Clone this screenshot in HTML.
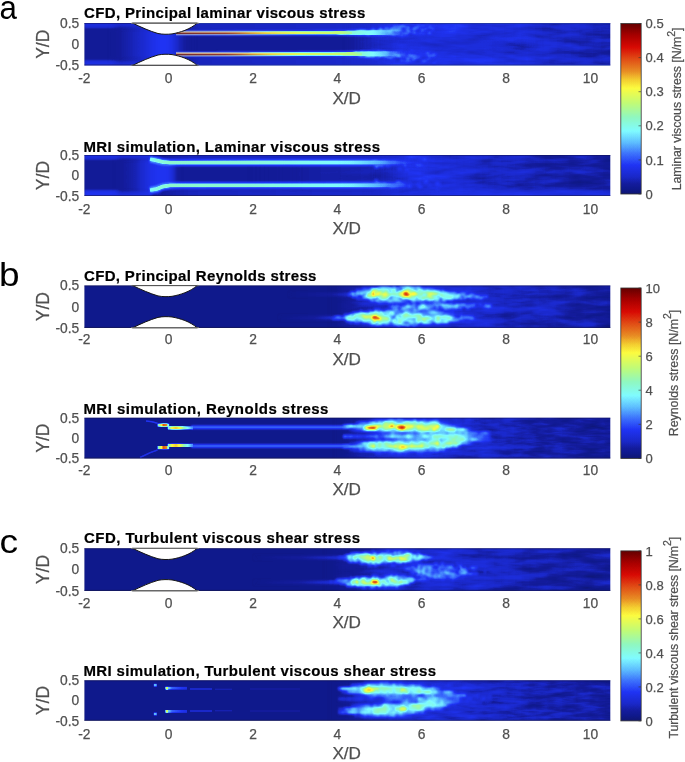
<!DOCTYPE html><html><head><meta charset="utf-8"><style>
html,body{margin:0;padding:0;background:#fff;}
svg{display:block;will-change:transform;filter:blur(0.3px);}
text{font-family:"Liberation Sans",sans-serif;}
</style></head><body>
<svg width="685" height="762" viewBox="0 0 685 762">
<defs>
<filter id="mapa1" filterUnits="userSpaceOnUse" x="84.4" y="23.0" width="525.90" height="42.50" color-interpolation-filters="sRGB">
<feTurbulence type="fractalNoise" baseFrequency="0.03 0.16" numOctaves="3" seed="3" result="t"/>
<feColorMatrix in="t" type="matrix" values="0 0 0 0 0 1 0 0 0 0 0 0 0 0 0 0 0 0 0 1" result="ng"/>
<feComposite in="SourceGraphic" in2="ng" operator="arithmetic" k1="1" k2="0" k3="0" k4="0" result="p"/>
<feColorMatrix in="SourceGraphic" type="matrix" values="1 0 0 0 0 0 0 0 0 0 0 1 0 0 0 0 0 0 1 0" result="s2"/>
<feComposite in="s2" in2="p" operator="arithmetic" k1="0" k2="1" k3="1" k4="0" result="q"/>
<feColorMatrix in="q" type="matrix" values="1 0.12 -0.06 0 0 1 0.12 -0.06 0 0 1 0.12 -0.06 0 0 0 0 0 1 0"/>
<feComponentTransfer><feFuncR type="table" tableValues="0.063 0.061 0.060 0.059 0.065 0.072 0.078 0.084 0.090 0.096 0.102 0.105 0.109 0.112 0.115 0.119 0.122 0.125 0.142 0.159 0.176 0.193 0.210 0.227 0.245 0.264 0.284 0.303 0.322 0.341 0.361 0.381 0.401 0.421 0.441 0.462 0.482 0.502 0.510 0.518 0.525 0.533 0.541 0.549 0.557 0.565 0.588 0.612 0.635 0.659 0.682 0.706 0.729 0.753 0.779 0.805 0.831 0.858 0.884 0.910 0.936 0.962 0.988 0.982 0.976 0.969 0.963 0.957 0.947 0.938 0.929 0.919 0.910 0.906 0.902 0.898 0.894 0.890 0.886 0.882 0.878 0.873 0.868 0.863 0.858 0.852 0.847 0.820 0.793 0.766 0.739 0.713 0.686 0.659 0.621 0.583 0.545 0.506 0.468 0.430 0.392"/><feFuncG type="table" tableValues="0.086 0.090 0.094 0.098 0.102 0.106 0.110 0.122 0.133 0.145 0.157 0.164 0.170 0.177 0.184 0.190 0.197 0.204 0.240 0.276 0.313 0.349 0.385 0.421 0.462 0.508 0.554 0.600 0.646 0.691 0.737 0.773 0.809 0.845 0.881 0.917 0.952 0.988 0.986 0.984 0.982 0.980 0.978 0.976 0.975 0.973 0.975 0.976 0.978 0.980 0.982 0.984 0.986 0.988 0.988 0.988 0.988 0.988 0.988 0.988 0.988 0.988 0.988 0.951 0.913 0.875 0.838 0.800 0.750 0.700 0.649 0.599 0.549 0.514 0.478 0.443 0.408 0.373 0.337 0.302 0.267 0.229 0.191 0.153 0.115 0.077 0.039 0.034 0.028 0.022 0.017 0.011 0.006 0.000 0.000 0.000 0.000 0.000 0.000 0.000 0.000"/><feFuncB type="table" tableValues="0.439 0.476 0.512 0.549 0.570 0.591 0.612 0.655 0.698 0.741 0.784 0.809 0.834 0.858 0.883 0.908 0.932 0.957 0.962 0.967 0.971 0.976 0.981 0.986 0.989 0.991 0.993 0.995 0.996 0.998 1.000 1.000 1.000 1.000 1.000 1.000 1.000 1.000 0.969 0.938 0.907 0.876 0.846 0.815 0.784 0.753 0.718 0.682 0.647 0.612 0.576 0.541 0.506 0.471 0.446 0.422 0.397 0.373 0.349 0.324 0.300 0.275 0.251 0.238 0.226 0.213 0.201 0.188 0.179 0.169 0.160 0.151 0.141 0.133 0.125 0.118 0.110 0.102 0.094 0.086 0.078 0.068 0.058 0.047 0.037 0.026 0.016 0.013 0.011 0.009 0.007 0.004 0.002 0.000 0.000 0.000 0.000 0.000 0.000 0.000 0.000"/><feFuncA type="linear" slope="0" intercept="1"/></feComponentTransfer>
</filter>
<clipPath id="clipa1"><rect x="84.4" y="23.0" width="525.90" height="42.50"/></clipPath>
<filter id="b1_2" filterUnits="userSpaceOnUse" x="0" y="0" width="685" height="762" color-interpolation-filters="sRGB"><feGaussianBlur stdDeviation="1.2"/></filter>
<filter id="b3" filterUnits="userSpaceOnUse" x="0" y="0" width="685" height="762" color-interpolation-filters="sRGB"><feGaussianBlur stdDeviation="3"/></filter>
<linearGradient id="g1" gradientUnits="userSpaceOnUse" x1="115" y1="0" x2="190" y2="0"><stop offset="0.0000" stop-color="#0d0000"/><stop offset="0.3333" stop-color="#1a0000"/><stop offset="0.5733" stop-color="#2b0000"/><stop offset="0.7333" stop-color="#2b0000"/><stop offset="0.8400" stop-color="#170000"/><stop offset="0.9733" stop-color="#0d0000"/></linearGradient>
<filter id="b1_5" filterUnits="userSpaceOnUse" x="0" y="0" width="685" height="762" color-interpolation-filters="sRGB"><feGaussianBlur stdDeviation="1.5"/></filter>
<linearGradient id="g2" gradientUnits="userSpaceOnUse" x1="178" y1="0" x2="420" y2="0"><stop offset="0.0000" stop-color="#0f0000"/><stop offset="0.0909" stop-color="#170000"/><stop offset="0.6281" stop-color="#1a0000"/><stop offset="1.0000" stop-color="#1f0000"/></linearGradient>
<linearGradient id="g3" gradientUnits="userSpaceOnUse" x1="178" y1="0" x2="420" y2="0"><stop offset="0.0000" stop-color="#0f0000"/><stop offset="0.0909" stop-color="#170000"/><stop offset="0.6281" stop-color="#1a0000"/><stop offset="1.0000" stop-color="#1f0000"/></linearGradient>
<filter id="b2_5" filterUnits="userSpaceOnUse" x="0" y="0" width="685" height="762" color-interpolation-filters="sRGB"><feGaussianBlur stdDeviation="2.5"/></filter>
<linearGradient id="g4" gradientUnits="userSpaceOnUse" x1="345" y1="0" x2="615.3" y2="0"><stop offset="0.0000" stop-color="#1a0000" stop-opacity="0"/><stop offset="0.0999" stop-color="#1f6600" stop-opacity="0.6"/><stop offset="0.2035" stop-color="#26ff00"/><stop offset="0.3885" stop-color="#26ff00"/><stop offset="0.6104" stop-color="#21ff00"/><stop offset="0.7954" stop-color="#1aff00"/><stop offset="0.9878" stop-color="#13ff00"/></linearGradient>
<filter id="b0_5" filterUnits="userSpaceOnUse" x="0" y="0" width="685" height="762" color-interpolation-filters="sRGB"><feGaussianBlur stdDeviation="0.5"/></filter>
<filter id="b1_0" filterUnits="userSpaceOnUse" x="0" y="0" width="685" height="762" color-interpolation-filters="sRGB"><feGaussianBlur stdDeviation="1.0"/></filter>
<linearGradient id="g5" gradientUnits="userSpaceOnUse" x1="176" y1="0" x2="424" y2="0"><stop offset="0.0000" stop-color="#260000"/><stop offset="0.0968" stop-color="#330000"/><stop offset="0.5000" stop-color="#380000"/><stop offset="0.7016" stop-color="#3d0000"/><stop offset="0.8226" stop-color="#380000"/><stop offset="0.9234" stop-color="#300000" stop-opacity="0.7"/><stop offset="1.0000" stop-color="#260000" stop-opacity="0"/></linearGradient>
<filter id="b0_8" filterUnits="userSpaceOnUse" x="0" y="0" width="685" height="762" color-interpolation-filters="sRGB"><feGaussianBlur stdDeviation="0.8"/></filter>
<filter id="b0_7" filterUnits="userSpaceOnUse" x="0" y="0" width="685" height="762" color-interpolation-filters="sRGB"><feGaussianBlur stdDeviation="0.7"/></filter>
<linearGradient id="g6" gradientUnits="userSpaceOnUse" x1="176" y1="0" x2="404" y2="0"><stop offset="0.0000" stop-color="#800000"/><stop offset="0.2368" stop-color="#940000"/><stop offset="0.4561" stop-color="#8f0000"/><stop offset="0.6754" stop-color="#870000"/><stop offset="0.7281" stop-color="#800000"/><stop offset="0.7719" stop-color="#6b0000"/><stop offset="0.8728" stop-color="#5c0000"/><stop offset="0.9298" stop-color="#540000" stop-opacity="0.6"/><stop offset="0.9956" stop-color="#4c0000" stop-opacity="0"/></linearGradient>
<filter id="b0_45" filterUnits="userSpaceOnUse" x="0" y="0" width="685" height="762" color-interpolation-filters="sRGB"><feGaussianBlur stdDeviation="0.45"/></filter>
<linearGradient id="g7" gradientUnits="userSpaceOnUse" x1="176" y1="0" x2="352" y2="0"><stop offset="0.0000" stop-color="#e60000"/><stop offset="0.2784" stop-color="#db0000"/><stop offset="0.4205" stop-color="#b20000"/><stop offset="0.5625" stop-color="#9e0000"/><stop offset="0.7614" stop-color="#940000"/><stop offset="0.8864" stop-color="#8f0000"/><stop offset="1.0000" stop-color="#800000"/></linearGradient>
<linearGradient id="g8" gradientUnits="userSpaceOnUse" x1="176" y1="0" x2="424" y2="0"><stop offset="0.0000" stop-color="#260000"/><stop offset="0.0968" stop-color="#330000"/><stop offset="0.5000" stop-color="#380000"/><stop offset="0.7016" stop-color="#3d0000"/><stop offset="0.8226" stop-color="#380000"/><stop offset="0.9234" stop-color="#300000" stop-opacity="0.7"/><stop offset="1.0000" stop-color="#260000" stop-opacity="0"/></linearGradient>
<linearGradient id="g9" gradientUnits="userSpaceOnUse" x1="176" y1="0" x2="404" y2="0"><stop offset="0.0000" stop-color="#800000"/><stop offset="0.2368" stop-color="#940000"/><stop offset="0.4561" stop-color="#8f0000"/><stop offset="0.6754" stop-color="#870000"/><stop offset="0.7719" stop-color="#800000"/><stop offset="0.8158" stop-color="#6b0000"/><stop offset="0.8728" stop-color="#5c0000"/><stop offset="0.9298" stop-color="#540000" stop-opacity="0.6"/><stop offset="0.9956" stop-color="#4c0000" stop-opacity="0"/></linearGradient>
<linearGradient id="g10" gradientUnits="userSpaceOnUse" x1="176" y1="0" x2="362" y2="0"><stop offset="0.0000" stop-color="#e60000"/><stop offset="0.2634" stop-color="#db0000"/><stop offset="0.3978" stop-color="#b20000"/><stop offset="0.5323" stop-color="#9e0000"/><stop offset="0.7204" stop-color="#940000"/><stop offset="0.8925" stop-color="#8f0000"/><stop offset="1.0000" stop-color="#800000"/></linearGradient>
<linearGradient id="g11" gradientUnits="userSpaceOnUse" x1="385" y1="0" x2="540" y2="0"><stop offset="0.0000" stop-color="#178000" stop-opacity="0"/><stop offset="0.2581" stop-color="#1a9900" stop-opacity="0.8"/><stop offset="0.6129" stop-color="#1bb200" stop-opacity="0.8"/><stop offset="1.0000" stop-color="#1ccc00" stop-opacity="0"/></linearGradient>
<linearGradient id="g12" gradientUnits="userSpaceOnUse" x1="176" y1="0" x2="300" y2="0"><stop offset="0" stop-color="#fff" stop-opacity="1"/><stop offset="0.45" stop-color="#fff" stop-opacity="0.85"/><stop offset="1" stop-color="#fff" stop-opacity="0"/></linearGradient>
<mask id="mg12" maskUnits="userSpaceOnUse" x="170" y="28.0" width="140" height="10"><rect x="170" y="28.0" width="140" height="10" fill="url(#g12)"/></mask>
<linearGradient id="g13" gradientUnits="userSpaceOnUse" x1="176" y1="0" x2="302" y2="0"><stop offset="0.000" stop-color="#8c98dc"/><stop offset="0.984" stop-color="#98b0d8"/></linearGradient>
<linearGradient id="g14" gradientUnits="userSpaceOnUse" x1="176" y1="0" x2="302" y2="0"><stop offset="0.000" stop-color="#c8a088"/><stop offset="0.508" stop-color="#d4b088"/><stop offset="0.984" stop-color="#dcd890"/></linearGradient>
<linearGradient id="g15" gradientUnits="userSpaceOnUse" x1="176" y1="0" x2="302" y2="0"><stop offset="0.000" stop-color="#6e2a30"/><stop offset="0.389" stop-color="#8a3a30"/><stop offset="0.627" stop-color="#c07838"/><stop offset="0.984" stop-color="#d8c850"/></linearGradient>
<linearGradient id="g16" gradientUnits="userSpaceOnUse" x1="176" y1="0" x2="300" y2="0"><stop offset="0" stop-color="#fff" stop-opacity="1"/><stop offset="0.45" stop-color="#fff" stop-opacity="0.85"/><stop offset="1" stop-color="#fff" stop-opacity="0"/></linearGradient>
<mask id="mg16" maskUnits="userSpaceOnUse" x="170" y="49.2" width="140" height="10"><rect x="170" y="49.2" width="140" height="10" fill="url(#g16)"/></mask>
<linearGradient id="g17" gradientUnits="userSpaceOnUse" x1="176" y1="0" x2="302" y2="0"><stop offset="0.000" stop-color="#8c98dc"/><stop offset="0.984" stop-color="#98b0d8"/></linearGradient>
<linearGradient id="g18" gradientUnits="userSpaceOnUse" x1="176" y1="0" x2="302" y2="0"><stop offset="0.000" stop-color="#c8a088"/><stop offset="0.508" stop-color="#d4b088"/><stop offset="0.984" stop-color="#dcd890"/></linearGradient>
<linearGradient id="g19" gradientUnits="userSpaceOnUse" x1="176" y1="0" x2="302" y2="0"><stop offset="0.000" stop-color="#6e2a30"/><stop offset="0.389" stop-color="#8a3a30"/><stop offset="0.627" stop-color="#c07838"/><stop offset="0.984" stop-color="#d8c850"/></linearGradient>
<filter id="mapa2" filterUnits="userSpaceOnUse" x="84.4" y="155.0" width="525.90" height="41.00" color-interpolation-filters="sRGB">
<feTurbulence type="fractalNoise" baseFrequency="0.03 0.16" numOctaves="3" seed="5" result="t"/>
<feColorMatrix in="t" type="matrix" values="0 0 0 0 0 1 0 0 0 0 0 0 0 0 0 0 0 0 0 1" result="ng"/>
<feComposite in="SourceGraphic" in2="ng" operator="arithmetic" k1="1" k2="0" k3="0" k4="0" result="p"/>
<feColorMatrix in="SourceGraphic" type="matrix" values="1 0 0 0 0 0 0 0 0 0 0 1 0 0 0 0 0 0 1 0" result="s2"/>
<feComposite in="s2" in2="p" operator="arithmetic" k1="0" k2="1" k3="1" k4="0" result="q"/>
<feColorMatrix in="q" type="matrix" values="1 0.12 -0.06 0 0 1 0.12 -0.06 0 0 1 0.12 -0.06 0 0 0 0 0 1 0"/>
<feComponentTransfer><feFuncR type="table" tableValues="0.063 0.061 0.060 0.059 0.065 0.072 0.078 0.084 0.090 0.096 0.102 0.105 0.109 0.112 0.115 0.119 0.122 0.125 0.142 0.159 0.176 0.193 0.210 0.227 0.245 0.264 0.284 0.303 0.322 0.341 0.361 0.381 0.401 0.421 0.441 0.462 0.482 0.502 0.510 0.518 0.525 0.533 0.541 0.549 0.557 0.565 0.588 0.612 0.635 0.659 0.682 0.706 0.729 0.753 0.779 0.805 0.831 0.858 0.884 0.910 0.936 0.962 0.988 0.982 0.976 0.969 0.963 0.957 0.947 0.938 0.929 0.919 0.910 0.906 0.902 0.898 0.894 0.890 0.886 0.882 0.878 0.873 0.868 0.863 0.858 0.852 0.847 0.820 0.793 0.766 0.739 0.713 0.686 0.659 0.621 0.583 0.545 0.506 0.468 0.430 0.392"/><feFuncG type="table" tableValues="0.086 0.090 0.094 0.098 0.102 0.106 0.110 0.122 0.133 0.145 0.157 0.164 0.170 0.177 0.184 0.190 0.197 0.204 0.240 0.276 0.313 0.349 0.385 0.421 0.462 0.508 0.554 0.600 0.646 0.691 0.737 0.773 0.809 0.845 0.881 0.917 0.952 0.988 0.986 0.984 0.982 0.980 0.978 0.976 0.975 0.973 0.975 0.976 0.978 0.980 0.982 0.984 0.986 0.988 0.988 0.988 0.988 0.988 0.988 0.988 0.988 0.988 0.988 0.951 0.913 0.875 0.838 0.800 0.750 0.700 0.649 0.599 0.549 0.514 0.478 0.443 0.408 0.373 0.337 0.302 0.267 0.229 0.191 0.153 0.115 0.077 0.039 0.034 0.028 0.022 0.017 0.011 0.006 0.000 0.000 0.000 0.000 0.000 0.000 0.000 0.000"/><feFuncB type="table" tableValues="0.439 0.476 0.512 0.549 0.570 0.591 0.612 0.655 0.698 0.741 0.784 0.809 0.834 0.858 0.883 0.908 0.932 0.957 0.962 0.967 0.971 0.976 0.981 0.986 0.989 0.991 0.993 0.995 0.996 0.998 1.000 1.000 1.000 1.000 1.000 1.000 1.000 1.000 0.969 0.938 0.907 0.876 0.846 0.815 0.784 0.753 0.718 0.682 0.647 0.612 0.576 0.541 0.506 0.471 0.446 0.422 0.397 0.373 0.349 0.324 0.300 0.275 0.251 0.238 0.226 0.213 0.201 0.188 0.179 0.169 0.160 0.151 0.141 0.133 0.125 0.118 0.110 0.102 0.094 0.086 0.078 0.068 0.058 0.047 0.037 0.026 0.016 0.013 0.011 0.009 0.007 0.004 0.002 0.000 0.000 0.000 0.000 0.000 0.000 0.000 0.000"/><feFuncA type="linear" slope="0" intercept="1"/></feComponentTransfer>
</filter>
<clipPath id="clipa2"><rect x="84.4" y="155.0" width="525.90" height="41.00"/></clipPath>
<linearGradient id="g20" gradientUnits="userSpaceOnUse" x1="118" y1="0" x2="178" y2="0"><stop offset="0.0000" stop-color="#0d0000"/><stop offset="0.2833" stop-color="#140000"/><stop offset="0.5333" stop-color="#260000"/><stop offset="0.7000" stop-color="#2b0000"/><stop offset="0.8667" stop-color="#290000"/><stop offset="0.9667" stop-color="#120000"/><stop offset="1.0333" stop-color="#0d0000"/></linearGradient>
<linearGradient id="g21" gradientUnits="userSpaceOnUse" x1="160" y1="0" x2="400" y2="0"><stop offset="0.0000" stop-color="#0f0000"/><stop offset="0.1250" stop-color="#170000"/><stop offset="0.9167" stop-color="#1a0000"/><stop offset="1.0000" stop-color="#1f0000"/></linearGradient>
<linearGradient id="g22" gradientUnits="userSpaceOnUse" x1="160" y1="0" x2="400" y2="0"><stop offset="0.0000" stop-color="#0f0000"/><stop offset="0.1250" stop-color="#170000"/><stop offset="0.9167" stop-color="#1c0000"/><stop offset="1.0000" stop-color="#210000"/></linearGradient>
<linearGradient id="g23" gradientUnits="userSpaceOnUse" x1="365" y1="0" x2="615.3" y2="0"><stop offset="0.0000" stop-color="#1a0000" stop-opacity="0"/><stop offset="0.0999" stop-color="#218000" stop-opacity="0.6"/><stop offset="0.1798" stop-color="#26ff00"/><stop offset="0.3795" stop-color="#1fff00"/><stop offset="0.5793" stop-color="#17ff00"/><stop offset="0.7791" stop-color="#12ff00"/><stop offset="0.9868" stop-color="#0fff00"/></linearGradient>
<linearGradient id="g24" gradientUnits="userSpaceOnUse" x1="400" y1="0" x2="615.3" y2="0"><stop offset="0.0000" stop-color="#268000" stop-opacity="0"/><stop offset="0.1858" stop-color="#268000"/><stop offset="0.9847" stop-color="#248000"/></linearGradient>
<filter id="b2" filterUnits="userSpaceOnUse" x="0" y="0" width="685" height="762" color-interpolation-filters="sRGB"><feGaussianBlur stdDeviation="2"/></filter>
<linearGradient id="g25" gradientUnits="userSpaceOnUse" x1="250" y1="0" x2="405" y2="0"><stop offset="0.0000" stop-color="#0d0000" stop-opacity="0"/><stop offset="0.3871" stop-color="#110000"/><stop offset="0.7742" stop-color="#144c00"/><stop offset="1.0000" stop-color="#1a8000" stop-opacity="0"/></linearGradient>
<linearGradient id="g26" gradientUnits="userSpaceOnUse" x1="150" y1="0" x2="418" y2="0"><stop offset="0.0000" stop-color="#4c0000"/><stop offset="0.0560" stop-color="#420000"/><stop offset="0.3731" stop-color="#400000"/><stop offset="0.7463" stop-color="#420000"/><stop offset="0.8396" stop-color="#403300"/><stop offset="0.9142" stop-color="#384c00" stop-opacity="0.7"/><stop offset="1.0000" stop-color="#2e4c00" stop-opacity="0"/></linearGradient>
<linearGradient id="g27" gradientUnits="userSpaceOnUse" x1="150" y1="0" x2="418" y2="0"><stop offset="0.0000" stop-color="#5e0000"/><stop offset="0.0299" stop-color="#690000"/><stop offset="0.0746" stop-color="#6e0000"/><stop offset="0.3731" stop-color="#6b0000"/><stop offset="0.5597" stop-color="#630000"/><stop offset="0.7463" stop-color="#5c0000"/><stop offset="0.8022" stop-color="#540000"/><stop offset="0.8582" stop-color="#4a3300"/><stop offset="0.9142" stop-color="#404c00" stop-opacity="0.6"/><stop offset="0.9776" stop-color="#334c00" stop-opacity="0"/></linearGradient>
<linearGradient id="g28" gradientUnits="userSpaceOnUse" x1="150" y1="0" x2="418" y2="0"><stop offset="0.0000" stop-color="#4c0000"/><stop offset="0.0560" stop-color="#420000"/><stop offset="0.3731" stop-color="#400000"/><stop offset="0.7463" stop-color="#420000"/><stop offset="0.8396" stop-color="#403300"/><stop offset="0.9142" stop-color="#384c00" stop-opacity="0.7"/><stop offset="1.0000" stop-color="#2e4c00" stop-opacity="0"/></linearGradient>
<linearGradient id="g29" gradientUnits="userSpaceOnUse" x1="150" y1="0" x2="418" y2="0"><stop offset="0.0000" stop-color="#5e0000"/><stop offset="0.0299" stop-color="#690000"/><stop offset="0.0746" stop-color="#6e0000"/><stop offset="0.3731" stop-color="#6b0000"/><stop offset="0.5597" stop-color="#630000"/><stop offset="0.7463" stop-color="#5c0000"/><stop offset="0.8022" stop-color="#540000"/><stop offset="0.8582" stop-color="#4a3300"/><stop offset="0.9142" stop-color="#404c00" stop-opacity="0.6"/><stop offset="0.9776" stop-color="#334c00" stop-opacity="0"/></linearGradient>
<filter id="mapb1" filterUnits="userSpaceOnUse" x="84.4" y="285.4" width="525.90" height="42.50" color-interpolation-filters="sRGB">
<feTurbulence type="fractalNoise" baseFrequency="0.03 0.15" numOctaves="3" seed="9" result="t"/>
<feColorMatrix in="t" type="matrix" values="0 0 0 0 0 1 0 0 0 0 0 0 0 0 0 0 0 0 0 1" result="ng"/>
<feComposite in="SourceGraphic" in2="ng" operator="arithmetic" k1="1" k2="0" k3="0" k4="0" result="p"/>
<feColorMatrix in="SourceGraphic" type="matrix" values="1 0 0 0 0 0 0 0 0 0 0 1 0 0 0 0 0 0 1 0" result="s2"/>
<feComposite in="s2" in2="p" operator="arithmetic" k1="0" k2="1" k3="1" k4="0" result="q"/>
<feColorMatrix in="q" type="matrix" values="1 0.14 -0.07 0 0 1 0.14 -0.07 0 0 1 0.14 -0.07 0 0 0 0 0 1 0"/>
<feComponentTransfer><feFuncR type="table" tableValues="0.063 0.061 0.060 0.059 0.065 0.072 0.078 0.084 0.090 0.096 0.102 0.105 0.109 0.112 0.115 0.119 0.122 0.125 0.142 0.159 0.176 0.193 0.210 0.227 0.245 0.264 0.284 0.303 0.322 0.341 0.361 0.381 0.401 0.421 0.441 0.462 0.482 0.502 0.510 0.518 0.525 0.533 0.541 0.549 0.557 0.565 0.588 0.612 0.635 0.659 0.682 0.706 0.729 0.753 0.779 0.805 0.831 0.858 0.884 0.910 0.936 0.962 0.988 0.982 0.976 0.969 0.963 0.957 0.947 0.938 0.929 0.919 0.910 0.906 0.902 0.898 0.894 0.890 0.886 0.882 0.878 0.873 0.868 0.863 0.858 0.852 0.847 0.820 0.793 0.766 0.739 0.713 0.686 0.659 0.621 0.583 0.545 0.506 0.468 0.430 0.392"/><feFuncG type="table" tableValues="0.086 0.090 0.094 0.098 0.102 0.106 0.110 0.122 0.133 0.145 0.157 0.164 0.170 0.177 0.184 0.190 0.197 0.204 0.240 0.276 0.313 0.349 0.385 0.421 0.462 0.508 0.554 0.600 0.646 0.691 0.737 0.773 0.809 0.845 0.881 0.917 0.952 0.988 0.986 0.984 0.982 0.980 0.978 0.976 0.975 0.973 0.975 0.976 0.978 0.980 0.982 0.984 0.986 0.988 0.988 0.988 0.988 0.988 0.988 0.988 0.988 0.988 0.988 0.951 0.913 0.875 0.838 0.800 0.750 0.700 0.649 0.599 0.549 0.514 0.478 0.443 0.408 0.373 0.337 0.302 0.267 0.229 0.191 0.153 0.115 0.077 0.039 0.034 0.028 0.022 0.017 0.011 0.006 0.000 0.000 0.000 0.000 0.000 0.000 0.000 0.000"/><feFuncB type="table" tableValues="0.439 0.476 0.512 0.549 0.570 0.591 0.612 0.655 0.698 0.741 0.784 0.809 0.834 0.858 0.883 0.908 0.932 0.957 0.962 0.967 0.971 0.976 0.981 0.986 0.989 0.991 0.993 0.995 0.996 0.998 1.000 1.000 1.000 1.000 1.000 1.000 1.000 1.000 0.969 0.938 0.907 0.876 0.846 0.815 0.784 0.753 0.718 0.682 0.647 0.612 0.576 0.541 0.506 0.471 0.446 0.422 0.397 0.373 0.349 0.324 0.300 0.275 0.251 0.238 0.226 0.213 0.201 0.188 0.179 0.169 0.160 0.151 0.141 0.133 0.125 0.118 0.110 0.102 0.094 0.086 0.078 0.068 0.058 0.047 0.037 0.026 0.016 0.013 0.011 0.009 0.007 0.004 0.002 0.000 0.000 0.000 0.000 0.000 0.000 0.000 0.000"/><feFuncA type="linear" slope="0" intercept="1"/></feComponentTransfer>
</filter>
<clipPath id="clipb1"><rect x="84.4" y="285.4" width="525.90" height="42.50"/></clipPath>
<linearGradient id="g30" gradientUnits="userSpaceOnUse" x1="335" y1="0" x2="615.3" y2="0"><stop offset="0.0000" stop-color="#080000"/><stop offset="0.0714" stop-color="#128000"/><stop offset="0.1605" stop-color="#1fff00"/><stop offset="0.4460" stop-color="#1fff00"/><stop offset="0.5887" stop-color="#1aff00"/><stop offset="0.8027" stop-color="#13ff00"/><stop offset="0.9882" stop-color="#0eff00"/></linearGradient>
<filter id="b1_6" filterUnits="userSpaceOnUse" x="0" y="0" width="685" height="762" color-interpolation-filters="sRGB"><feGaussianBlur stdDeviation="1.6"/></filter>
<linearGradient id="g31" gradientUnits="userSpaceOnUse" x1="290" y1="0" x2="352" y2="0"><stop offset="0.0000" stop-color="#080000"/><stop offset="0.6452" stop-color="#120000"/><stop offset="1.0000" stop-color="#240000"/></linearGradient>
<linearGradient id="g32" gradientUnits="userSpaceOnUse" x1="280" y1="0" x2="340" y2="0"><stop offset="0.0000" stop-color="#080000"/><stop offset="0.5833" stop-color="#140000"/><stop offset="1.0000" stop-color="#2e0000"/></linearGradient>
<filter id="b0_85" filterUnits="userSpaceOnUse" x="0" y="0" width="685" height="762" color-interpolation-filters="sRGB"><feGaussianBlur stdDeviation="0.85"/></filter>
<filter id="mapb2" filterUnits="userSpaceOnUse" x="84.4" y="417.7" width="525.90" height="40.80" color-interpolation-filters="sRGB">
<feTurbulence type="fractalNoise" baseFrequency="0.04 0.2" numOctaves="3" seed="13" result="t"/>
<feColorMatrix in="t" type="matrix" values="0 0 0 0 0 1 0 0 0 0 0 0 0 0 0 0 0 0 0 1" result="ng"/>
<feComposite in="SourceGraphic" in2="ng" operator="arithmetic" k1="1" k2="0" k3="0" k4="0" result="p"/>
<feColorMatrix in="SourceGraphic" type="matrix" values="1 0 0 0 0 0 0 0 0 0 0 1 0 0 0 0 0 0 1 0" result="s2"/>
<feComposite in="s2" in2="p" operator="arithmetic" k1="0" k2="1" k3="1" k4="0" result="q"/>
<feColorMatrix in="q" type="matrix" values="1 0.14 -0.07 0 0 1 0.14 -0.07 0 0 1 0.14 -0.07 0 0 0 0 0 1 0"/>
<feComponentTransfer><feFuncR type="table" tableValues="0.063 0.061 0.060 0.059 0.065 0.072 0.078 0.084 0.090 0.096 0.102 0.105 0.109 0.112 0.115 0.119 0.122 0.125 0.142 0.159 0.176 0.193 0.210 0.227 0.245 0.264 0.284 0.303 0.322 0.341 0.361 0.381 0.401 0.421 0.441 0.462 0.482 0.502 0.510 0.518 0.525 0.533 0.541 0.549 0.557 0.565 0.588 0.612 0.635 0.659 0.682 0.706 0.729 0.753 0.779 0.805 0.831 0.858 0.884 0.910 0.936 0.962 0.988 0.982 0.976 0.969 0.963 0.957 0.947 0.938 0.929 0.919 0.910 0.906 0.902 0.898 0.894 0.890 0.886 0.882 0.878 0.873 0.868 0.863 0.858 0.852 0.847 0.820 0.793 0.766 0.739 0.713 0.686 0.659 0.621 0.583 0.545 0.506 0.468 0.430 0.392"/><feFuncG type="table" tableValues="0.086 0.090 0.094 0.098 0.102 0.106 0.110 0.122 0.133 0.145 0.157 0.164 0.170 0.177 0.184 0.190 0.197 0.204 0.240 0.276 0.313 0.349 0.385 0.421 0.462 0.508 0.554 0.600 0.646 0.691 0.737 0.773 0.809 0.845 0.881 0.917 0.952 0.988 0.986 0.984 0.982 0.980 0.978 0.976 0.975 0.973 0.975 0.976 0.978 0.980 0.982 0.984 0.986 0.988 0.988 0.988 0.988 0.988 0.988 0.988 0.988 0.988 0.988 0.951 0.913 0.875 0.838 0.800 0.750 0.700 0.649 0.599 0.549 0.514 0.478 0.443 0.408 0.373 0.337 0.302 0.267 0.229 0.191 0.153 0.115 0.077 0.039 0.034 0.028 0.022 0.017 0.011 0.006 0.000 0.000 0.000 0.000 0.000 0.000 0.000 0.000"/><feFuncB type="table" tableValues="0.439 0.476 0.512 0.549 0.570 0.591 0.612 0.655 0.698 0.741 0.784 0.809 0.834 0.858 0.883 0.908 0.932 0.957 0.962 0.967 0.971 0.976 0.981 0.986 0.989 0.991 0.993 0.995 0.996 0.998 1.000 1.000 1.000 1.000 1.000 1.000 1.000 1.000 0.969 0.938 0.907 0.876 0.846 0.815 0.784 0.753 0.718 0.682 0.647 0.612 0.576 0.541 0.506 0.471 0.446 0.422 0.397 0.373 0.349 0.324 0.300 0.275 0.251 0.238 0.226 0.213 0.201 0.188 0.179 0.169 0.160 0.151 0.141 0.133 0.125 0.118 0.110 0.102 0.094 0.086 0.078 0.068 0.058 0.047 0.037 0.026 0.016 0.013 0.011 0.009 0.007 0.004 0.002 0.000 0.000 0.000 0.000 0.000 0.000 0.000 0.000"/><feFuncA type="linear" slope="0" intercept="1"/></feComponentTransfer>
</filter>
<clipPath id="clipb2"><rect x="84.4" y="417.7" width="525.90" height="40.80"/></clipPath>
<linearGradient id="g33" gradientUnits="userSpaceOnUse" x1="340" y1="0" x2="615.3" y2="0"><stop offset="0.0000" stop-color="#080000"/><stop offset="0.1090" stop-color="#148000"/><stop offset="0.2906" stop-color="#1fff00"/><stop offset="0.5085" stop-color="#1aff00"/><stop offset="0.7265" stop-color="#12ff00"/><stop offset="0.9880" stop-color="#0dff00"/></linearGradient>
<linearGradient id="g34" gradientUnits="userSpaceOnUse" x1="157.5" y1="0" x2="168" y2="0"><stop offset="0.0000" stop-color="#610000"/><stop offset="0.2857" stop-color="#8c0000"/><stop offset="0.5714" stop-color="#c70000"/><stop offset="0.8571" stop-color="#b80000"/><stop offset="1.0000" stop-color="#730000"/></linearGradient>
<linearGradient id="g35" gradientUnits="userSpaceOnUse" x1="168" y1="0" x2="193" y2="0"><stop offset="0.0000" stop-color="#5c0000"/><stop offset="0.0800" stop-color="#800000"/><stop offset="0.1600" stop-color="#9e0000"/><stop offset="0.3200" stop-color="#ab0000"/><stop offset="0.4800" stop-color="#990000"/><stop offset="0.6400" stop-color="#750000"/><stop offset="0.8000" stop-color="#5c0000"/><stop offset="1.0000" stop-color="#450000"/></linearGradient>
<linearGradient id="g36" gradientUnits="userSpaceOnUse" x1="157.5" y1="0" x2="168" y2="0"><stop offset="0.0000" stop-color="#610000"/><stop offset="0.2857" stop-color="#8c0000"/><stop offset="0.5714" stop-color="#c70000"/><stop offset="0.8571" stop-color="#b80000"/><stop offset="1.0000" stop-color="#730000"/></linearGradient>
<linearGradient id="g37" gradientUnits="userSpaceOnUse" x1="168" y1="0" x2="193" y2="0"><stop offset="0.0000" stop-color="#5c0000"/><stop offset="0.0800" stop-color="#800000"/><stop offset="0.1600" stop-color="#9e0000"/><stop offset="0.3200" stop-color="#ab0000"/><stop offset="0.4800" stop-color="#990000"/><stop offset="0.6400" stop-color="#750000"/><stop offset="0.8000" stop-color="#5c0000"/><stop offset="1.0000" stop-color="#450000"/></linearGradient>
<linearGradient id="g38" gradientUnits="userSpaceOnUse" x1="191" y1="0" x2="352" y2="0"><stop offset="0.0000" stop-color="#400000"/><stop offset="0.0559" stop-color="#420000"/><stop offset="0.9255" stop-color="#420000"/><stop offset="1.0000" stop-color="#470000"/></linearGradient>
<linearGradient id="g39" gradientUnits="userSpaceOnUse" x1="191" y1="0" x2="352" y2="0"><stop offset="0.0000" stop-color="#400000"/><stop offset="0.0559" stop-color="#420000"/><stop offset="0.9255" stop-color="#420000"/><stop offset="1.0000" stop-color="#470000"/></linearGradient>
<filter id="b0_9" filterUnits="userSpaceOnUse" x="0" y="0" width="685" height="762" color-interpolation-filters="sRGB"><feGaussianBlur stdDeviation="0.9"/></filter>
<filter id="mapc1" filterUnits="userSpaceOnUse" x="84.4" y="548.2" width="525.90" height="42.70" color-interpolation-filters="sRGB">
<feTurbulence type="fractalNoise" baseFrequency="0.03 0.15" numOctaves="3" seed="17" result="t"/>
<feColorMatrix in="t" type="matrix" values="0 0 0 0 0 1 0 0 0 0 0 0 0 0 0 0 0 0 0 1" result="ng"/>
<feComposite in="SourceGraphic" in2="ng" operator="arithmetic" k1="1" k2="0" k3="0" k4="0" result="p"/>
<feColorMatrix in="SourceGraphic" type="matrix" values="1 0 0 0 0 0 0 0 0 0 0 1 0 0 0 0 0 0 1 0" result="s2"/>
<feComposite in="s2" in2="p" operator="arithmetic" k1="0" k2="1" k3="1" k4="0" result="q"/>
<feColorMatrix in="q" type="matrix" values="1 0.14 -0.07 0 0 1 0.14 -0.07 0 0 1 0.14 -0.07 0 0 0 0 0 1 0"/>
<feComponentTransfer><feFuncR type="table" tableValues="0.063 0.061 0.060 0.059 0.065 0.072 0.078 0.084 0.090 0.096 0.102 0.105 0.109 0.112 0.115 0.119 0.122 0.125 0.142 0.159 0.176 0.193 0.210 0.227 0.245 0.264 0.284 0.303 0.322 0.341 0.361 0.381 0.401 0.421 0.441 0.462 0.482 0.502 0.510 0.518 0.525 0.533 0.541 0.549 0.557 0.565 0.588 0.612 0.635 0.659 0.682 0.706 0.729 0.753 0.779 0.805 0.831 0.858 0.884 0.910 0.936 0.962 0.988 0.982 0.976 0.969 0.963 0.957 0.947 0.938 0.929 0.919 0.910 0.906 0.902 0.898 0.894 0.890 0.886 0.882 0.878 0.873 0.868 0.863 0.858 0.852 0.847 0.820 0.793 0.766 0.739 0.713 0.686 0.659 0.621 0.583 0.545 0.506 0.468 0.430 0.392"/><feFuncG type="table" tableValues="0.086 0.090 0.094 0.098 0.102 0.106 0.110 0.122 0.133 0.145 0.157 0.164 0.170 0.177 0.184 0.190 0.197 0.204 0.240 0.276 0.313 0.349 0.385 0.421 0.462 0.508 0.554 0.600 0.646 0.691 0.737 0.773 0.809 0.845 0.881 0.917 0.952 0.988 0.986 0.984 0.982 0.980 0.978 0.976 0.975 0.973 0.975 0.976 0.978 0.980 0.982 0.984 0.986 0.988 0.988 0.988 0.988 0.988 0.988 0.988 0.988 0.988 0.988 0.951 0.913 0.875 0.838 0.800 0.750 0.700 0.649 0.599 0.549 0.514 0.478 0.443 0.408 0.373 0.337 0.302 0.267 0.229 0.191 0.153 0.115 0.077 0.039 0.034 0.028 0.022 0.017 0.011 0.006 0.000 0.000 0.000 0.000 0.000 0.000 0.000 0.000"/><feFuncB type="table" tableValues="0.439 0.476 0.512 0.549 0.570 0.591 0.612 0.655 0.698 0.741 0.784 0.809 0.834 0.858 0.883 0.908 0.932 0.957 0.962 0.967 0.971 0.976 0.981 0.986 0.989 0.991 0.993 0.995 0.996 0.998 1.000 1.000 1.000 1.000 1.000 1.000 1.000 1.000 0.969 0.938 0.907 0.876 0.846 0.815 0.784 0.753 0.718 0.682 0.647 0.612 0.576 0.541 0.506 0.471 0.446 0.422 0.397 0.373 0.349 0.324 0.300 0.275 0.251 0.238 0.226 0.213 0.201 0.188 0.179 0.169 0.160 0.151 0.141 0.133 0.125 0.118 0.110 0.102 0.094 0.086 0.078 0.068 0.058 0.047 0.037 0.026 0.016 0.013 0.011 0.009 0.007 0.004 0.002 0.000 0.000 0.000 0.000 0.000 0.000 0.000 0.000"/><feFuncA type="linear" slope="0" intercept="1"/></feComponentTransfer>
</filter>
<clipPath id="clipc1"><rect x="84.4" y="548.2" width="525.90" height="42.70"/></clipPath>
<linearGradient id="g40" gradientUnits="userSpaceOnUse" x1="330" y1="0" x2="615.3" y2="0"><stop offset="0.0000" stop-color="#080000"/><stop offset="0.0876" stop-color="#0f8000"/><stop offset="0.2454" stop-color="#1cff00"/><stop offset="0.4206" stop-color="#1fff00"/><stop offset="0.5608" stop-color="#1aff00"/><stop offset="0.7361" stop-color="#13ff00"/><stop offset="0.9884" stop-color="#0eff00"/></linearGradient>
<filter id="b1_4" filterUnits="userSpaceOnUse" x="0" y="0" width="685" height="762" color-interpolation-filters="sRGB"><feGaussianBlur stdDeviation="1.4"/></filter>
<linearGradient id="g41" gradientUnits="userSpaceOnUse" x1="255" y1="0" x2="352" y2="0"><stop offset="0.0000" stop-color="#080000"/><stop offset="0.4639" stop-color="#140000"/><stop offset="1.0000" stop-color="#330000"/></linearGradient>
<linearGradient id="g42" gradientUnits="userSpaceOnUse" x1="255" y1="0" x2="342" y2="0"><stop offset="0.0000" stop-color="#080000"/><stop offset="0.5172" stop-color="#170000"/><stop offset="1.0000" stop-color="#380000"/></linearGradient>
<filter id="mapc2" filterUnits="userSpaceOnUse" x="84.4" y="680.3" width="525.90" height="40.50" color-interpolation-filters="sRGB">
<feTurbulence type="fractalNoise" baseFrequency="0.04 0.2" numOctaves="3" seed="23" result="t"/>
<feColorMatrix in="t" type="matrix" values="0 0 0 0 0 1 0 0 0 0 0 0 0 0 0 0 0 0 0 1" result="ng"/>
<feComposite in="SourceGraphic" in2="ng" operator="arithmetic" k1="1" k2="0" k3="0" k4="0" result="p"/>
<feColorMatrix in="SourceGraphic" type="matrix" values="1 0 0 0 0 0 0 0 0 0 0 1 0 0 0 0 0 0 1 0" result="s2"/>
<feComposite in="s2" in2="p" operator="arithmetic" k1="0" k2="1" k3="1" k4="0" result="q"/>
<feColorMatrix in="q" type="matrix" values="1 0.14 -0.07 0 0 1 0.14 -0.07 0 0 1 0.14 -0.07 0 0 0 0 0 1 0"/>
<feComponentTransfer><feFuncR type="table" tableValues="0.063 0.061 0.060 0.059 0.065 0.072 0.078 0.084 0.090 0.096 0.102 0.105 0.109 0.112 0.115 0.119 0.122 0.125 0.142 0.159 0.176 0.193 0.210 0.227 0.245 0.264 0.284 0.303 0.322 0.341 0.361 0.381 0.401 0.421 0.441 0.462 0.482 0.502 0.510 0.518 0.525 0.533 0.541 0.549 0.557 0.565 0.588 0.612 0.635 0.659 0.682 0.706 0.729 0.753 0.779 0.805 0.831 0.858 0.884 0.910 0.936 0.962 0.988 0.982 0.976 0.969 0.963 0.957 0.947 0.938 0.929 0.919 0.910 0.906 0.902 0.898 0.894 0.890 0.886 0.882 0.878 0.873 0.868 0.863 0.858 0.852 0.847 0.820 0.793 0.766 0.739 0.713 0.686 0.659 0.621 0.583 0.545 0.506 0.468 0.430 0.392"/><feFuncG type="table" tableValues="0.086 0.090 0.094 0.098 0.102 0.106 0.110 0.122 0.133 0.145 0.157 0.164 0.170 0.177 0.184 0.190 0.197 0.204 0.240 0.276 0.313 0.349 0.385 0.421 0.462 0.508 0.554 0.600 0.646 0.691 0.737 0.773 0.809 0.845 0.881 0.917 0.952 0.988 0.986 0.984 0.982 0.980 0.978 0.976 0.975 0.973 0.975 0.976 0.978 0.980 0.982 0.984 0.986 0.988 0.988 0.988 0.988 0.988 0.988 0.988 0.988 0.988 0.988 0.951 0.913 0.875 0.838 0.800 0.750 0.700 0.649 0.599 0.549 0.514 0.478 0.443 0.408 0.373 0.337 0.302 0.267 0.229 0.191 0.153 0.115 0.077 0.039 0.034 0.028 0.022 0.017 0.011 0.006 0.000 0.000 0.000 0.000 0.000 0.000 0.000 0.000"/><feFuncB type="table" tableValues="0.439 0.476 0.512 0.549 0.570 0.591 0.612 0.655 0.698 0.741 0.784 0.809 0.834 0.858 0.883 0.908 0.932 0.957 0.962 0.967 0.971 0.976 0.981 0.986 0.989 0.991 0.993 0.995 0.996 0.998 1.000 1.000 1.000 1.000 1.000 1.000 1.000 1.000 0.969 0.938 0.907 0.876 0.846 0.815 0.784 0.753 0.718 0.682 0.647 0.612 0.576 0.541 0.506 0.471 0.446 0.422 0.397 0.373 0.349 0.324 0.300 0.275 0.251 0.238 0.226 0.213 0.201 0.188 0.179 0.169 0.160 0.151 0.141 0.133 0.125 0.118 0.110 0.102 0.094 0.086 0.078 0.068 0.058 0.047 0.037 0.026 0.016 0.013 0.011 0.009 0.007 0.004 0.002 0.000 0.000 0.000 0.000 0.000 0.000 0.000 0.000"/><feFuncA type="linear" slope="0" intercept="1"/></feComponentTransfer>
</filter>
<clipPath id="clipc2"><rect x="84.4" y="680.3" width="525.90" height="40.50"/></clipPath>
<linearGradient id="g43" gradientUnits="userSpaceOnUse" x1="335" y1="0" x2="615.3" y2="0"><stop offset="0.0000" stop-color="#080000"/><stop offset="0.1070" stop-color="#128000"/><stop offset="0.3032" stop-color="#1fff00"/><stop offset="0.5173" stop-color="#1cff00"/><stop offset="0.7314" stop-color="#14ff00"/><stop offset="0.9882" stop-color="#0fff00"/></linearGradient>
<linearGradient id="g44" gradientUnits="userSpaceOnUse" x1="168.5" y1="0" x2="187" y2="0"><stop offset="0.0000" stop-color="#520000"/><stop offset="0.1892" stop-color="#380000"/><stop offset="1.0000" stop-color="#240000"/></linearGradient>
<linearGradient id="g45" gradientUnits="userSpaceOnUse" x1="168.5" y1="0" x2="187" y2="0"><stop offset="0.0000" stop-color="#520000"/><stop offset="0.1892" stop-color="#380000"/><stop offset="1.0000" stop-color="#240000"/></linearGradient>
<filter id="jm" x="0" y="0" width="1" height="1" color-interpolation-filters="sRGB">
<feComponentTransfer><feFuncR type="table" tableValues="0.063 0.061 0.060 0.059 0.065 0.072 0.078 0.084 0.090 0.096 0.102 0.105 0.109 0.112 0.115 0.119 0.122 0.125 0.142 0.159 0.176 0.193 0.210 0.227 0.245 0.264 0.284 0.303 0.322 0.341 0.361 0.381 0.401 0.421 0.441 0.462 0.482 0.502 0.510 0.518 0.525 0.533 0.541 0.549 0.557 0.565 0.588 0.612 0.635 0.659 0.682 0.706 0.729 0.753 0.779 0.805 0.831 0.858 0.884 0.910 0.936 0.962 0.988 0.982 0.976 0.969 0.963 0.957 0.947 0.938 0.929 0.919 0.910 0.906 0.902 0.898 0.894 0.890 0.886 0.882 0.878 0.873 0.868 0.863 0.858 0.852 0.847 0.820 0.793 0.766 0.739 0.713 0.686 0.659 0.621 0.583 0.545 0.506 0.468 0.430 0.392"/><feFuncG type="table" tableValues="0.086 0.090 0.094 0.098 0.102 0.106 0.110 0.122 0.133 0.145 0.157 0.164 0.170 0.177 0.184 0.190 0.197 0.204 0.240 0.276 0.313 0.349 0.385 0.421 0.462 0.508 0.554 0.600 0.646 0.691 0.737 0.773 0.809 0.845 0.881 0.917 0.952 0.988 0.986 0.984 0.982 0.980 0.978 0.976 0.975 0.973 0.975 0.976 0.978 0.980 0.982 0.984 0.986 0.988 0.988 0.988 0.988 0.988 0.988 0.988 0.988 0.988 0.988 0.951 0.913 0.875 0.838 0.800 0.750 0.700 0.649 0.599 0.549 0.514 0.478 0.443 0.408 0.373 0.337 0.302 0.267 0.229 0.191 0.153 0.115 0.077 0.039 0.034 0.028 0.022 0.017 0.011 0.006 0.000 0.000 0.000 0.000 0.000 0.000 0.000 0.000"/><feFuncB type="table" tableValues="0.439 0.476 0.512 0.549 0.570 0.591 0.612 0.655 0.698 0.741 0.784 0.809 0.834 0.858 0.883 0.908 0.932 0.957 0.962 0.967 0.971 0.976 0.981 0.986 0.989 0.991 0.993 0.995 0.996 0.998 1.000 1.000 1.000 1.000 1.000 1.000 1.000 1.000 0.969 0.938 0.907 0.876 0.846 0.815 0.784 0.753 0.718 0.682 0.647 0.612 0.576 0.541 0.506 0.471 0.446 0.422 0.397 0.373 0.349 0.324 0.300 0.275 0.251 0.238 0.226 0.213 0.201 0.188 0.179 0.169 0.160 0.151 0.141 0.133 0.125 0.118 0.110 0.102 0.094 0.086 0.078 0.068 0.058 0.047 0.037 0.026 0.016 0.013 0.011 0.009 0.007 0.004 0.002 0.000 0.000 0.000 0.000 0.000 0.000 0.000 0.000"/></feComponentTransfer></filter>
<linearGradient id="cbg" x1="0" y1="1" x2="0" y2="0"><stop offset="0" stop-color="#000"/><stop offset="1" stop-color="#fff"/></linearGradient>
</defs>
<rect width="685" height="762" fill="#fff"/>
<g clip-path="url(#clipa1)"><g filter="url(#mapa1)">
<rect x="84.40" y="23.00" width="525.90" height="42.50" fill="#0d0000"/>
<g filter="url(#b1_2)">
<rect x="84.40" y="20.00" width="115.60" height="8.00" fill="#210000"/>
<rect x="84.40" y="60.30" width="115.60" height="8.20" fill="#240000"/>
</g>
<g filter="url(#b3)">
<rect x="115.00" y="26.00" width="75.00" height="36.50" fill="url(#g1)"/>
</g>
<g filter="url(#b1_5)">
<rect x="178.00" y="21.00" width="242.00" height="10.50" fill="url(#g2)"/>
<rect x="178.00" y="56.50" width="242.00" height="11.00" fill="url(#g3)"/>
</g>
<g filter="url(#b2_5)">
<rect x="345.00" y="20.00" width="270.30" height="48.50" fill="url(#g4)"/>
</g>
<g filter="url(#b0_5)">
<rect x="185.00" y="22.00" width="425.30" height="1.90" fill="#380000"/>
<rect x="185.00" y="64.60" width="425.30" height="1.90" fill="#380000"/>
</g>
<g filter="url(#b1_0)">
<path d="M176.00,30.80 L180.00,30.79 L184.00,30.78 L188.00,30.76 L192.00,30.75 L196.00,30.74 L200.00,30.73 L204.00,30.71 L208.00,30.70 L212.00,30.69 L216.00,30.68 L220.00,30.67 L224.00,30.65 L228.00,30.64 L232.00,30.63 L236.00,30.62 L240.00,30.61 L244.00,30.59 L248.00,30.58 L252.00,30.57 L256.00,30.56 L260.00,30.54 L264.00,30.53 L268.00,30.52 L272.00,30.51 L276.00,30.50 L280.00,30.48 L284.00,30.47 L288.00,30.46 L292.00,30.45 L296.00,30.44 L300.00,30.42 L304.00,30.41 L308.00,30.40 L312.00,30.39 L316.00,30.37 L320.00,30.36 L324.00,30.35 L328.00,30.34 L332.00,30.29 L336.00,30.20 L340.00,30.11 L344.00,30.03 L348.00,29.94 L352.00,29.85 L356.00,29.77 L360.00,29.68 L364.00,29.61 L368.00,29.54 L372.00,29.47 L376.00,29.40 L380.00,29.33 L384.00,29.25 L388.00,29.21 L392.00,29.18 L396.00,29.15 L400.00,29.12 L404.00,29.09 L408.00,29.07 L412.00,29.04 L416.00,29.01 L420.00,28.98 L424.00,28.97 L424.00,36.17 L420.00,36.18 L416.00,36.16 L412.00,36.14 L408.00,36.13 L404.00,36.11 L400.00,36.10 L396.00,36.08 L392.00,36.06 L388.00,36.05 L384.00,36.02 L380.00,35.97 L376.00,35.91 L372.00,35.85 L368.00,35.79 L364.00,35.74 L360.00,35.68 L356.00,35.61 L352.00,35.53 L348.00,35.46 L344.00,35.39 L340.00,35.31 L336.00,35.24 L332.00,35.17 L328.00,35.13 L324.00,35.13 L320.00,35.14 L316.00,35.14 L312.00,35.14 L308.00,35.14 L304.00,35.14 L300.00,35.15 L296.00,35.15 L292.00,35.15 L288.00,35.15 L284.00,35.15 L280.00,35.15 L276.00,35.16 L272.00,35.16 L268.00,35.16 L264.00,35.16 L260.00,35.16 L256.00,35.16 L252.00,35.17 L248.00,35.17 L244.00,35.17 L240.00,35.17 L236.00,35.17 L232.00,35.18 L228.00,35.18 L224.00,35.18 L220.00,35.18 L216.00,35.18 L212.00,35.18 L208.00,35.19 L204.00,35.19 L200.00,35.19 L196.00,35.19 L192.00,35.19 L188.00,35.19 L184.00,35.20 L180.00,35.20 L176.00,35.20 Z" fill="url(#g5)"/>
</g>
<g filter="url(#b0_8)">
<ellipse cx="395.34" cy="33.80" rx="1.79" ry="0.64" fill="#1f3300"/>
<ellipse cx="371.42" cy="31.39" rx="1.36" ry="0.71" fill="#203300"/>
<ellipse cx="400.82" cy="24.24" rx="2.82" ry="1.02" fill="#213300"/>
<ellipse cx="411.24" cy="34.63" rx="2.14" ry="0.92" fill="#213300"/>
<ellipse cx="376.07" cy="28.92" rx="1.25" ry="0.92" fill="#213300"/>
<ellipse cx="381.15" cy="34.78" rx="3.17" ry="0.61" fill="#223300"/>
<ellipse cx="394.53" cy="26.52" rx="2.19" ry="0.80" fill="#223300"/>
<ellipse cx="422.96" cy="24.88" rx="1.63" ry="0.85" fill="#223300"/>
<ellipse cx="413.55" cy="23.52" rx="2.26" ry="0.87" fill="#243300"/>
<ellipse cx="383.30" cy="27.08" rx="2.28" ry="1.07" fill="#243300"/>
<ellipse cx="360.78" cy="30.22" rx="1.61" ry="0.90" fill="#283300"/>
<ellipse cx="399.36" cy="25.36" rx="1.90" ry="0.99" fill="#283300"/>
<ellipse cx="393.10" cy="28.26" rx="2.45" ry="0.87" fill="#283300"/>
<ellipse cx="434.29" cy="26.52" rx="1.49" ry="0.50" fill="#293300"/>
<ellipse cx="380.90" cy="32.19" rx="2.84" ry="1.10" fill="#2b3300"/>
<ellipse cx="365.54" cy="31.09" rx="1.50" ry="0.63" fill="#2b3300"/>
<ellipse cx="430.68" cy="37.21" rx="1.50" ry="0.65" fill="#203300"/>
<ellipse cx="428.39" cy="19.48" rx="2.92" ry="1.05" fill="#233300"/>
<ellipse cx="408.81" cy="36.23" rx="1.31" ry="1.02" fill="#233300"/>
<ellipse cx="425.19" cy="36.84" rx="2.31" ry="0.54" fill="#253300"/>
<ellipse cx="402.89" cy="36.37" rx="1.48" ry="0.97" fill="#263300"/>
<ellipse cx="415.29" cy="22.77" rx="2.97" ry="1.02" fill="#2a3300"/>
<ellipse cx="417.36" cy="21.63" rx="2.27" ry="0.93" fill="#2b3300"/>
<ellipse cx="421.47" cy="22.62" rx="1.46" ry="1.09" fill="#2c3300"/>
<ellipse cx="422.02" cy="22.36" rx="3.14" ry="1.06" fill="#2d3300"/>
<ellipse cx="403.20" cy="23.93" rx="1.93" ry="0.92" fill="#2d3300"/>
<ellipse cx="418.06" cy="23.09" rx="2.83" ry="0.73" fill="#2f3300"/>
<ellipse cx="402.86" cy="36.36" rx="3.01" ry="1.02" fill="#2f3300"/>
<ellipse cx="418.29" cy="34.32" rx="2.51" ry="0.93" fill="#2f3300"/>
<ellipse cx="380.42" cy="27.00" rx="1.20" ry="0.83" fill="#313300"/>
<ellipse cx="394.89" cy="25.76" rx="1.35" ry="1.05" fill="#313300"/>
<ellipse cx="406.75" cy="23.27" rx="1.20" ry="1.02" fill="#323300"/>
<ellipse cx="432.20" cy="29.65" rx="2.36" ry="0.56" fill="#343300"/>
<ellipse cx="418.08" cy="34.12" rx="2.42" ry="0.59" fill="#343300"/>
<ellipse cx="428.17" cy="34.42" rx="1.26" ry="0.64" fill="#343300"/>
<ellipse cx="430.24" cy="33.79" rx="2.29" ry="0.68" fill="#353300"/>
<ellipse cx="418.23" cy="34.61" rx="1.58" ry="0.81" fill="#353300"/>
<ellipse cx="430.49" cy="26.65" rx="1.26" ry="0.88" fill="#363300"/>
<ellipse cx="413.72" cy="31.97" rx="2.01" ry="1.04" fill="#363300"/>
<ellipse cx="391.15" cy="26.48" rx="2.11" ry="0.51" fill="#363300"/>
<ellipse cx="412.97" cy="24.34" rx="1.56" ry="0.59" fill="#373300"/>
<ellipse cx="393.36" cy="35.27" rx="2.50" ry="0.51" fill="#383300"/>
<ellipse cx="413.93" cy="29.24" rx="1.90" ry="0.74" fill="#383300"/>
<ellipse cx="423.81" cy="34.11" rx="1.55" ry="1.06" fill="#393300"/>
<ellipse cx="398.80" cy="34.80" rx="1.31" ry="0.84" fill="#393300"/>
<ellipse cx="404.18" cy="33.44" rx="2.64" ry="0.93" fill="#3a3300"/>
<ellipse cx="420.56" cy="33.43" rx="1.75" ry="1.05" fill="#3a3300"/>
<ellipse cx="418.20" cy="25.90" rx="3.17" ry="0.91" fill="#3a3300"/>
<ellipse cx="368.02" cy="34.83" rx="1.38" ry="0.81" fill="#3b3300"/>
<ellipse cx="383.42" cy="34.79" rx="1.80" ry="0.74" fill="#3c3300"/>
<ellipse cx="396.86" cy="34.10" rx="1.84" ry="0.83" fill="#3c3300"/>
<ellipse cx="373.10" cy="28.04" rx="1.53" ry="0.51" fill="#3c3300"/>
<ellipse cx="425.85" cy="29.13" rx="1.38" ry="1.05" fill="#3c3300"/>
<ellipse cx="401.86" cy="35.14" rx="1.55" ry="0.99" fill="#3c3300"/>
<ellipse cx="361.43" cy="29.83" rx="1.73" ry="0.59" fill="#3d3300"/>
<ellipse cx="423.15" cy="25.84" rx="2.33" ry="0.73" fill="#3e3300"/>
<ellipse cx="406.75" cy="34.86" rx="1.81" ry="0.98" fill="#3e3300"/>
<ellipse cx="429.50" cy="27.62" rx="2.10" ry="0.75" fill="#3e3300"/>
<ellipse cx="394.53" cy="26.90" rx="1.99" ry="0.87" fill="#3e3300"/>
<ellipse cx="432.85" cy="29.03" rx="2.02" ry="0.71" fill="#3e3300"/>
<ellipse cx="391.59" cy="28.87" rx="1.57" ry="0.98" fill="#3f3300"/>
<ellipse cx="414.50" cy="29.95" rx="1.93" ry="0.57" fill="#3f3300"/>
<ellipse cx="390.46" cy="33.68" rx="2.49" ry="0.51" fill="#3f3300"/>
<ellipse cx="384.25" cy="33.99" rx="1.53" ry="0.71" fill="#3f3300"/>
<ellipse cx="395.19" cy="26.95" rx="2.32" ry="0.63" fill="#403300"/>
<ellipse cx="429.54" cy="32.96" rx="1.74" ry="1.03" fill="#403300"/>
<ellipse cx="391.62" cy="31.57" rx="1.87" ry="0.97" fill="#423300"/>
<ellipse cx="406.60" cy="29.52" rx="1.23" ry="0.75" fill="#433300"/>
<ellipse cx="399.42" cy="27.94" rx="1.41" ry="0.82" fill="#433300"/>
<ellipse cx="422.33" cy="30.31" rx="2.10" ry="1.00" fill="#433300"/>
<ellipse cx="414.53" cy="33.58" rx="1.99" ry="0.77" fill="#433300"/>
<ellipse cx="392.56" cy="29.20" rx="2.51" ry="1.04" fill="#443300"/>
<ellipse cx="373.26" cy="30.23" rx="2.91" ry="1.01" fill="#443300"/>
<ellipse cx="407.67" cy="32.41" rx="2.64" ry="0.53" fill="#443300"/>
<ellipse cx="388.89" cy="31.04" rx="2.40" ry="0.81" fill="#453300"/>
<ellipse cx="399.81" cy="28.81" rx="1.96" ry="0.83" fill="#453300"/>
<ellipse cx="368.08" cy="34.25" rx="2.26" ry="0.81" fill="#453300"/>
<ellipse cx="405.47" cy="26.86" rx="1.82" ry="1.01" fill="#453300"/>
<ellipse cx="408.97" cy="31.39" rx="1.78" ry="1.07" fill="#453300"/>
<ellipse cx="380.66" cy="28.42" rx="1.34" ry="1.04" fill="#463300"/>
<ellipse cx="393.85" cy="34.61" rx="2.02" ry="0.77" fill="#463300"/>
<ellipse cx="395.34" cy="30.26" rx="2.95" ry="1.09" fill="#463300"/>
<ellipse cx="414.67" cy="28.09" rx="2.85" ry="0.76" fill="#463300"/>
<ellipse cx="416.08" cy="27.88" rx="3.14" ry="0.51" fill="#473300"/>
<ellipse cx="360.94" cy="32.59" rx="2.59" ry="0.96" fill="#483300"/>
<ellipse cx="386.45" cy="27.93" rx="2.95" ry="0.82" fill="#483300"/>
<ellipse cx="395.18" cy="26.83" rx="2.11" ry="0.71" fill="#483300"/>
<ellipse cx="408.69" cy="27.42" rx="1.54" ry="1.08" fill="#493300"/>
<ellipse cx="398.12" cy="26.73" rx="1.38" ry="1.05" fill="#493300"/>
<ellipse cx="382.73" cy="30.61" rx="1.72" ry="0.73" fill="#4a3300"/>
<ellipse cx="357.42" cy="33.20" rx="2.98" ry="0.76" fill="#4a3300"/>
<ellipse cx="366.46" cy="31.87" rx="2.72" ry="0.89" fill="#4a3300"/>
<ellipse cx="402.12" cy="26.36" rx="2.82" ry="1.03" fill="#4b3300"/>
<ellipse cx="407.60" cy="29.86" rx="1.64" ry="0.54" fill="#4b3300"/>
<ellipse cx="360.55" cy="31.07" rx="2.19" ry="0.84" fill="#4c3300"/>
<ellipse cx="364.20" cy="32.98" rx="1.99" ry="0.81" fill="#4c3300"/>
<ellipse cx="372.79" cy="31.27" rx="1.27" ry="0.72" fill="#4c3300"/>
<ellipse cx="377.28" cy="31.04" rx="2.27" ry="0.69" fill="#4e3300"/>
<ellipse cx="380.98" cy="30.56" rx="2.35" ry="1.09" fill="#4e3300"/>
<ellipse cx="394.98" cy="29.83" rx="1.62" ry="0.88" fill="#513300"/>
<ellipse cx="369.15" cy="32.15" rx="1.92" ry="0.88" fill="#533300"/>
<ellipse cx="379.86" cy="33.62" rx="1.54" ry="0.85" fill="#543300"/>
<ellipse cx="360.15" cy="31.10" rx="3.02" ry="0.91" fill="#543300"/>
<ellipse cx="360.11" cy="31.68" rx="3.11" ry="0.96" fill="#543300"/>
<ellipse cx="398.90" cy="30.71" rx="3.00" ry="0.65" fill="#553300"/>
<ellipse cx="356.77" cy="31.57" rx="1.71" ry="1.09" fill="#563300"/>
<ellipse cx="363.67" cy="30.85" rx="2.71" ry="0.84" fill="#563300"/>
<ellipse cx="379.95" cy="30.02" rx="2.38" ry="0.53" fill="#573300"/>
<ellipse cx="382.10" cy="30.68" rx="2.75" ry="0.91" fill="#583300"/>
<ellipse cx="359.76" cy="31.33" rx="2.48" ry="0.91" fill="#583300"/>
<ellipse cx="391.24" cy="29.50" rx="1.69" ry="1.06" fill="#593300"/>
<ellipse cx="387.03" cy="30.39" rx="2.10" ry="0.70" fill="#5a3300"/>
<ellipse cx="396.35" cy="30.07" rx="2.39" ry="0.71" fill="#5b3300"/>
<ellipse cx="389.85" cy="32.09" rx="2.49" ry="0.81" fill="#5b3300"/>
<ellipse cx="378.49" cy="32.12" rx="1.66" ry="0.67" fill="#5b3300"/>
<ellipse cx="373.59" cy="31.13" rx="1.26" ry="0.63" fill="#5c3300"/>
<ellipse cx="357.05" cy="32.00" rx="1.50" ry="0.73" fill="#5d3300"/>
<ellipse cx="363.41" cy="31.89" rx="1.71" ry="0.60" fill="#5f3300"/>
<ellipse cx="360.87" cy="33.30" rx="3.11" ry="0.68" fill="#613300"/>
<ellipse cx="373.46" cy="32.17" rx="1.93" ry="0.96" fill="#633300"/>
</g>
<g filter="url(#b0_7)">
<path d="M176.00,31.60 L180.00,31.59 L184.00,31.58 L188.00,31.57 L192.00,31.56 L196.00,31.55 L200.00,31.54 L204.00,31.53 L208.00,31.52 L212.00,31.51 L216.00,31.50 L220.00,31.49 L224.00,31.49 L228.00,31.48 L232.00,31.47 L236.00,31.46 L240.00,31.45 L244.00,31.44 L248.00,31.43 L252.00,31.42 L256.00,31.41 L260.00,31.40 L264.00,31.39 L268.00,31.38 L272.00,31.37 L276.00,31.36 L280.00,31.35 L284.00,31.34 L288.00,31.33 L292.00,31.32 L296.00,31.31 L300.00,31.30 L304.00,31.29 L308.00,31.28 L312.00,31.28 L316.00,31.27 L320.00,31.26 L324.00,31.25 L328.00,31.24 L332.00,31.19 L336.00,31.10 L340.00,31.01 L344.00,30.93 L348.00,30.84 L352.00,30.75 L356.00,30.67 L360.00,30.58 L364.00,30.49 L368.00,30.41 L372.00,30.32 L376.00,30.24 L380.00,30.21 L384.00,30.17 L388.00,30.13 L392.00,30.09 L396.00,30.05 L400.00,30.01 L400.00,35.21 L396.00,35.19 L392.00,35.16 L388.00,35.14 L384.00,35.11 L380.00,35.09 L376.00,35.06 L372.00,35.00 L368.00,34.93 L364.00,34.85 L360.00,34.78 L356.00,34.71 L352.00,34.63 L348.00,34.56 L344.00,34.49 L340.00,34.41 L336.00,34.34 L332.00,34.27 L328.00,34.23 L324.00,34.24 L320.00,34.24 L316.00,34.25 L312.00,34.25 L308.00,34.26 L304.00,34.26 L300.00,34.26 L296.00,34.27 L292.00,34.27 L288.00,34.28 L284.00,34.28 L280.00,34.29 L276.00,34.29 L272.00,34.30 L268.00,34.30 L264.00,34.30 L260.00,34.31 L256.00,34.31 L252.00,34.32 L248.00,34.32 L244.00,34.33 L240.00,34.33 L236.00,34.33 L232.00,34.34 L228.00,34.34 L224.00,34.35 L220.00,34.35 L216.00,34.36 L212.00,34.36 L208.00,34.37 L204.00,34.37 L200.00,34.37 L196.00,34.38 L192.00,34.38 L188.00,34.39 L184.00,34.39 L180.00,34.40 L176.00,34.40 Z" fill="url(#g6)"/>
</g>
<g filter="url(#b0_45)">
<rect x="176.00" y="32.32" width="176.00" height="1.30" fill="url(#g7)"/>
</g>
<g filter="url(#b1_0)">
<path d="M176.00,52.00 L180.00,51.99 L184.00,51.98 L188.00,51.96 L192.00,51.95 L196.00,51.94 L200.00,51.93 L204.00,51.91 L208.00,51.90 L212.00,51.89 L216.00,51.88 L220.00,51.87 L224.00,51.85 L228.00,51.84 L232.00,51.83 L236.00,51.82 L240.00,51.81 L244.00,51.79 L248.00,51.78 L252.00,51.77 L256.00,51.76 L260.00,51.74 L264.00,51.73 L268.00,51.72 L272.00,51.71 L276.00,51.70 L280.00,51.68 L284.00,51.67 L288.00,51.66 L292.00,51.65 L296.00,51.64 L300.00,51.62 L304.00,51.61 L308.00,51.60 L312.00,51.59 L316.00,51.57 L320.00,51.56 L324.00,51.55 L328.00,51.54 L332.00,51.49 L336.00,51.40 L340.00,51.31 L344.00,51.23 L348.00,51.14 L352.00,51.05 L356.00,50.97 L360.00,50.88 L364.00,50.81 L368.00,50.74 L372.00,50.67 L376.00,50.60 L380.00,50.53 L384.00,50.45 L388.00,50.41 L392.00,50.38 L396.00,50.35 L400.00,50.32 L404.00,50.29 L408.00,50.27 L412.00,50.24 L416.00,50.21 L420.00,50.18 L424.00,50.17 L424.00,57.37 L420.00,57.38 L416.00,57.36 L412.00,57.34 L408.00,57.33 L404.00,57.31 L400.00,57.30 L396.00,57.28 L392.00,57.26 L388.00,57.25 L384.00,57.22 L380.00,57.17 L376.00,57.11 L372.00,57.05 L368.00,56.99 L364.00,56.94 L360.00,56.88 L356.00,56.81 L352.00,56.73 L348.00,56.66 L344.00,56.59 L340.00,56.51 L336.00,56.44 L332.00,56.37 L328.00,56.33 L324.00,56.33 L320.00,56.34 L316.00,56.34 L312.00,56.34 L308.00,56.34 L304.00,56.34 L300.00,56.35 L296.00,56.35 L292.00,56.35 L288.00,56.35 L284.00,56.35 L280.00,56.35 L276.00,56.36 L272.00,56.36 L268.00,56.36 L264.00,56.36 L260.00,56.36 L256.00,56.36 L252.00,56.37 L248.00,56.37 L244.00,56.37 L240.00,56.37 L236.00,56.37 L232.00,56.38 L228.00,56.38 L224.00,56.38 L220.00,56.38 L216.00,56.38 L212.00,56.38 L208.00,56.39 L204.00,56.39 L200.00,56.39 L196.00,56.39 L192.00,56.39 L188.00,56.39 L184.00,56.40 L180.00,56.40 L176.00,56.40 Z" fill="url(#g8)"/>
</g>
<g filter="url(#b0_8)">
<ellipse cx="405.12" cy="58.31" rx="1.87" ry="1.09" fill="#1f3300"/>
<ellipse cx="414.79" cy="57.91" rx="1.98" ry="0.69" fill="#203300"/>
<ellipse cx="380.53" cy="51.87" rx="1.24" ry="0.53" fill="#223300"/>
<ellipse cx="391.52" cy="60.35" rx="1.82" ry="0.72" fill="#223300"/>
<ellipse cx="404.16" cy="52.88" rx="2.37" ry="0.54" fill="#233300"/>
<ellipse cx="356.10" cy="55.17" rx="1.55" ry="1.05" fill="#263300"/>
<ellipse cx="363.57" cy="51.51" rx="2.63" ry="0.88" fill="#263300"/>
<ellipse cx="363.04" cy="56.84" rx="1.61" ry="0.85" fill="#273300"/>
<ellipse cx="359.88" cy="53.74" rx="2.18" ry="1.02" fill="#273300"/>
<ellipse cx="361.56" cy="55.99" rx="3.05" ry="0.58" fill="#283300"/>
<ellipse cx="418.70" cy="47.68" rx="1.80" ry="0.58" fill="#283300"/>
<ellipse cx="380.48" cy="53.29" rx="2.26" ry="0.61" fill="#293300"/>
<ellipse cx="392.86" cy="59.40" rx="2.51" ry="0.72" fill="#2b3300"/>
<ellipse cx="428.82" cy="47.64" rx="2.42" ry="0.65" fill="#213300"/>
<ellipse cx="406.55" cy="61.86" rx="3.13" ry="1.10" fill="#263300"/>
<ellipse cx="430.72" cy="47.23" rx="1.27" ry="1.08" fill="#263300"/>
<ellipse cx="416.79" cy="48.95" rx="2.03" ry="0.65" fill="#273300"/>
<ellipse cx="433.82" cy="65.02" rx="1.67" ry="0.89" fill="#283300"/>
<ellipse cx="417.21" cy="48.84" rx="3.15" ry="0.63" fill="#283300"/>
<ellipse cx="422.99" cy="62.70" rx="3.11" ry="1.02" fill="#293300"/>
<ellipse cx="423.98" cy="49.55" rx="2.95" ry="0.73" fill="#293300"/>
<ellipse cx="405.68" cy="61.56" rx="3.15" ry="0.74" fill="#2a3300"/>
<ellipse cx="408.25" cy="62.64" rx="1.42" ry="0.99" fill="#2b3300"/>
<ellipse cx="411.00" cy="49.38" rx="2.37" ry="0.60" fill="#2b3300"/>
<ellipse cx="376.11" cy="58.19" rx="2.81" ry="0.89" fill="#2b3300"/>
<ellipse cx="431.27" cy="50.62" rx="2.30" ry="1.06" fill="#2c3300"/>
<ellipse cx="434.41" cy="49.99" rx="2.95" ry="0.59" fill="#2d3300"/>
<ellipse cx="427.27" cy="48.00" rx="2.17" ry="0.91" fill="#2d3300"/>
<ellipse cx="394.37" cy="60.50" rx="1.44" ry="0.95" fill="#2d3300"/>
<ellipse cx="357.22" cy="56.07" rx="1.89" ry="1.00" fill="#2e3300"/>
<ellipse cx="390.97" cy="60.19" rx="1.63" ry="0.67" fill="#303300"/>
<ellipse cx="362.18" cy="56.79" rx="2.36" ry="0.75" fill="#303300"/>
<ellipse cx="384.53" cy="59.16" rx="1.55" ry="0.58" fill="#303300"/>
<ellipse cx="362.73" cy="51.59" rx="2.71" ry="0.74" fill="#323300"/>
<ellipse cx="372.33" cy="51.06" rx="2.90" ry="0.59" fill="#343300"/>
<ellipse cx="400.29" cy="50.83" rx="2.99" ry="0.85" fill="#353300"/>
<ellipse cx="404.10" cy="60.82" rx="1.31" ry="0.95" fill="#353300"/>
<ellipse cx="416.11" cy="57.96" rx="2.53" ry="0.77" fill="#353300"/>
<ellipse cx="429.83" cy="50.96" rx="3.10" ry="0.55" fill="#363300"/>
<ellipse cx="434.40" cy="63.27" rx="2.35" ry="0.79" fill="#363300"/>
<ellipse cx="376.27" cy="58.45" rx="1.68" ry="0.74" fill="#363300"/>
<ellipse cx="429.49" cy="58.30" rx="1.91" ry="0.78" fill="#363300"/>
<ellipse cx="432.86" cy="54.51" rx="2.70" ry="1.10" fill="#363300"/>
<ellipse cx="379.29" cy="51.33" rx="2.98" ry="0.98" fill="#373300"/>
<ellipse cx="421.47" cy="53.77" rx="2.96" ry="0.53" fill="#373300"/>
<ellipse cx="427.06" cy="53.62" rx="2.89" ry="0.66" fill="#373300"/>
<ellipse cx="372.40" cy="57.21" rx="1.41" ry="0.85" fill="#383300"/>
<ellipse cx="423.35" cy="61.20" rx="2.98" ry="0.97" fill="#383300"/>
<ellipse cx="411.33" cy="49.63" rx="1.96" ry="0.89" fill="#393300"/>
<ellipse cx="395.68" cy="51.59" rx="2.41" ry="0.70" fill="#393300"/>
<ellipse cx="369.78" cy="57.38" rx="1.51" ry="1.07" fill="#393300"/>
<ellipse cx="401.81" cy="60.67" rx="1.98" ry="0.95" fill="#393300"/>
<ellipse cx="366.00" cy="56.90" rx="2.60" ry="0.67" fill="#393300"/>
<ellipse cx="373.90" cy="51.73" rx="3.17" ry="0.91" fill="#393300"/>
<ellipse cx="424.09" cy="61.33" rx="1.63" ry="0.72" fill="#393300"/>
<ellipse cx="433.27" cy="56.19" rx="2.83" ry="1.07" fill="#3a3300"/>
<ellipse cx="409.58" cy="61.23" rx="2.41" ry="0.88" fill="#3a3300"/>
<ellipse cx="413.61" cy="60.49" rx="2.35" ry="1.05" fill="#3b3300"/>
<ellipse cx="427.69" cy="59.76" rx="2.78" ry="0.62" fill="#3b3300"/>
<ellipse cx="406.24" cy="61.27" rx="2.21" ry="0.95" fill="#3b3300"/>
<ellipse cx="424.53" cy="60.96" rx="2.62" ry="0.89" fill="#3c3300"/>
<ellipse cx="401.45" cy="59.90" rx="2.03" ry="0.84" fill="#3d3300"/>
<ellipse cx="372.99" cy="57.72" rx="1.30" ry="0.76" fill="#3d3300"/>
<ellipse cx="378.11" cy="51.74" rx="1.78" ry="0.73" fill="#3e3300"/>
<ellipse cx="412.82" cy="56.26" rx="3.02" ry="0.63" fill="#3f3300"/>
<ellipse cx="385.02" cy="56.17" rx="1.38" ry="0.64" fill="#403300"/>
<ellipse cx="407.69" cy="59.02" rx="1.40" ry="0.99" fill="#403300"/>
<ellipse cx="404.36" cy="57.20" rx="2.30" ry="0.71" fill="#413300"/>
<ellipse cx="383.81" cy="56.54" rx="1.20" ry="0.81" fill="#413300"/>
<ellipse cx="393.49" cy="56.41" rx="2.49" ry="1.05" fill="#413300"/>
<ellipse cx="414.82" cy="55.76" rx="2.10" ry="0.69" fill="#413300"/>
<ellipse cx="383.71" cy="52.17" rx="2.13" ry="0.99" fill="#423300"/>
<ellipse cx="374.34" cy="53.09" rx="2.13" ry="0.67" fill="#433300"/>
<ellipse cx="427.66" cy="52.40" rx="1.97" ry="0.99" fill="#433300"/>
<ellipse cx="378.26" cy="51.12" rx="1.76" ry="0.57" fill="#433300"/>
<ellipse cx="387.69" cy="57.08" rx="3.00" ry="0.70" fill="#443300"/>
<ellipse cx="434.81" cy="53.84" rx="2.82" ry="0.59" fill="#443300"/>
<ellipse cx="429.18" cy="55.82" rx="2.52" ry="0.84" fill="#443300"/>
<ellipse cx="408.22" cy="59.84" rx="2.81" ry="0.56" fill="#453300"/>
<ellipse cx="378.40" cy="57.75" rx="2.05" ry="0.56" fill="#453300"/>
<ellipse cx="361.66" cy="52.41" rx="1.27" ry="0.95" fill="#453300"/>
<ellipse cx="367.33" cy="56.69" rx="3.13" ry="0.92" fill="#473300"/>
<ellipse cx="361.00" cy="56.26" rx="2.66" ry="0.87" fill="#473300"/>
<ellipse cx="385.40" cy="56.09" rx="2.82" ry="0.77" fill="#473300"/>
<ellipse cx="418.33" cy="57.21" rx="2.90" ry="0.63" fill="#473300"/>
<ellipse cx="371.14" cy="52.91" rx="1.53" ry="0.53" fill="#493300"/>
<ellipse cx="367.06" cy="56.58" rx="3.14" ry="1.03" fill="#493300"/>
<ellipse cx="389.99" cy="57.98" rx="3.00" ry="0.67" fill="#4a3300"/>
<ellipse cx="382.75" cy="52.00" rx="1.90" ry="0.80" fill="#4a3300"/>
<ellipse cx="363.10" cy="54.83" rx="2.20" ry="0.73" fill="#4b3300"/>
<ellipse cx="372.19" cy="56.40" rx="2.82" ry="0.94" fill="#4b3300"/>
<ellipse cx="368.74" cy="51.69" rx="2.10" ry="0.61" fill="#4b3300"/>
<ellipse cx="403.05" cy="53.94" rx="3.14" ry="0.56" fill="#4b3300"/>
<ellipse cx="380.68" cy="54.84" rx="2.93" ry="0.95" fill="#4c3300"/>
<ellipse cx="379.01" cy="54.40" rx="2.91" ry="0.90" fill="#4c3300"/>
<ellipse cx="414.17" cy="58.50" rx="2.61" ry="0.71" fill="#4c3300"/>
<ellipse cx="410.38" cy="55.02" rx="3.10" ry="0.82" fill="#4c3300"/>
<ellipse cx="398.01" cy="55.87" rx="2.53" ry="0.87" fill="#4d3300"/>
<ellipse cx="413.58" cy="56.30" rx="2.30" ry="0.59" fill="#4e3300"/>
<ellipse cx="409.00" cy="57.30" rx="3.13" ry="0.51" fill="#4f3300"/>
<ellipse cx="394.53" cy="53.85" rx="1.95" ry="0.80" fill="#503300"/>
<ellipse cx="372.80" cy="54.46" rx="1.62" ry="0.82" fill="#503300"/>
<ellipse cx="360.87" cy="54.54" rx="2.29" ry="0.72" fill="#523300"/>
<ellipse cx="399.22" cy="56.34" rx="2.60" ry="0.81" fill="#523300"/>
<ellipse cx="361.51" cy="52.48" rx="1.52" ry="1.00" fill="#543300"/>
<ellipse cx="370.97" cy="54.32" rx="2.06" ry="0.78" fill="#543300"/>
<ellipse cx="378.63" cy="55.08" rx="2.89" ry="0.73" fill="#553300"/>
<ellipse cx="386.45" cy="52.67" rx="1.94" ry="0.90" fill="#553300"/>
<ellipse cx="364.15" cy="52.85" rx="1.34" ry="0.97" fill="#553300"/>
<ellipse cx="355.98" cy="52.62" rx="2.55" ry="0.75" fill="#563300"/>
<ellipse cx="368.69" cy="55.58" rx="2.00" ry="0.85" fill="#573300"/>
<ellipse cx="377.13" cy="54.44" rx="3.10" ry="0.93" fill="#583300"/>
<ellipse cx="380.42" cy="55.74" rx="1.44" ry="1.00" fill="#583300"/>
<ellipse cx="378.33" cy="53.40" rx="2.37" ry="0.71" fill="#583300"/>
<ellipse cx="398.04" cy="54.70" rx="2.57" ry="0.53" fill="#593300"/>
<ellipse cx="374.10" cy="55.16" rx="2.26" ry="0.80" fill="#5c3300"/>
<ellipse cx="361.70" cy="53.00" rx="2.42" ry="1.02" fill="#5d3300"/>
<ellipse cx="365.23" cy="52.83" rx="1.72" ry="1.05" fill="#5d3300"/>
<ellipse cx="383.21" cy="54.85" rx="1.21" ry="0.64" fill="#5f3300"/>
<ellipse cx="368.36" cy="54.41" rx="2.86" ry="0.71" fill="#603300"/>
</g>
<g filter="url(#b0_7)">
<path d="M176.00,52.80 L180.00,52.79 L184.00,52.78 L188.00,52.77 L192.00,52.76 L196.00,52.75 L200.00,52.74 L204.00,52.73 L208.00,52.72 L212.00,52.71 L216.00,52.70 L220.00,52.69 L224.00,52.69 L228.00,52.68 L232.00,52.67 L236.00,52.66 L240.00,52.65 L244.00,52.64 L248.00,52.63 L252.00,52.62 L256.00,52.61 L260.00,52.60 L264.00,52.59 L268.00,52.58 L272.00,52.57 L276.00,52.56 L280.00,52.55 L284.00,52.54 L288.00,52.53 L292.00,52.52 L296.00,52.51 L300.00,52.50 L304.00,52.49 L308.00,52.48 L312.00,52.48 L316.00,52.47 L320.00,52.46 L324.00,52.45 L328.00,52.44 L332.00,52.39 L336.00,52.30 L340.00,52.21 L344.00,52.13 L348.00,52.04 L352.00,51.95 L356.00,51.87 L360.00,51.78 L364.00,51.69 L368.00,51.61 L372.00,51.52 L376.00,51.44 L380.00,51.41 L384.00,51.37 L388.00,51.33 L392.00,51.29 L396.00,51.25 L400.00,51.21 L400.00,56.41 L396.00,56.39 L392.00,56.36 L388.00,56.34 L384.00,56.31 L380.00,56.29 L376.00,56.26 L372.00,56.20 L368.00,56.13 L364.00,56.05 L360.00,55.98 L356.00,55.91 L352.00,55.83 L348.00,55.76 L344.00,55.69 L340.00,55.61 L336.00,55.54 L332.00,55.47 L328.00,55.43 L324.00,55.44 L320.00,55.44 L316.00,55.45 L312.00,55.45 L308.00,55.46 L304.00,55.46 L300.00,55.46 L296.00,55.47 L292.00,55.47 L288.00,55.48 L284.00,55.48 L280.00,55.49 L276.00,55.49 L272.00,55.50 L268.00,55.50 L264.00,55.50 L260.00,55.51 L256.00,55.51 L252.00,55.52 L248.00,55.52 L244.00,55.53 L240.00,55.53 L236.00,55.53 L232.00,55.54 L228.00,55.54 L224.00,55.55 L220.00,55.55 L216.00,55.56 L212.00,55.56 L208.00,55.57 L204.00,55.57 L200.00,55.57 L196.00,55.58 L192.00,55.58 L188.00,55.59 L184.00,55.59 L180.00,55.60 L176.00,55.60 Z" fill="url(#g9)"/>
</g>
<g filter="url(#b0_45)">
<rect x="176.00" y="53.52" width="186.00" height="1.30" fill="url(#g10)"/>
</g>
<g filter="url(#b3)">
<rect x="385.00" y="38.00" width="155.00" height="12.50" fill="url(#g11)"/>
</g>
</g></g>
<rect x="84.4" y="23.0" width="525.90" height="1" fill="#12124a" opacity="0.45"/>
<rect x="84.4" y="64.50" width="525.90" height="1" fill="#1a1a40" opacity="0.55"/>
<g mask="url(#mg12)"><g filter="url(#b0_45)">
<rect x="176.00" y="30.70" width="126.00" height="4.60" fill="url(#g13)"/>
<rect x="176.00" y="31.70" width="126.00" height="2.30" fill="url(#g14)"/>
<rect x="176.00" y="32.80" width="126.00" height="1.30" fill="url(#g15)"/>
</g></g>
<g mask="url(#mg16)"><g filter="url(#b0_45)">
<rect x="176.00" y="51.90" width="126.00" height="4.60" fill="url(#g17)"/>
<rect x="176.00" y="52.90" width="126.00" height="2.30" fill="url(#g18)"/>
<rect x="176.00" y="54.00" width="126.00" height="1.30" fill="url(#g19)"/>
</g></g>
<path d="M132.60,23.10 C140.50,26.97 150.00,31.26 158.00,33.50 C162.00,34.43 168.00,34.43 172.00,33.92 C180.00,32.48 190.00,29.43 197.20,23.10 Z" fill="#fff" stroke="#151515" stroke-width="1.0" stroke-linejoin="round"/>
<path d="M132.60,65.40 C140.50,61.53 150.00,57.24 158.00,55.00 C162.00,54.07 168.00,54.07 172.00,54.58 C180.00,56.02 190.00,59.07 197.20,65.40 Z" fill="#fff" stroke="#151515" stroke-width="1.0" stroke-linejoin="round"/>
<line x1="131" x2="199" y1="23.30" y2="23.30" stroke="#707070" stroke-width="0.9"/>
<line x1="131" x2="199" y1="65.20" y2="65.20" stroke="#707070" stroke-width="0.9"/>
<g clip-path="url(#clipa2)"><g filter="url(#mapa2)">
<rect x="84.40" y="155.00" width="525.90" height="41.00" fill="#0d0000"/>
<g filter="url(#b1_0)">
<rect x="84.40" y="152.00" width="67.60" height="7.50" fill="#240000"/>
<rect x="84.40" y="190.20" width="67.60" height="8.80" fill="#290000"/>
</g>
<g filter="url(#b2_5)">
<rect x="118.00" y="158.00" width="60.00" height="35.00" fill="url(#g20)"/>
</g>
<g filter="url(#b1_5)">
<rect x="160.00" y="153.00" width="240.00" height="7.50" fill="url(#g21)"/>
<rect x="160.00" y="189.00" width="240.00" height="9.00" fill="url(#g22)"/>
</g>
<g filter="url(#b2_5)">
<rect x="365.00" y="152.00" width="250.30" height="47.00" fill="url(#g23)"/>
</g>
<g filter="url(#b1_5)">
<rect x="400.00" y="190.50" width="215.30" height="8.50" fill="url(#g24)"/>
</g>
<g filter="url(#b2)">
<rect x="250.00" y="162.00" width="155.00" height="27.00" fill="url(#g25)"/>
</g>
<g filter="url(#b1_0)">
<ellipse cx="417.57" cy="158.76" rx="1.89" ry="1.29" fill="#224c00"/>
<ellipse cx="423.19" cy="160.71" rx="1.60" ry="1.81" fill="#234c00"/>
<ellipse cx="427.36" cy="163.06" rx="1.73" ry="1.82" fill="#254c00"/>
<ellipse cx="423.13" cy="163.01" rx="2.25" ry="1.12" fill="#264c00"/>
<ellipse cx="405.61" cy="162.37" rx="2.02" ry="1.93" fill="#274c00"/>
<ellipse cx="427.88" cy="159.14" rx="2.06" ry="1.25" fill="#284c00"/>
<ellipse cx="424.45" cy="167.62" rx="1.88" ry="1.96" fill="#284c00"/>
<ellipse cx="387.80" cy="165.90" rx="3.00" ry="1.74" fill="#294c00"/>
<ellipse cx="398.08" cy="164.00" rx="1.60" ry="1.34" fill="#294c00"/>
<ellipse cx="385.28" cy="162.30" rx="2.80" ry="1.23" fill="#2a4c00"/>
<ellipse cx="419.43" cy="160.20" rx="2.26" ry="1.24" fill="#2b4c00"/>
<ellipse cx="421.10" cy="164.95" rx="2.14" ry="1.58" fill="#2c4c00"/>
<ellipse cx="375.17" cy="161.21" rx="2.69" ry="1.23" fill="#2d4c00"/>
<ellipse cx="399.82" cy="168.90" rx="2.99" ry="1.39" fill="#2e4c00"/>
<ellipse cx="424.43" cy="159.51" rx="2.11" ry="1.99" fill="#324c00"/>
<ellipse cx="420.49" cy="165.21" rx="2.11" ry="1.37" fill="#324c00"/>
<ellipse cx="417.91" cy="165.19" rx="2.63" ry="1.76" fill="#334c00"/>
<ellipse cx="406.94" cy="169.86" rx="1.68" ry="1.48" fill="#334c00"/>
<ellipse cx="378.61" cy="165.19" rx="2.53" ry="1.68" fill="#344c00"/>
<ellipse cx="405.27" cy="165.70" rx="1.83" ry="1.61" fill="#344c00"/>
<ellipse cx="403.91" cy="163.07" rx="1.54" ry="1.21" fill="#344c00"/>
<ellipse cx="394.06" cy="162.40" rx="1.96" ry="1.10" fill="#354c00"/>
<ellipse cx="384.07" cy="162.19" rx="1.82" ry="1.79" fill="#354c00"/>
<ellipse cx="381.87" cy="165.97" rx="2.01" ry="1.48" fill="#384c00"/>
<ellipse cx="376.48" cy="166.81" rx="2.24" ry="1.49" fill="#454c00"/>
<ellipse cx="421.03" cy="187.57" rx="2.82" ry="1.59" fill="#234c00"/>
<ellipse cx="401.04" cy="185.56" rx="2.84" ry="1.17" fill="#284c00"/>
<ellipse cx="437.48" cy="189.03" rx="2.55" ry="1.61" fill="#294c00"/>
<ellipse cx="430.02" cy="185.33" rx="2.29" ry="1.58" fill="#2a4c00"/>
<ellipse cx="417.34" cy="184.92" rx="2.83" ry="1.23" fill="#2a4c00"/>
<ellipse cx="392.96" cy="185.68" rx="2.20" ry="1.21" fill="#2a4c00"/>
<ellipse cx="439.43" cy="184.39" rx="2.46" ry="1.35" fill="#2b4c00"/>
<ellipse cx="403.24" cy="184.50" rx="1.56" ry="1.97" fill="#2c4c00"/>
<ellipse cx="410.53" cy="183.20" rx="1.79" ry="1.04" fill="#2c4c00"/>
<ellipse cx="397.90" cy="185.79" rx="2.80" ry="1.18" fill="#2c4c00"/>
<ellipse cx="418.76" cy="183.46" rx="1.63" ry="2.00" fill="#2d4c00"/>
<ellipse cx="437.37" cy="183.07" rx="2.53" ry="1.92" fill="#304c00"/>
<ellipse cx="437.28" cy="184.85" rx="1.78" ry="1.12" fill="#314c00"/>
<ellipse cx="425.97" cy="181.67" rx="2.41" ry="1.94" fill="#314c00"/>
<ellipse cx="420.09" cy="186.93" rx="2.88" ry="1.46" fill="#334c00"/>
<ellipse cx="376.18" cy="180.95" rx="1.76" ry="1.69" fill="#344c00"/>
<ellipse cx="399.30" cy="182.68" rx="2.31" ry="1.43" fill="#344c00"/>
<ellipse cx="395.19" cy="186.29" rx="2.91" ry="1.77" fill="#354c00"/>
<ellipse cx="401.61" cy="184.37" rx="2.87" ry="1.31" fill="#354c00"/>
<ellipse cx="409.80" cy="186.31" rx="2.47" ry="1.20" fill="#364c00"/>
<ellipse cx="397.37" cy="183.96" rx="1.56" ry="1.38" fill="#3a4c00"/>
<ellipse cx="391.80" cy="186.58" rx="2.93" ry="1.65" fill="#3b4c00"/>
<ellipse cx="398.12" cy="182.19" rx="2.93" ry="1.51" fill="#3c4c00"/>
<ellipse cx="384.24" cy="183.92" rx="2.50" ry="1.19" fill="#3e4c00"/>
<ellipse cx="378.19" cy="183.87" rx="2.26" ry="1.52" fill="#434c00"/>
</g>
<g filter="url(#b1_0)">
<path d="M150.00,159.20 L157.00,160.60 L163.00,162.00 L170.00,162.60 L418.00,162.50" fill="none" stroke="url(#g26)" stroke-width="6.4"/>
</g>
<g filter="url(#b0_7)">
<path d="M150.00,159.20 L157.00,160.60 L163.00,162.00 L170.00,162.60 L418.00,162.50" fill="none" stroke="url(#g27)" stroke-width="3.4"/>
</g>
<g filter="url(#b1_0)">
<path d="M150.00,190.20 L157.00,188.90 L163.00,186.50 L170.00,185.40 L418.00,185.30" fill="none" stroke="url(#g28)" stroke-width="6.4"/>
</g>
<g filter="url(#b0_7)">
<path d="M150.00,190.20 L157.00,188.90 L163.00,186.50 L170.00,185.40 L418.00,185.30" fill="none" stroke="url(#g29)" stroke-width="3.4"/>
</g>
</g></g>
<rect x="84.4" y="155.0" width="525.90" height="1" fill="#12124a" opacity="0.45"/>
<rect x="84.4" y="195.00" width="525.90" height="1" fill="#1a1a40" opacity="0.55"/>
<g clip-path="url(#clipb1)"><g filter="url(#mapb1)">
<rect x="84.40" y="285.40" width="525.90" height="42.50" fill="#080000"/>
<g filter="url(#b3)">
<rect x="335.00" y="282.40" width="280.30" height="48.50" fill="url(#g30)"/>
</g>
<g filter="url(#b1_6)">
<rect x="290.00" y="293.00" width="62.00" height="3.00" fill="url(#g31)"/>
<rect x="280.00" y="316.30" width="60.00" height="3.00" fill="url(#g32)"/>
</g>
<g filter="url(#b0_85)">
<rect x="378.0" y="285.4" width="2.0" height="2.1" fill="#321a00"/>
<rect x="380.0" y="285.4" width="2.0" height="2.1" fill="#451a00"/>
<rect x="382.0" y="285.4" width="2.0" height="2.1" fill="#411a00"/>
<rect x="384.0" y="285.4" width="2.0" height="2.1" fill="#451a00"/>
<rect x="386.0" y="285.4" width="2.0" height="2.1" fill="#411a00"/>
<rect x="388.0" y="285.4" width="2.0" height="2.1" fill="#361a00"/>
<rect x="392.0" y="285.4" width="2.0" height="2.1" fill="#451a00"/>
<rect x="394.0" y="285.4" width="2.0" height="2.1" fill="#411a00"/>
<rect x="398.0" y="285.4" width="2.0" height="2.1" fill="#2e1a00"/>
<rect x="400.0" y="285.4" width="4.0" height="2.1" fill="#501a00"/>
<rect x="404.0" y="285.4" width="2.0" height="2.1" fill="#581a00"/>
<rect x="406.0" y="285.4" width="2.0" height="2.1" fill="#5c1a00"/>
<rect x="408.0" y="285.4" width="2.0" height="2.1" fill="#581a00"/>
<rect x="410.0" y="285.4" width="2.0" height="2.1" fill="#491a00"/>
<rect x="412.0" y="285.4" width="2.0" height="2.1" fill="#3d1a00"/>
<rect x="414.0" y="285.4" width="2.0" height="2.1" fill="#411a00"/>
<rect x="416.0" y="285.4" width="2.0" height="2.1" fill="#3d1a00"/>
<rect x="418.0" y="285.4" width="2.0" height="2.1" fill="#491a00"/>
<rect x="420.0" y="285.4" width="2.0" height="2.1" fill="#361a00"/>
<rect x="362.0" y="287.4" width="2.0" height="2.1" fill="#321a00"/>
<rect x="364.0" y="287.4" width="2.0" height="2.1" fill="#361a00"/>
<rect x="366.0" y="287.4" width="4.0" height="2.1" fill="#2e1a00"/>
<rect x="370.0" y="287.4" width="2.0" height="2.1" fill="#451a00"/>
<rect x="372.0" y="287.4" width="2.0" height="2.1" fill="#541a00"/>
<rect x="374.0" y="287.4" width="2.0" height="2.1" fill="#411a00"/>
<rect x="376.0" y="287.4" width="2.0" height="2.1" fill="#581a00"/>
<rect x="378.0" y="287.4" width="2.0" height="2.1" fill="#541a00"/>
<rect x="380.0" y="287.4" width="2.0" height="2.1" fill="#501a00"/>
<rect x="382.0" y="287.4" width="2.0" height="2.1" fill="#601a00"/>
<rect x="384.0" y="287.4" width="2.0" height="2.1" fill="#581a00"/>
<rect x="386.0" y="287.4" width="2.0" height="2.1" fill="#541a00"/>
<rect x="388.0" y="287.4" width="2.0" height="2.1" fill="#631a00"/>
<rect x="390.0" y="287.4" width="2.0" height="2.1" fill="#671a00"/>
<rect x="392.0" y="287.4" width="2.0" height="2.1" fill="#451a00"/>
<rect x="394.0" y="287.4" width="2.0" height="2.1" fill="#581a00"/>
<rect x="396.0" y="287.4" width="2.0" height="2.1" fill="#501a00"/>
<rect x="398.0" y="287.4" width="2.0" height="2.1" fill="#4c1a00"/>
<rect x="402.0" y="287.4" width="4.0" height="2.1" fill="#4c1a00"/>
<rect x="406.0" y="287.4" width="4.0" height="2.1" fill="#631a00"/>
<rect x="410.0" y="287.4" width="2.0" height="2.1" fill="#541a00"/>
<rect x="412.0" y="287.4" width="2.0" height="2.1" fill="#5c1a00"/>
<rect x="414.0" y="287.4" width="2.0" height="2.1" fill="#451a00"/>
<rect x="416.0" y="287.4" width="4.0" height="2.1" fill="#581a00"/>
<rect x="420.0" y="287.4" width="2.0" height="2.1" fill="#391a00"/>
<rect x="422.0" y="287.4" width="2.0" height="2.1" fill="#3d1a00"/>
<rect x="424.0" y="287.4" width="4.0" height="2.1" fill="#391a00"/>
<rect x="428.0" y="287.4" width="2.0" height="2.1" fill="#3d1a00"/>
<rect x="430.0" y="287.4" width="2.0" height="2.1" fill="#391a00"/>
<rect x="432.0" y="287.4" width="2.0" height="2.1" fill="#321a00"/>
<rect x="356.0" y="289.4" width="2.0" height="2.1" fill="#361a00"/>
<rect x="358.0" y="289.4" width="2.0" height="2.1" fill="#3d1a00"/>
<rect x="360.0" y="289.4" width="4.0" height="2.1" fill="#391a00"/>
<rect x="364.0" y="289.4" width="2.0" height="2.1" fill="#411a00"/>
<rect x="366.0" y="289.4" width="2.0" height="2.1" fill="#491a00"/>
<rect x="368.0" y="289.4" width="2.0" height="2.1" fill="#4c1a00"/>
<rect x="370.0" y="289.4" width="2.0" height="2.1" fill="#501a00"/>
<rect x="372.0" y="289.4" width="2.0" height="2.1" fill="#991a00"/>
<rect x="374.0" y="289.4" width="2.0" height="2.1" fill="#a81a00"/>
<rect x="376.0" y="289.4" width="2.0" height="2.1" fill="#991a00"/>
<rect x="378.0" y="289.4" width="2.0" height="2.1" fill="#5c1a00"/>
<rect x="380.0" y="289.4" width="2.0" height="2.1" fill="#8a1a00"/>
<rect x="382.0" y="289.4" width="2.0" height="2.1" fill="#6b1a00"/>
<rect x="384.0" y="289.4" width="2.0" height="2.1" fill="#7a1a00"/>
<rect x="386.0" y="289.4" width="2.0" height="2.1" fill="#771a00"/>
<rect x="388.0" y="289.4" width="2.0" height="2.1" fill="#581a00"/>
<rect x="390.0" y="289.4" width="2.0" height="2.1" fill="#601a00"/>
<rect x="392.0" y="289.4" width="2.0" height="2.1" fill="#821a00"/>
<rect x="394.0" y="289.4" width="2.0" height="2.1" fill="#7e1a00"/>
<rect x="396.0" y="289.4" width="2.0" height="2.1" fill="#2e1a00"/>
<rect x="398.0" y="289.4" width="2.0" height="2.1" fill="#491a00"/>
<rect x="400.0" y="289.4" width="2.0" height="2.1" fill="#3d1a00"/>
<rect x="402.0" y="289.4" width="2.0" height="2.1" fill="#731a00"/>
<rect x="404.0" y="289.4" width="2.0" height="2.1" fill="#861a00"/>
<rect x="406.0" y="289.4" width="2.0" height="2.1" fill="#9d1a00"/>
<rect x="408.0" y="289.4" width="2.0" height="2.1" fill="#991a00"/>
<rect x="410.0" y="289.4" width="2.0" height="2.1" fill="#7e1a00"/>
<rect x="412.0" y="289.4" width="2.0" height="2.1" fill="#6b1a00"/>
<rect x="414.0" y="289.4" width="2.0" height="2.1" fill="#581a00"/>
<rect x="416.0" y="289.4" width="2.0" height="2.1" fill="#4c1a00"/>
<rect x="418.0" y="289.4" width="2.0" height="2.1" fill="#7a1a00"/>
<rect x="420.0" y="289.4" width="2.0" height="2.1" fill="#7e1a00"/>
<rect x="422.0" y="289.4" width="2.0" height="2.1" fill="#581a00"/>
<rect x="424.0" y="289.4" width="2.0" height="2.1" fill="#4c1a00"/>
<rect x="426.0" y="289.4" width="2.0" height="2.1" fill="#601a00"/>
<rect x="428.0" y="289.4" width="2.0" height="2.1" fill="#541a00"/>
<rect x="430.0" y="289.4" width="2.0" height="2.1" fill="#491a00"/>
<rect x="432.0" y="289.4" width="2.0" height="2.1" fill="#501a00"/>
<rect x="434.0" y="289.4" width="2.0" height="2.1" fill="#5c1a00"/>
<rect x="436.0" y="289.4" width="2.0" height="2.1" fill="#491a00"/>
<rect x="438.0" y="289.4" width="2.0" height="2.1" fill="#451a00"/>
<rect x="440.0" y="289.4" width="2.0" height="2.1" fill="#2e1a00"/>
<rect x="442.0" y="289.4" width="2.0" height="2.1" fill="#451a00"/>
<rect x="350.0" y="291.5" width="2.0" height="2.1" fill="#3d1a00"/>
<rect x="352.0" y="291.5" width="2.0" height="2.1" fill="#4c1a00"/>
<rect x="354.0" y="291.5" width="2.0" height="2.1" fill="#361a00"/>
<rect x="356.0" y="291.5" width="2.0" height="2.1" fill="#5c1a00"/>
<rect x="358.0" y="291.5" width="2.0" height="2.1" fill="#4c1a00"/>
<rect x="360.0" y="291.5" width="2.0" height="2.1" fill="#5c1a00"/>
<rect x="362.0" y="291.5" width="6.0" height="2.1" fill="#631a00"/>
<rect x="368.0" y="291.5" width="2.0" height="2.1" fill="#671a00"/>
<rect x="370.0" y="291.5" width="2.0" height="2.1" fill="#821a00"/>
<rect x="372.0" y="291.5" width="2.0" height="2.1" fill="#d21a00"/>
<rect x="374.0" y="291.5" width="2.0" height="2.1" fill="#8a1a00"/>
<rect x="376.0" y="291.5" width="2.0" height="2.1" fill="#861a00"/>
<rect x="378.0" y="291.5" width="2.0" height="2.1" fill="#b01a00"/>
<rect x="380.0" y="291.5" width="2.0" height="2.1" fill="#911a00"/>
<rect x="382.0" y="291.5" width="2.0" height="2.1" fill="#731a00"/>
<rect x="384.0" y="291.5" width="2.0" height="2.1" fill="#8e1a00"/>
<rect x="386.0" y="291.5" width="2.0" height="2.1" fill="#911a00"/>
<rect x="388.0" y="291.5" width="2.0" height="2.1" fill="#671a00"/>
<rect x="390.0" y="291.5" width="2.0" height="2.1" fill="#541a00"/>
<rect x="392.0" y="291.5" width="2.0" height="2.1" fill="#671a00"/>
<rect x="394.0" y="291.5" width="2.0" height="2.1" fill="#601a00"/>
<rect x="396.0" y="291.5" width="2.0" height="2.1" fill="#671a00"/>
<rect x="398.0" y="291.5" width="2.0" height="2.1" fill="#821a00"/>
<rect x="400.0" y="291.5" width="2.0" height="2.1" fill="#a11a00"/>
<rect x="402.0" y="291.5" width="2.0" height="2.1" fill="#b81a00"/>
<rect x="404.0" y="291.5" width="2.0" height="2.1" fill="#de1a00"/>
<rect x="406.0" y="291.5" width="2.0" height="2.1" fill="#cb1a00"/>
<rect x="408.0" y="291.5" width="2.0" height="2.1" fill="#991a00"/>
<rect x="410.0" y="291.5" width="2.0" height="2.1" fill="#8a1a00"/>
<rect x="412.0" y="291.5" width="2.0" height="2.1" fill="#a11a00"/>
<rect x="414.0" y="291.5" width="2.0" height="2.1" fill="#a81a00"/>
<rect x="416.0" y="291.5" width="2.0" height="2.1" fill="#771a00"/>
<rect x="418.0" y="291.5" width="2.0" height="2.1" fill="#7a1a00"/>
<rect x="420.0" y="291.5" width="2.0" height="2.1" fill="#6b1a00"/>
<rect x="422.0" y="291.5" width="4.0" height="2.1" fill="#8e1a00"/>
<rect x="426.0" y="291.5" width="4.0" height="2.1" fill="#951a00"/>
<rect x="430.0" y="291.5" width="2.0" height="2.1" fill="#991a00"/>
<rect x="432.0" y="291.5" width="2.0" height="2.1" fill="#951a00"/>
<rect x="434.0" y="291.5" width="2.0" height="2.1" fill="#7e1a00"/>
<rect x="436.0" y="291.5" width="2.0" height="2.1" fill="#731a00"/>
<rect x="438.0" y="291.5" width="2.0" height="2.1" fill="#7a1a00"/>
<rect x="440.0" y="291.5" width="2.0" height="2.1" fill="#541a00"/>
<rect x="442.0" y="291.5" width="2.0" height="2.1" fill="#601a00"/>
<rect x="444.0" y="291.5" width="2.0" height="2.1" fill="#631a00"/>
<rect x="446.0" y="291.5" width="2.0" height="2.1" fill="#581a00"/>
<rect x="448.0" y="291.5" width="4.0" height="2.1" fill="#411a00"/>
<rect x="452.0" y="291.5" width="2.0" height="2.1" fill="#491a00"/>
<rect x="454.0" y="291.5" width="2.0" height="2.1" fill="#411a00"/>
<rect x="456.0" y="291.5" width="2.0" height="2.1" fill="#2e1a00"/>
<rect x="460.0" y="291.5" width="6.0" height="2.1" fill="#361a00"/>
<rect x="466.0" y="291.5" width="2.0" height="2.1" fill="#321a00"/>
<rect x="348.0" y="293.5" width="2.0" height="2.1" fill="#411a00"/>
<rect x="350.0" y="293.5" width="2.0" height="2.1" fill="#3d1a00"/>
<rect x="352.0" y="293.5" width="2.0" height="2.1" fill="#601a00"/>
<rect x="354.0" y="293.5" width="2.0" height="2.1" fill="#451a00"/>
<rect x="356.0" y="293.5" width="2.0" height="2.1" fill="#581a00"/>
<rect x="358.0" y="293.5" width="2.0" height="2.1" fill="#501a00"/>
<rect x="360.0" y="293.5" width="2.0" height="2.1" fill="#5c1a00"/>
<rect x="362.0" y="293.5" width="2.0" height="2.1" fill="#4c1a00"/>
<rect x="364.0" y="293.5" width="2.0" height="2.1" fill="#3d1a00"/>
<rect x="366.0" y="293.5" width="2.0" height="2.1" fill="#601a00"/>
<rect x="368.0" y="293.5" width="2.0" height="2.1" fill="#a11a00"/>
<rect x="370.0" y="293.5" width="2.0" height="2.1" fill="#771a00"/>
<rect x="372.0" y="293.5" width="2.0" height="2.1" fill="#ed1a00"/>
<rect x="374.0" y="293.5" width="2.0" height="2.1" fill="#951a00"/>
<rect x="376.0" y="293.5" width="2.0" height="2.1" fill="#da1a00"/>
<rect x="378.0" y="293.5" width="2.0" height="2.1" fill="#a81a00"/>
<rect x="380.0" y="293.5" width="2.0" height="2.1" fill="#9d1a00"/>
<rect x="382.0" y="293.5" width="2.0" height="2.1" fill="#b41a00"/>
<rect x="384.0" y="293.5" width="2.0" height="2.1" fill="#bb1a00"/>
<rect x="386.0" y="293.5" width="2.0" height="2.1" fill="#9d1a00"/>
<rect x="388.0" y="293.5" width="2.0" height="2.1" fill="#861a00"/>
<rect x="390.0" y="293.5" width="2.0" height="2.1" fill="#951a00"/>
<rect x="392.0" y="293.5" width="2.0" height="2.1" fill="#821a00"/>
<rect x="394.0" y="293.5" width="2.0" height="2.1" fill="#951a00"/>
<rect x="396.0" y="293.5" width="2.0" height="2.1" fill="#771a00"/>
<rect x="398.0" y="293.5" width="2.0" height="2.1" fill="#8e1a00"/>
<rect x="400.0" y="293.5" width="2.0" height="2.1" fill="#a81a00"/>
<rect x="402.0" y="293.5" width="2.0" height="2.1" fill="#ac1a00"/>
<rect x="404.0" y="293.5" width="2.0" height="2.1" fill="#fc1a00"/>
<rect x="406.0" y="293.5" width="2.0" height="2.1" fill="#ff1a00"/>
<rect x="408.0" y="293.5" width="2.0" height="2.1" fill="#cf1a00"/>
<rect x="410.0" y="293.5" width="2.0" height="2.1" fill="#b81a00"/>
<rect x="412.0" y="293.5" width="2.0" height="2.1" fill="#cf1a00"/>
<rect x="414.0" y="293.5" width="2.0" height="2.1" fill="#b81a00"/>
<rect x="416.0" y="293.5" width="2.0" height="2.1" fill="#b01a00"/>
<rect x="418.0" y="293.5" width="2.0" height="2.1" fill="#671a00"/>
<rect x="420.0" y="293.5" width="2.0" height="2.1" fill="#a11a00"/>
<rect x="422.0" y="293.5" width="2.0" height="2.1" fill="#671a00"/>
<rect x="424.0" y="293.5" width="2.0" height="2.1" fill="#581a00"/>
<rect x="426.0" y="293.5" width="2.0" height="2.1" fill="#771a00"/>
<rect x="428.0" y="293.5" width="2.0" height="2.1" fill="#9d1a00"/>
<rect x="430.0" y="293.5" width="2.0" height="2.1" fill="#a81a00"/>
<rect x="432.0" y="293.5" width="2.0" height="2.1" fill="#991a00"/>
<rect x="434.0" y="293.5" width="2.0" height="2.1" fill="#9d1a00"/>
<rect x="436.0" y="293.5" width="2.0" height="2.1" fill="#a11a00"/>
<rect x="438.0" y="293.5" width="2.0" height="2.1" fill="#631a00"/>
<rect x="440.0" y="293.5" width="2.0" height="2.1" fill="#8e1a00"/>
<rect x="442.0" y="293.5" width="2.0" height="2.1" fill="#671a00"/>
<rect x="444.0" y="293.5" width="2.0" height="2.1" fill="#6f1a00"/>
<rect x="446.0" y="293.5" width="4.0" height="2.1" fill="#6b1a00"/>
<rect x="450.0" y="293.5" width="2.0" height="2.1" fill="#5c1a00"/>
<rect x="452.0" y="293.5" width="4.0" height="2.1" fill="#581a00"/>
<rect x="456.0" y="293.5" width="2.0" height="2.1" fill="#501a00"/>
<rect x="458.0" y="293.5" width="2.0" height="2.1" fill="#631a00"/>
<rect x="460.0" y="293.5" width="2.0" height="2.1" fill="#4c1a00"/>
<rect x="462.0" y="293.5" width="2.0" height="2.1" fill="#541a00"/>
<rect x="464.0" y="293.5" width="2.0" height="2.1" fill="#411a00"/>
<rect x="468.0" y="293.5" width="2.0" height="2.1" fill="#321a00"/>
<rect x="470.0" y="293.5" width="2.0" height="2.1" fill="#4c1a00"/>
<rect x="472.0" y="293.5" width="2.0" height="2.1" fill="#451a00"/>
<rect x="474.0" y="293.5" width="2.0" height="2.1" fill="#2e1a00"/>
<rect x="352.0" y="295.5" width="2.0" height="2.1" fill="#451a00"/>
<rect x="354.0" y="295.5" width="2.0" height="2.1" fill="#391a00"/>
<rect x="356.0" y="295.5" width="2.0" height="2.1" fill="#3d1a00"/>
<rect x="362.0" y="295.5" width="2.0" height="2.1" fill="#451a00"/>
<rect x="364.0" y="295.5" width="2.0" height="2.1" fill="#601a00"/>
<rect x="366.0" y="295.5" width="2.0" height="2.1" fill="#821a00"/>
<rect x="368.0" y="295.5" width="2.0" height="2.1" fill="#991a00"/>
<rect x="370.0" y="295.5" width="2.0" height="2.1" fill="#8a1a00"/>
<rect x="372.0" y="295.5" width="4.0" height="2.1" fill="#a81a00"/>
<rect x="376.0" y="295.5" width="2.0" height="2.1" fill="#6b1a00"/>
<rect x="378.0" y="295.5" width="2.0" height="2.1" fill="#7a1a00"/>
<rect x="380.0" y="295.5" width="2.0" height="2.1" fill="#6f1a00"/>
<rect x="382.0" y="295.5" width="2.0" height="2.1" fill="#861a00"/>
<rect x="384.0" y="295.5" width="2.0" height="2.1" fill="#8e1a00"/>
<rect x="386.0" y="295.5" width="2.0" height="2.1" fill="#911a00"/>
<rect x="388.0" y="295.5" width="2.0" height="2.1" fill="#7e1a00"/>
<rect x="390.0" y="295.5" width="2.0" height="2.1" fill="#451a00"/>
<rect x="392.0" y="295.5" width="4.0" height="2.1" fill="#501a00"/>
<rect x="396.0" y="295.5" width="2.0" height="2.1" fill="#631a00"/>
<rect x="398.0" y="295.5" width="2.0" height="2.1" fill="#6f1a00"/>
<rect x="400.0" y="295.5" width="2.0" height="2.1" fill="#991a00"/>
<rect x="402.0" y="295.5" width="2.0" height="2.1" fill="#a81a00"/>
<rect x="404.0" y="295.5" width="2.0" height="2.1" fill="#ac1a00"/>
<rect x="406.0" y="295.5" width="2.0" height="2.1" fill="#bf1a00"/>
<rect x="408.0" y="295.5" width="2.0" height="2.1" fill="#ac1a00"/>
<rect x="410.0" y="295.5" width="2.0" height="2.1" fill="#821a00"/>
<rect x="412.0" y="295.5" width="2.0" height="2.1" fill="#7a1a00"/>
<rect x="414.0" y="295.5" width="2.0" height="2.1" fill="#731a00"/>
<rect x="416.0" y="295.5" width="2.0" height="2.1" fill="#5c1a00"/>
<rect x="418.0" y="295.5" width="2.0" height="2.1" fill="#861a00"/>
<rect x="420.0" y="295.5" width="2.0" height="2.1" fill="#581a00"/>
<rect x="422.0" y="295.5" width="2.0" height="2.1" fill="#6f1a00"/>
<rect x="424.0" y="295.5" width="2.0" height="2.1" fill="#731a00"/>
<rect x="426.0" y="295.5" width="2.0" height="2.1" fill="#911a00"/>
<rect x="428.0" y="295.5" width="2.0" height="2.1" fill="#a41a00"/>
<rect x="430.0" y="295.5" width="2.0" height="2.1" fill="#8e1a00"/>
<rect x="432.0" y="295.5" width="2.0" height="2.1" fill="#6b1a00"/>
<rect x="434.0" y="295.5" width="2.0" height="2.1" fill="#631a00"/>
<rect x="436.0" y="295.5" width="2.0" height="2.1" fill="#4c1a00"/>
<rect x="438.0" y="295.5" width="2.0" height="2.1" fill="#581a00"/>
<rect x="440.0" y="295.5" width="2.0" height="2.1" fill="#771a00"/>
<rect x="442.0" y="295.5" width="2.0" height="2.1" fill="#821a00"/>
<rect x="444.0" y="295.5" width="4.0" height="2.1" fill="#6b1a00"/>
<rect x="448.0" y="295.5" width="2.0" height="2.1" fill="#671a00"/>
<rect x="450.0" y="295.5" width="2.0" height="2.1" fill="#771a00"/>
<rect x="452.0" y="295.5" width="2.0" height="2.1" fill="#6f1a00"/>
<rect x="454.0" y="295.5" width="2.0" height="2.1" fill="#601a00"/>
<rect x="456.0" y="295.5" width="2.0" height="2.1" fill="#731a00"/>
<rect x="458.0" y="295.5" width="2.0" height="2.1" fill="#631a00"/>
<rect x="460.0" y="295.5" width="4.0" height="2.1" fill="#391a00"/>
<rect x="464.0" y="295.5" width="2.0" height="2.1" fill="#501a00"/>
<rect x="466.0" y="295.5" width="2.0" height="2.1" fill="#541a00"/>
<rect x="468.0" y="295.5" width="2.0" height="2.1" fill="#631a00"/>
<rect x="470.0" y="295.5" width="2.0" height="2.1" fill="#4c1a00"/>
<rect x="472.0" y="295.5" width="2.0" height="2.1" fill="#3d1a00"/>
<rect x="474.0" y="295.5" width="2.0" height="2.1" fill="#491a00"/>
<rect x="476.0" y="295.5" width="2.0" height="2.1" fill="#581a00"/>
<rect x="478.0" y="295.5" width="2.0" height="2.1" fill="#491a00"/>
<rect x="480.0" y="295.5" width="2.0" height="2.1" fill="#361a00"/>
<rect x="482.0" y="295.5" width="4.0" height="2.1" fill="#3d1a00"/>
<rect x="486.0" y="295.5" width="2.0" height="2.1" fill="#451a00"/>
<rect x="356.0" y="297.5" width="2.0" height="2.1" fill="#2e1a00"/>
<rect x="358.0" y="297.5" width="2.0" height="2.1" fill="#361a00"/>
<rect x="360.0" y="297.5" width="2.0" height="2.1" fill="#2e1a00"/>
<rect x="362.0" y="297.5" width="2.0" height="2.1" fill="#3d1a00"/>
<rect x="364.0" y="297.5" width="2.0" height="2.1" fill="#451a00"/>
<rect x="366.0" y="297.5" width="2.0" height="2.1" fill="#411a00"/>
<rect x="368.0" y="297.5" width="2.0" height="2.1" fill="#501a00"/>
<rect x="370.0" y="297.5" width="2.0" height="2.1" fill="#631a00"/>
<rect x="372.0" y="297.5" width="2.0" height="2.1" fill="#3d1a00"/>
<rect x="374.0" y="297.5" width="2.0" height="2.1" fill="#411a00"/>
<rect x="376.0" y="297.5" width="2.0" height="2.1" fill="#321a00"/>
<rect x="378.0" y="297.5" width="2.0" height="2.1" fill="#5c1a00"/>
<rect x="380.0" y="297.5" width="2.0" height="2.1" fill="#821a00"/>
<rect x="382.0" y="297.5" width="4.0" height="2.1" fill="#861a00"/>
<rect x="386.0" y="297.5" width="2.0" height="2.1" fill="#6f1a00"/>
<rect x="388.0" y="297.5" width="2.0" height="2.1" fill="#451a00"/>
<rect x="390.0" y="297.5" width="2.0" height="2.1" fill="#361a00"/>
<rect x="392.0" y="297.5" width="2.0" height="2.1" fill="#5c1a00"/>
<rect x="394.0" y="297.5" width="2.0" height="2.1" fill="#601a00"/>
<rect x="396.0" y="297.5" width="2.0" height="2.1" fill="#5c1a00"/>
<rect x="398.0" y="297.5" width="2.0" height="2.1" fill="#491a00"/>
<rect x="400.0" y="297.5" width="2.0" height="2.1" fill="#2e1a00"/>
<rect x="402.0" y="297.5" width="2.0" height="2.1" fill="#731a00"/>
<rect x="404.0" y="297.5" width="2.0" height="2.1" fill="#631a00"/>
<rect x="406.0" y="297.5" width="2.0" height="2.1" fill="#601a00"/>
<rect x="408.0" y="297.5" width="2.0" height="2.1" fill="#7e1a00"/>
<rect x="410.0" y="297.5" width="2.0" height="2.1" fill="#8e1a00"/>
<rect x="412.0" y="297.5" width="2.0" height="2.1" fill="#6b1a00"/>
<rect x="414.0" y="297.5" width="2.0" height="2.1" fill="#731a00"/>
<rect x="416.0" y="297.5" width="2.0" height="2.1" fill="#541a00"/>
<rect x="418.0" y="297.5" width="2.0" height="2.1" fill="#771a00"/>
<rect x="420.0" y="297.5" width="2.0" height="2.1" fill="#7a1a00"/>
<rect x="422.0" y="297.5" width="2.0" height="2.1" fill="#991a00"/>
<rect x="424.0" y="297.5" width="2.0" height="2.1" fill="#8e1a00"/>
<rect x="426.0" y="297.5" width="2.0" height="2.1" fill="#6b1a00"/>
<rect x="428.0" y="297.5" width="2.0" height="2.1" fill="#771a00"/>
<rect x="430.0" y="297.5" width="4.0" height="2.1" fill="#8e1a00"/>
<rect x="434.0" y="297.5" width="2.0" height="2.1" fill="#6f1a00"/>
<rect x="436.0" y="297.5" width="2.0" height="2.1" fill="#731a00"/>
<rect x="438.0" y="297.5" width="2.0" height="2.1" fill="#631a00"/>
<rect x="440.0" y="297.5" width="2.0" height="2.1" fill="#2e1a00"/>
<rect x="442.0" y="297.5" width="2.0" height="2.1" fill="#5c1a00"/>
<rect x="444.0" y="297.5" width="2.0" height="2.1" fill="#671a00"/>
<rect x="446.0" y="297.5" width="4.0" height="2.1" fill="#771a00"/>
<rect x="450.0" y="297.5" width="2.0" height="2.1" fill="#731a00"/>
<rect x="452.0" y="297.5" width="2.0" height="2.1" fill="#5c1a00"/>
<rect x="454.0" y="297.5" width="2.0" height="2.1" fill="#4c1a00"/>
<rect x="456.0" y="297.5" width="2.0" height="2.1" fill="#581a00"/>
<rect x="458.0" y="297.5" width="2.0" height="2.1" fill="#391a00"/>
<rect x="460.0" y="297.5" width="2.0" height="2.1" fill="#501a00"/>
<rect x="462.0" y="297.5" width="2.0" height="2.1" fill="#2e1a00"/>
<rect x="464.0" y="297.5" width="2.0" height="2.1" fill="#491a00"/>
<rect x="470.0" y="297.5" width="2.0" height="2.1" fill="#361a00"/>
<rect x="472.0" y="297.5" width="2.0" height="2.1" fill="#2e1a00"/>
<rect x="474.0" y="297.5" width="2.0" height="2.1" fill="#321a00"/>
<rect x="476.0" y="297.5" width="2.0" height="2.1" fill="#3d1a00"/>
<rect x="478.0" y="297.5" width="2.0" height="2.1" fill="#391a00"/>
<rect x="480.0" y="297.5" width="2.0" height="2.1" fill="#4c1a00"/>
<rect x="482.0" y="297.5" width="2.0" height="2.1" fill="#361a00"/>
<rect x="370.0" y="299.6" width="2.0" height="2.1" fill="#451a00"/>
<rect x="372.0" y="299.6" width="2.0" height="2.1" fill="#491a00"/>
<rect x="374.0" y="299.6" width="2.0" height="2.1" fill="#3d1a00"/>
<rect x="376.0" y="299.6" width="2.0" height="2.1" fill="#631a00"/>
<rect x="378.0" y="299.6" width="2.0" height="2.1" fill="#491a00"/>
<rect x="380.0" y="299.6" width="2.0" height="2.1" fill="#411a00"/>
<rect x="382.0" y="299.6" width="2.0" height="2.1" fill="#541a00"/>
<rect x="384.0" y="299.6" width="4.0" height="2.1" fill="#4c1a00"/>
<rect x="388.0" y="299.6" width="2.0" height="2.1" fill="#601a00"/>
<rect x="390.0" y="299.6" width="2.0" height="2.1" fill="#671a00"/>
<rect x="392.0" y="299.6" width="2.0" height="2.1" fill="#541a00"/>
<rect x="394.0" y="299.6" width="4.0" height="2.1" fill="#631a00"/>
<rect x="398.0" y="299.6" width="2.0" height="2.1" fill="#601a00"/>
<rect x="400.0" y="299.6" width="2.0" height="2.1" fill="#581a00"/>
<rect x="402.0" y="299.6" width="4.0" height="2.1" fill="#361a00"/>
<rect x="406.0" y="299.6" width="2.0" height="2.1" fill="#2e1a00"/>
<rect x="410.0" y="299.6" width="2.0" height="2.1" fill="#3d1a00"/>
<rect x="412.0" y="299.6" width="2.0" height="2.1" fill="#671a00"/>
<rect x="414.0" y="299.6" width="2.0" height="2.1" fill="#5c1a00"/>
<rect x="416.0" y="299.6" width="2.0" height="2.1" fill="#491a00"/>
<rect x="418.0" y="299.6" width="2.0" height="2.1" fill="#501a00"/>
<rect x="420.0" y="299.6" width="2.0" height="2.1" fill="#451a00"/>
<rect x="422.0" y="299.6" width="2.0" height="2.1" fill="#581a00"/>
<rect x="424.0" y="299.6" width="2.0" height="2.1" fill="#2e1a00"/>
<rect x="426.0" y="299.6" width="2.0" height="2.1" fill="#491a00"/>
<rect x="428.0" y="299.6" width="2.0" height="2.1" fill="#5c1a00"/>
<rect x="430.0" y="299.6" width="2.0" height="2.1" fill="#581a00"/>
<rect x="432.0" y="299.6" width="2.0" height="2.1" fill="#4c1a00"/>
<rect x="434.0" y="299.6" width="2.0" height="2.1" fill="#491a00"/>
<rect x="436.0" y="299.6" width="2.0" height="2.1" fill="#631a00"/>
<rect x="438.0" y="299.6" width="2.0" height="2.1" fill="#411a00"/>
<rect x="440.0" y="299.6" width="2.0" height="2.1" fill="#361a00"/>
<rect x="442.0" y="299.6" width="2.0" height="2.1" fill="#541a00"/>
<rect x="444.0" y="299.6" width="2.0" height="2.1" fill="#501a00"/>
<rect x="446.0" y="299.6" width="2.0" height="2.1" fill="#2e1a00"/>
<rect x="448.0" y="299.6" width="2.0" height="2.1" fill="#321a00"/>
<rect x="450.0" y="299.6" width="2.0" height="2.1" fill="#361a00"/>
<rect x="452.0" y="299.6" width="2.0" height="2.1" fill="#2e1a00"/>
<rect x="378.0" y="301.6" width="2.0" height="2.1" fill="#3d1a00"/>
<rect x="380.0" y="301.6" width="2.0" height="2.1" fill="#361a00"/>
<rect x="382.0" y="301.6" width="2.0" height="2.1" fill="#321a00"/>
<rect x="384.0" y="301.6" width="2.0" height="2.1" fill="#2e1a00"/>
<rect x="386.0" y="301.6" width="2.0" height="2.1" fill="#361a00"/>
<rect x="388.0" y="301.6" width="4.0" height="2.1" fill="#411a00"/>
<rect x="392.0" y="301.6" width="2.0" height="2.1" fill="#391a00"/>
<rect x="394.0" y="301.6" width="2.0" height="2.1" fill="#361a00"/>
<rect x="396.0" y="301.6" width="2.0" height="2.1" fill="#321a00"/>
<rect x="398.0" y="301.6" width="6.0" height="2.1" fill="#391a00"/>
<rect x="404.0" y="301.6" width="6.0" height="2.1" fill="#321a00"/>
<rect x="410.0" y="301.6" width="2.0" height="2.1" fill="#2e1a00"/>
<rect x="412.0" y="301.6" width="2.0" height="2.1" fill="#361a00"/>
<rect x="414.0" y="301.6" width="2.0" height="2.1" fill="#321a00"/>
<rect x="418.0" y="301.6" width="2.0" height="2.1" fill="#2e1a00"/>
<rect x="420.0" y="301.6" width="2.0" height="2.1" fill="#321a00"/>
<rect x="424.0" y="301.6" width="2.0" height="2.1" fill="#391a00"/>
<rect x="432.0" y="301.6" width="2.0" height="2.1" fill="#2e1a00"/>
<rect x="434.0" y="301.6" width="2.0" height="2.1" fill="#3d1a00"/>
<rect x="436.0" y="301.6" width="2.0" height="2.1" fill="#321a00"/>
<rect x="438.0" y="301.6" width="2.0" height="2.1" fill="#411a00"/>
<rect x="440.0" y="301.6" width="2.0" height="2.1" fill="#2e1a00"/>
<rect x="450.0" y="301.6" width="2.0" height="2.1" fill="#2a1a00"/>
<rect x="392.0" y="303.6" width="2.0" height="2.1" fill="#2e1a00"/>
<rect x="396.0" y="303.6" width="2.0" height="2.1" fill="#321a00"/>
<rect x="406.0" y="303.6" width="2.0" height="2.1" fill="#361a00"/>
<rect x="408.0" y="303.6" width="2.0" height="2.1" fill="#391a00"/>
<rect x="412.0" y="303.6" width="4.0" height="2.1" fill="#411a00"/>
<rect x="416.0" y="303.6" width="2.0" height="2.1" fill="#2a1a00"/>
<rect x="420.0" y="303.6" width="2.0" height="2.1" fill="#451a00"/>
<rect x="422.0" y="303.6" width="2.0" height="2.1" fill="#541a00"/>
<rect x="424.0" y="303.6" width="2.0" height="2.1" fill="#391a00"/>
<rect x="426.0" y="303.6" width="2.0" height="2.1" fill="#361a00"/>
<rect x="428.0" y="303.6" width="6.0" height="2.1" fill="#3d1a00"/>
<rect x="434.0" y="303.6" width="2.0" height="2.1" fill="#541a00"/>
<rect x="436.0" y="303.6" width="2.0" height="2.1" fill="#491a00"/>
<rect x="438.0" y="303.6" width="2.0" height="2.1" fill="#4c1a00"/>
<rect x="440.0" y="303.6" width="2.0" height="2.1" fill="#581a00"/>
<rect x="442.0" y="303.6" width="2.0" height="2.1" fill="#6b1a00"/>
<rect x="444.0" y="303.6" width="2.0" height="2.1" fill="#581a00"/>
<rect x="446.0" y="303.6" width="2.0" height="2.1" fill="#631a00"/>
<rect x="448.0" y="303.6" width="4.0" height="2.1" fill="#491a00"/>
<rect x="452.0" y="303.6" width="2.0" height="2.1" fill="#451a00"/>
<rect x="454.0" y="303.6" width="2.0" height="2.1" fill="#411a00"/>
<rect x="456.0" y="303.6" width="2.0" height="2.1" fill="#5c1a00"/>
<rect x="458.0" y="303.6" width="2.0" height="2.1" fill="#4c1a00"/>
<rect x="460.0" y="303.6" width="2.0" height="2.1" fill="#501a00"/>
<rect x="462.0" y="303.6" width="2.0" height="2.1" fill="#541a00"/>
<rect x="464.0" y="303.6" width="2.0" height="2.1" fill="#501a00"/>
<rect x="466.0" y="303.6" width="2.0" height="2.1" fill="#2e1a00"/>
<rect x="468.0" y="303.6" width="4.0" height="2.1" fill="#391a00"/>
<rect x="472.0" y="303.6" width="2.0" height="2.1" fill="#451a00"/>
<rect x="474.0" y="303.6" width="2.0" height="2.1" fill="#3d1a00"/>
<rect x="478.0" y="303.6" width="2.0" height="2.1" fill="#321a00"/>
<rect x="480.0" y="303.6" width="2.0" height="2.1" fill="#3d1a00"/>
<rect x="484.0" y="303.6" width="2.0" height="2.1" fill="#3d1a00"/>
<rect x="486.0" y="303.6" width="4.0" height="2.1" fill="#391a00"/>
<rect x="490.0" y="303.6" width="2.0" height="2.1" fill="#321a00"/>
<rect x="388.0" y="305.6" width="2.0" height="2.1" fill="#321a00"/>
<rect x="390.0" y="305.6" width="2.0" height="2.1" fill="#451a00"/>
<rect x="392.0" y="305.6" width="6.0" height="2.1" fill="#4c1a00"/>
<rect x="398.0" y="305.6" width="2.0" height="2.1" fill="#3d1a00"/>
<rect x="400.0" y="305.6" width="2.0" height="2.1" fill="#391a00"/>
<rect x="402.0" y="305.6" width="2.0" height="2.1" fill="#411a00"/>
<rect x="404.0" y="305.6" width="2.0" height="2.1" fill="#4c1a00"/>
<rect x="406.0" y="305.6" width="4.0" height="2.1" fill="#6b1a00"/>
<rect x="410.0" y="305.6" width="2.0" height="2.1" fill="#501a00"/>
<rect x="412.0" y="305.6" width="2.0" height="2.1" fill="#4c1a00"/>
<rect x="414.0" y="305.6" width="2.0" height="2.1" fill="#3d1a00"/>
<rect x="416.0" y="305.6" width="2.0" height="2.1" fill="#2e1a00"/>
<rect x="418.0" y="305.6" width="2.0" height="2.1" fill="#601a00"/>
<rect x="420.0" y="305.6" width="2.0" height="2.1" fill="#631a00"/>
<rect x="422.0" y="305.6" width="2.0" height="2.1" fill="#8a1a00"/>
<rect x="424.0" y="305.6" width="2.0" height="2.1" fill="#6f1a00"/>
<rect x="426.0" y="305.6" width="2.0" height="2.1" fill="#501a00"/>
<rect x="428.0" y="305.6" width="2.0" height="2.1" fill="#491a00"/>
<rect x="430.0" y="305.6" width="2.0" height="2.1" fill="#4c1a00"/>
<rect x="432.0" y="305.6" width="2.0" height="2.1" fill="#451a00"/>
<rect x="434.0" y="305.6" width="2.0" height="2.1" fill="#2e1a00"/>
<rect x="436.0" y="305.6" width="2.0" height="2.1" fill="#501a00"/>
<rect x="438.0" y="305.6" width="4.0" height="2.1" fill="#361a00"/>
<rect x="442.0" y="305.6" width="4.0" height="2.1" fill="#581a00"/>
<rect x="446.0" y="305.6" width="2.0" height="2.1" fill="#541a00"/>
<rect x="448.0" y="305.6" width="2.0" height="2.1" fill="#671a00"/>
<rect x="450.0" y="305.6" width="2.0" height="2.1" fill="#601a00"/>
<rect x="452.0" y="305.6" width="2.0" height="2.1" fill="#5c1a00"/>
<rect x="454.0" y="305.6" width="2.0" height="2.1" fill="#631a00"/>
<rect x="456.0" y="305.6" width="2.0" height="2.1" fill="#671a00"/>
<rect x="458.0" y="305.6" width="2.0" height="2.1" fill="#411a00"/>
<rect x="460.0" y="305.6" width="2.0" height="2.1" fill="#3d1a00"/>
<rect x="462.0" y="305.6" width="4.0" height="2.1" fill="#391a00"/>
<rect x="466.0" y="305.6" width="2.0" height="2.1" fill="#491a00"/>
<rect x="468.0" y="305.6" width="2.0" height="2.1" fill="#451a00"/>
<rect x="470.0" y="305.6" width="2.0" height="2.1" fill="#3d1a00"/>
<rect x="472.0" y="305.6" width="2.0" height="2.1" fill="#391a00"/>
<rect x="474.0" y="305.6" width="2.0" height="2.1" fill="#2e1a00"/>
<rect x="482.0" y="305.6" width="2.0" height="2.1" fill="#2e1a00"/>
<rect x="484.0" y="305.6" width="2.0" height="2.1" fill="#3d1a00"/>
<rect x="486.0" y="305.6" width="2.0" height="2.1" fill="#4c1a00"/>
<rect x="488.0" y="305.6" width="2.0" height="2.1" fill="#501a00"/>
<rect x="490.0" y="305.6" width="2.0" height="2.1" fill="#391a00"/>
<rect x="374.0" y="307.7" width="4.0" height="2.1" fill="#2e1a00"/>
<rect x="378.0" y="307.7" width="2.0" height="2.1" fill="#321a00"/>
<rect x="392.0" y="307.7" width="4.0" height="2.1" fill="#411a00"/>
<rect x="396.0" y="307.7" width="2.0" height="2.1" fill="#451a00"/>
<rect x="400.0" y="307.7" width="2.0" height="2.1" fill="#3d1a00"/>
<rect x="402.0" y="307.7" width="2.0" height="2.1" fill="#5c1a00"/>
<rect x="404.0" y="307.7" width="2.0" height="2.1" fill="#581a00"/>
<rect x="406.0" y="307.7" width="2.0" height="2.1" fill="#491a00"/>
<rect x="408.0" y="307.7" width="4.0" height="2.1" fill="#411a00"/>
<rect x="412.0" y="307.7" width="2.0" height="2.1" fill="#3d1a00"/>
<rect x="414.0" y="307.7" width="2.0" height="2.1" fill="#541a00"/>
<rect x="416.0" y="307.7" width="2.0" height="2.1" fill="#321a00"/>
<rect x="418.0" y="307.7" width="4.0" height="2.1" fill="#631a00"/>
<rect x="422.0" y="307.7" width="4.0" height="2.1" fill="#501a00"/>
<rect x="426.0" y="307.7" width="2.0" height="2.1" fill="#581a00"/>
<rect x="428.0" y="307.7" width="2.0" height="2.1" fill="#4c1a00"/>
<rect x="430.0" y="307.7" width="2.0" height="2.1" fill="#391a00"/>
<rect x="432.0" y="307.7" width="4.0" height="2.1" fill="#2e1a00"/>
<rect x="436.0" y="307.7" width="2.0" height="2.1" fill="#3d1a00"/>
<rect x="438.0" y="307.7" width="6.0" height="2.1" fill="#321a00"/>
<rect x="444.0" y="307.7" width="2.0" height="2.1" fill="#501a00"/>
<rect x="446.0" y="307.7" width="2.0" height="2.1" fill="#491a00"/>
<rect x="448.0" y="307.7" width="2.0" height="2.1" fill="#411a00"/>
<rect x="450.0" y="307.7" width="2.0" height="2.1" fill="#3d1a00"/>
<rect x="452.0" y="307.7" width="2.0" height="2.1" fill="#391a00"/>
<rect x="454.0" y="307.7" width="2.0" height="2.1" fill="#3d1a00"/>
<rect x="456.0" y="307.7" width="2.0" height="2.1" fill="#411a00"/>
<rect x="458.0" y="307.7" width="2.0" height="2.1" fill="#321a00"/>
<rect x="460.0" y="307.7" width="2.0" height="2.1" fill="#411a00"/>
<rect x="466.0" y="307.7" width="2.0" height="2.1" fill="#361a00"/>
<rect x="468.0" y="307.7" width="2.0" height="2.1" fill="#321a00"/>
<rect x="360.0" y="309.7" width="2.0" height="2.1" fill="#2e1a00"/>
<rect x="368.0" y="309.7" width="2.0" height="2.1" fill="#2a1a00"/>
<rect x="370.0" y="309.7" width="2.0" height="2.1" fill="#361a00"/>
<rect x="374.0" y="309.7" width="2.0" height="2.1" fill="#491a00"/>
<rect x="376.0" y="309.7" width="2.0" height="2.1" fill="#3d1a00"/>
<rect x="378.0" y="309.7" width="4.0" height="2.1" fill="#391a00"/>
<rect x="384.0" y="309.7" width="2.0" height="2.1" fill="#2e1a00"/>
<rect x="386.0" y="309.7" width="2.0" height="2.1" fill="#451a00"/>
<rect x="388.0" y="309.7" width="2.0" height="2.1" fill="#4c1a00"/>
<rect x="390.0" y="309.7" width="4.0" height="2.1" fill="#411a00"/>
<rect x="394.0" y="309.7" width="2.0" height="2.1" fill="#491a00"/>
<rect x="396.0" y="309.7" width="2.0" height="2.1" fill="#501a00"/>
<rect x="398.0" y="309.7" width="2.0" height="2.1" fill="#3d1a00"/>
<rect x="400.0" y="309.7" width="2.0" height="2.1" fill="#411a00"/>
<rect x="402.0" y="309.7" width="2.0" height="2.1" fill="#391a00"/>
<rect x="404.0" y="309.7" width="2.0" height="2.1" fill="#451a00"/>
<rect x="406.0" y="309.7" width="2.0" height="2.1" fill="#491a00"/>
<rect x="408.0" y="309.7" width="2.0" height="2.1" fill="#451a00"/>
<rect x="410.0" y="309.7" width="2.0" height="2.1" fill="#3d1a00"/>
<rect x="412.0" y="309.7" width="2.0" height="2.1" fill="#411a00"/>
<rect x="414.0" y="309.7" width="2.0" height="2.1" fill="#541a00"/>
<rect x="416.0" y="309.7" width="2.0" height="2.1" fill="#491a00"/>
<rect x="418.0" y="309.7" width="2.0" height="2.1" fill="#3d1a00"/>
<rect x="422.0" y="309.7" width="2.0" height="2.1" fill="#361a00"/>
<rect x="424.0" y="309.7" width="2.0" height="2.1" fill="#2e1a00"/>
<rect x="426.0" y="309.7" width="2.0" height="2.1" fill="#391a00"/>
<rect x="428.0" y="309.7" width="2.0" height="2.1" fill="#3d1a00"/>
<rect x="430.0" y="309.7" width="2.0" height="2.1" fill="#411a00"/>
<rect x="432.0" y="309.7" width="2.0" height="2.1" fill="#491a00"/>
<rect x="434.0" y="309.7" width="2.0" height="2.1" fill="#3d1a00"/>
<rect x="436.0" y="309.7" width="2.0" height="2.1" fill="#2e1a00"/>
<rect x="438.0" y="309.7" width="2.0" height="2.1" fill="#2a1a00"/>
<rect x="352.0" y="311.7" width="2.0" height="2.1" fill="#361a00"/>
<rect x="354.0" y="311.7" width="4.0" height="2.1" fill="#391a00"/>
<rect x="358.0" y="311.7" width="2.0" height="2.1" fill="#4c1a00"/>
<rect x="360.0" y="311.7" width="4.0" height="2.1" fill="#541a00"/>
<rect x="364.0" y="311.7" width="2.0" height="2.1" fill="#501a00"/>
<rect x="366.0" y="311.7" width="2.0" height="2.1" fill="#4c1a00"/>
<rect x="368.0" y="311.7" width="2.0" height="2.1" fill="#451a00"/>
<rect x="370.0" y="311.7" width="4.0" height="2.1" fill="#671a00"/>
<rect x="374.0" y="311.7" width="2.0" height="2.1" fill="#7a1a00"/>
<rect x="376.0" y="311.7" width="2.0" height="2.1" fill="#771a00"/>
<rect x="378.0" y="311.7" width="2.0" height="2.1" fill="#541a00"/>
<rect x="380.0" y="311.7" width="2.0" height="2.1" fill="#7a1a00"/>
<rect x="382.0" y="311.7" width="2.0" height="2.1" fill="#601a00"/>
<rect x="384.0" y="311.7" width="2.0" height="2.1" fill="#631a00"/>
<rect x="386.0" y="311.7" width="2.0" height="2.1" fill="#5c1a00"/>
<rect x="388.0" y="311.7" width="2.0" height="2.1" fill="#541a00"/>
<rect x="390.0" y="311.7" width="2.0" height="2.1" fill="#821a00"/>
<rect x="392.0" y="311.7" width="2.0" height="2.1" fill="#6f1a00"/>
<rect x="394.0" y="311.7" width="2.0" height="2.1" fill="#491a00"/>
<rect x="396.0" y="311.7" width="2.0" height="2.1" fill="#391a00"/>
<rect x="398.0" y="311.7" width="2.0" height="2.1" fill="#411a00"/>
<rect x="400.0" y="311.7" width="2.0" height="2.1" fill="#361a00"/>
<rect x="402.0" y="311.7" width="2.0" height="2.1" fill="#3d1a00"/>
<rect x="404.0" y="311.7" width="2.0" height="2.1" fill="#631a00"/>
<rect x="406.0" y="311.7" width="2.0" height="2.1" fill="#601a00"/>
<rect x="408.0" y="311.7" width="2.0" height="2.1" fill="#4c1a00"/>
<rect x="410.0" y="311.7" width="2.0" height="2.1" fill="#451a00"/>
<rect x="412.0" y="311.7" width="2.0" height="2.1" fill="#411a00"/>
<rect x="414.0" y="311.7" width="2.0" height="2.1" fill="#451a00"/>
<rect x="416.0" y="311.7" width="2.0" height="2.1" fill="#321a00"/>
<rect x="418.0" y="311.7" width="2.0" height="2.1" fill="#491a00"/>
<rect x="420.0" y="311.7" width="8.1" height="2.1" fill="#411a00"/>
<rect x="428.0" y="311.7" width="2.0" height="2.1" fill="#501a00"/>
<rect x="430.0" y="311.7" width="2.0" height="2.1" fill="#601a00"/>
<rect x="432.0" y="311.7" width="2.0" height="2.1" fill="#631a00"/>
<rect x="434.0" y="311.7" width="2.0" height="2.1" fill="#671a00"/>
<rect x="436.0" y="311.7" width="2.0" height="2.1" fill="#5c1a00"/>
<rect x="438.0" y="311.7" width="2.0" height="2.1" fill="#541a00"/>
<rect x="440.0" y="311.7" width="2.0" height="2.1" fill="#501a00"/>
<rect x="442.0" y="311.7" width="2.0" height="2.1" fill="#491a00"/>
<rect x="444.0" y="311.7" width="2.0" height="2.1" fill="#2e1a00"/>
<rect x="446.0" y="311.7" width="2.0" height="2.1" fill="#321a00"/>
<rect x="448.0" y="311.7" width="2.0" height="2.1" fill="#2e1a00"/>
<rect x="450.0" y="311.7" width="2.0" height="2.1" fill="#321a00"/>
<rect x="452.0" y="311.7" width="2.0" height="2.1" fill="#361a00"/>
<rect x="344.0" y="313.7" width="2.0" height="2.1" fill="#321a00"/>
<rect x="346.0" y="313.7" width="2.0" height="2.1" fill="#2e1a00"/>
<rect x="348.0" y="313.7" width="2.0" height="2.1" fill="#3d1a00"/>
<rect x="350.0" y="313.7" width="2.0" height="2.1" fill="#6b1a00"/>
<rect x="352.0" y="313.7" width="2.0" height="2.1" fill="#451a00"/>
<rect x="354.0" y="313.7" width="2.0" height="2.1" fill="#631a00"/>
<rect x="356.0" y="313.7" width="4.0" height="2.1" fill="#771a00"/>
<rect x="360.0" y="313.7" width="2.0" height="2.1" fill="#821a00"/>
<rect x="362.0" y="313.7" width="2.0" height="2.1" fill="#951a00"/>
<rect x="364.0" y="313.7" width="2.0" height="2.1" fill="#821a00"/>
<rect x="366.0" y="313.7" width="2.0" height="2.1" fill="#6f1a00"/>
<rect x="368.0" y="313.7" width="2.0" height="2.1" fill="#7e1a00"/>
<rect x="370.0" y="313.7" width="2.0" height="2.1" fill="#821a00"/>
<rect x="372.0" y="313.7" width="4.0" height="2.1" fill="#7a1a00"/>
<rect x="376.0" y="313.7" width="2.0" height="2.1" fill="#7e1a00"/>
<rect x="378.0" y="313.7" width="2.0" height="2.1" fill="#7a1a00"/>
<rect x="380.0" y="313.7" width="2.0" height="2.1" fill="#731a00"/>
<rect x="382.0" y="313.7" width="2.0" height="2.1" fill="#631a00"/>
<rect x="384.0" y="313.7" width="2.0" height="2.1" fill="#4c1a00"/>
<rect x="386.0" y="313.7" width="2.0" height="2.1" fill="#5c1a00"/>
<rect x="388.0" y="313.7" width="2.0" height="2.1" fill="#6f1a00"/>
<rect x="390.0" y="313.7" width="2.0" height="2.1" fill="#501a00"/>
<rect x="392.0" y="313.7" width="2.0" height="2.1" fill="#6b1a00"/>
<rect x="394.0" y="313.7" width="2.0" height="2.1" fill="#411a00"/>
<rect x="396.0" y="313.7" width="2.0" height="2.1" fill="#4c1a00"/>
<rect x="398.0" y="313.7" width="2.0" height="2.1" fill="#581a00"/>
<rect x="400.0" y="313.7" width="4.0" height="2.1" fill="#6f1a00"/>
<rect x="404.0" y="313.7" width="2.0" height="2.1" fill="#8a1a00"/>
<rect x="406.0" y="313.7" width="2.0" height="2.1" fill="#8e1a00"/>
<rect x="408.0" y="313.7" width="2.0" height="2.1" fill="#7a1a00"/>
<rect x="410.0" y="313.7" width="2.0" height="2.1" fill="#671a00"/>
<rect x="412.0" y="313.7" width="2.0" height="2.1" fill="#631a00"/>
<rect x="414.0" y="313.7" width="2.0" height="2.1" fill="#6f1a00"/>
<rect x="416.0" y="313.7" width="2.0" height="2.1" fill="#861a00"/>
<rect x="418.0" y="313.7" width="2.0" height="2.1" fill="#731a00"/>
<rect x="420.0" y="313.7" width="2.0" height="2.1" fill="#6f1a00"/>
<rect x="422.0" y="313.7" width="2.0" height="2.1" fill="#491a00"/>
<rect x="424.0" y="313.7" width="2.0" height="2.1" fill="#451a00"/>
<rect x="426.0" y="313.7" width="2.0" height="2.1" fill="#411a00"/>
<rect x="428.0" y="313.7" width="2.0" height="2.1" fill="#3d1a00"/>
<rect x="430.0" y="313.7" width="2.0" height="2.1" fill="#451a00"/>
<rect x="432.0" y="313.7" width="2.0" height="2.1" fill="#491a00"/>
<rect x="434.0" y="313.7" width="4.0" height="2.1" fill="#451a00"/>
<rect x="438.0" y="313.7" width="2.0" height="2.1" fill="#411a00"/>
<rect x="440.0" y="313.7" width="2.0" height="2.1" fill="#451a00"/>
<rect x="442.0" y="313.7" width="2.0" height="2.1" fill="#321a00"/>
<rect x="444.0" y="313.7" width="4.0" height="2.1" fill="#451a00"/>
<rect x="448.0" y="313.7" width="2.0" height="2.1" fill="#361a00"/>
<rect x="456.0" y="313.7" width="2.0" height="2.1" fill="#2a1a00"/>
<rect x="460.0" y="313.7" width="2.0" height="2.1" fill="#321a00"/>
<rect x="334.0" y="315.8" width="2.0" height="2.1" fill="#321a00"/>
<rect x="336.0" y="315.8" width="2.0" height="2.1" fill="#451a00"/>
<rect x="338.0" y="315.8" width="2.0" height="2.1" fill="#491a00"/>
<rect x="340.0" y="315.8" width="2.0" height="2.1" fill="#361a00"/>
<rect x="342.0" y="315.8" width="2.0" height="2.1" fill="#321a00"/>
<rect x="344.0" y="315.8" width="2.0" height="2.1" fill="#491a00"/>
<rect x="346.0" y="315.8" width="2.0" height="2.1" fill="#671a00"/>
<rect x="348.0" y="315.8" width="2.0" height="2.1" fill="#731a00"/>
<rect x="350.0" y="315.8" width="4.0" height="2.1" fill="#5c1a00"/>
<rect x="354.0" y="315.8" width="2.0" height="2.1" fill="#911a00"/>
<rect x="356.0" y="315.8" width="2.0" height="2.1" fill="#601a00"/>
<rect x="358.0" y="315.8" width="4.0" height="2.1" fill="#771a00"/>
<rect x="362.0" y="315.8" width="2.0" height="2.1" fill="#911a00"/>
<rect x="364.0" y="315.8" width="4.0" height="2.1" fill="#a81a00"/>
<rect x="368.0" y="315.8" width="2.0" height="2.1" fill="#a41a00"/>
<rect x="370.0" y="315.8" width="2.0" height="2.1" fill="#951a00"/>
<rect x="372.0" y="315.8" width="2.0" height="2.1" fill="#d61a00"/>
<rect x="374.0" y="315.8" width="2.0" height="2.1" fill="#ff1a00"/>
<rect x="376.0" y="315.8" width="2.0" height="2.1" fill="#c71a00"/>
<rect x="378.0" y="315.8" width="2.0" height="2.1" fill="#8e1a00"/>
<rect x="380.0" y="315.8" width="2.0" height="2.1" fill="#8a1a00"/>
<rect x="382.0" y="315.8" width="2.0" height="2.1" fill="#821a00"/>
<rect x="384.0" y="315.8" width="2.0" height="2.1" fill="#7e1a00"/>
<rect x="386.0" y="315.8" width="2.0" height="2.1" fill="#6b1a00"/>
<rect x="388.0" y="315.8" width="2.0" height="2.1" fill="#581a00"/>
<rect x="390.0" y="315.8" width="2.0" height="2.1" fill="#541a00"/>
<rect x="392.0" y="315.8" width="2.0" height="2.1" fill="#321a00"/>
<rect x="394.0" y="315.8" width="2.0" height="2.1" fill="#3d1a00"/>
<rect x="396.0" y="315.8" width="2.0" height="2.1" fill="#771a00"/>
<rect x="398.0" y="315.8" width="2.0" height="2.1" fill="#5c1a00"/>
<rect x="400.0" y="315.8" width="2.0" height="2.1" fill="#4c1a00"/>
<rect x="402.0" y="315.8" width="2.0" height="2.1" fill="#771a00"/>
<rect x="404.0" y="315.8" width="2.0" height="2.1" fill="#7a1a00"/>
<rect x="406.0" y="315.8" width="2.0" height="2.1" fill="#771a00"/>
<rect x="408.0" y="315.8" width="2.0" height="2.1" fill="#7a1a00"/>
<rect x="410.0" y="315.8" width="2.0" height="2.1" fill="#7e1a00"/>
<rect x="412.0" y="315.8" width="4.0" height="2.1" fill="#7a1a00"/>
<rect x="416.0" y="315.8" width="2.0" height="2.1" fill="#731a00"/>
<rect x="418.0" y="315.8" width="2.0" height="2.1" fill="#861a00"/>
<rect x="420.0" y="315.8" width="2.0" height="2.1" fill="#821a00"/>
<rect x="422.0" y="315.8" width="2.0" height="2.1" fill="#501a00"/>
<rect x="424.0" y="315.8" width="2.0" height="2.1" fill="#671a00"/>
<rect x="426.0" y="315.8" width="2.0" height="2.1" fill="#6f1a00"/>
<rect x="428.0" y="315.8" width="2.0" height="2.1" fill="#631a00"/>
<rect x="430.0" y="315.8" width="4.0" height="2.1" fill="#541a00"/>
<rect x="434.0" y="315.8" width="2.0" height="2.1" fill="#671a00"/>
<rect x="436.0" y="315.8" width="4.0" height="2.1" fill="#821a00"/>
<rect x="440.0" y="315.8" width="2.0" height="2.1" fill="#6b1a00"/>
<rect x="442.0" y="315.8" width="4.0" height="2.1" fill="#821a00"/>
<rect x="446.0" y="315.8" width="2.0" height="2.1" fill="#6f1a00"/>
<rect x="448.0" y="315.8" width="2.0" height="2.1" fill="#731a00"/>
<rect x="450.0" y="315.8" width="2.0" height="2.1" fill="#671a00"/>
<rect x="452.0" y="315.8" width="2.0" height="2.1" fill="#501a00"/>
<rect x="454.0" y="315.8" width="2.0" height="2.1" fill="#361a00"/>
<rect x="460.0" y="315.8" width="4.0" height="2.1" fill="#411a00"/>
<rect x="464.0" y="315.8" width="2.0" height="2.1" fill="#451a00"/>
<rect x="466.0" y="315.8" width="2.0" height="2.1" fill="#491a00"/>
<rect x="468.0" y="315.8" width="2.0" height="2.1" fill="#451a00"/>
<rect x="470.0" y="315.8" width="2.0" height="2.1" fill="#3d1a00"/>
<rect x="472.0" y="315.8" width="2.0" height="2.1" fill="#361a00"/>
<rect x="332.0" y="317.8" width="4.0" height="2.1" fill="#321a00"/>
<rect x="336.0" y="317.8" width="2.0" height="2.1" fill="#361a00"/>
<rect x="338.0" y="317.8" width="6.0" height="2.1" fill="#391a00"/>
<rect x="344.0" y="317.8" width="2.0" height="2.1" fill="#451a00"/>
<rect x="346.0" y="317.8" width="2.0" height="2.1" fill="#6b1a00"/>
<rect x="348.0" y="317.8" width="2.0" height="2.1" fill="#7a1a00"/>
<rect x="350.0" y="317.8" width="2.0" height="2.1" fill="#6f1a00"/>
<rect x="352.0" y="317.8" width="2.0" height="2.1" fill="#861a00"/>
<rect x="354.0" y="317.8" width="2.0" height="2.1" fill="#541a00"/>
<rect x="356.0" y="317.8" width="2.0" height="2.1" fill="#581a00"/>
<rect x="358.0" y="317.8" width="4.0" height="2.1" fill="#5c1a00"/>
<rect x="362.0" y="317.8" width="2.0" height="2.1" fill="#6f1a00"/>
<rect x="364.0" y="317.8" width="2.0" height="2.1" fill="#7a1a00"/>
<rect x="366.0" y="317.8" width="4.0" height="2.1" fill="#771a00"/>
<rect x="370.0" y="317.8" width="2.0" height="2.1" fill="#8e1a00"/>
<rect x="372.0" y="317.8" width="2.0" height="2.1" fill="#c71a00"/>
<rect x="374.0" y="317.8" width="2.0" height="2.1" fill="#b41a00"/>
<rect x="376.0" y="317.8" width="2.0" height="2.1" fill="#da1a00"/>
<rect x="378.0" y="317.8" width="2.0" height="2.1" fill="#e51a00"/>
<rect x="380.0" y="317.8" width="2.0" height="2.1" fill="#a11a00"/>
<rect x="382.0" y="317.8" width="2.0" height="2.1" fill="#7e1a00"/>
<rect x="384.0" y="317.8" width="2.0" height="2.1" fill="#8e1a00"/>
<rect x="386.0" y="317.8" width="2.0" height="2.1" fill="#991a00"/>
<rect x="388.0" y="317.8" width="2.0" height="2.1" fill="#7e1a00"/>
<rect x="390.0" y="317.8" width="2.0" height="2.1" fill="#4c1a00"/>
<rect x="392.0" y="317.8" width="2.0" height="2.1" fill="#411a00"/>
<rect x="394.0" y="317.8" width="2.0" height="2.1" fill="#501a00"/>
<rect x="396.0" y="317.8" width="2.0" height="2.1" fill="#541a00"/>
<rect x="398.0" y="317.8" width="4.0" height="2.1" fill="#6f1a00"/>
<rect x="402.0" y="317.8" width="2.0" height="2.1" fill="#601a00"/>
<rect x="404.0" y="317.8" width="2.0" height="2.1" fill="#6b1a00"/>
<rect x="406.0" y="317.8" width="2.0" height="2.1" fill="#581a00"/>
<rect x="408.0" y="317.8" width="4.0" height="2.1" fill="#491a00"/>
<rect x="412.0" y="317.8" width="2.0" height="2.1" fill="#451a00"/>
<rect x="414.0" y="317.8" width="2.0" height="2.1" fill="#3d1a00"/>
<rect x="416.0" y="317.8" width="2.0" height="2.1" fill="#6f1a00"/>
<rect x="418.0" y="317.8" width="2.0" height="2.1" fill="#771a00"/>
<rect x="420.0" y="317.8" width="2.0" height="2.1" fill="#6f1a00"/>
<rect x="422.0" y="317.8" width="2.0" height="2.1" fill="#a41a00"/>
<rect x="424.0" y="317.8" width="2.0" height="2.1" fill="#8a1a00"/>
<rect x="426.0" y="317.8" width="2.0" height="2.1" fill="#861a00"/>
<rect x="428.0" y="317.8" width="2.0" height="2.1" fill="#821a00"/>
<rect x="430.0" y="317.8" width="2.0" height="2.1" fill="#731a00"/>
<rect x="432.0" y="317.8" width="2.0" height="2.1" fill="#581a00"/>
<rect x="434.0" y="317.8" width="2.0" height="2.1" fill="#4c1a00"/>
<rect x="436.0" y="317.8" width="2.0" height="2.1" fill="#6f1a00"/>
<rect x="438.0" y="317.8" width="2.0" height="2.1" fill="#861a00"/>
<rect x="440.0" y="317.8" width="2.0" height="2.1" fill="#501a00"/>
<rect x="442.0" y="317.8" width="2.0" height="2.1" fill="#601a00"/>
<rect x="444.0" y="317.8" width="2.0" height="2.1" fill="#4c1a00"/>
<rect x="446.0" y="317.8" width="2.0" height="2.1" fill="#631a00"/>
<rect x="448.0" y="317.8" width="2.0" height="2.1" fill="#7a1a00"/>
<rect x="450.0" y="317.8" width="2.0" height="2.1" fill="#6b1a00"/>
<rect x="452.0" y="317.8" width="2.0" height="2.1" fill="#4c1a00"/>
<rect x="454.0" y="317.8" width="2.0" height="2.1" fill="#411a00"/>
<rect x="456.0" y="317.8" width="2.0" height="2.1" fill="#501a00"/>
<rect x="458.0" y="317.8" width="2.0" height="2.1" fill="#451a00"/>
<rect x="460.0" y="317.8" width="2.0" height="2.1" fill="#501a00"/>
<rect x="462.0" y="317.8" width="2.0" height="2.1" fill="#361a00"/>
<rect x="464.0" y="317.8" width="2.0" height="2.1" fill="#391a00"/>
<rect x="466.0" y="317.8" width="2.0" height="2.1" fill="#361a00"/>
<rect x="468.0" y="317.8" width="2.0" height="2.1" fill="#391a00"/>
<rect x="470.0" y="317.8" width="2.0" height="2.1" fill="#451a00"/>
<rect x="472.0" y="317.8" width="2.0" height="2.1" fill="#411a00"/>
<rect x="474.0" y="317.8" width="2.0" height="2.1" fill="#2e1a00"/>
<rect x="346.0" y="319.8" width="4.0" height="2.1" fill="#411a00"/>
<rect x="350.0" y="319.8" width="4.0" height="2.1" fill="#501a00"/>
<rect x="354.0" y="319.8" width="2.0" height="2.1" fill="#541a00"/>
<rect x="356.0" y="319.8" width="2.0" height="2.1" fill="#411a00"/>
<rect x="358.0" y="319.8" width="2.0" height="2.1" fill="#581a00"/>
<rect x="360.0" y="319.8" width="2.0" height="2.1" fill="#541a00"/>
<rect x="362.0" y="319.8" width="2.0" height="2.1" fill="#601a00"/>
<rect x="364.0" y="319.8" width="2.0" height="2.1" fill="#6f1a00"/>
<rect x="366.0" y="319.8" width="2.0" height="2.1" fill="#6b1a00"/>
<rect x="368.0" y="319.8" width="2.0" height="2.1" fill="#581a00"/>
<rect x="370.0" y="319.8" width="2.0" height="2.1" fill="#541a00"/>
<rect x="372.0" y="319.8" width="2.0" height="2.1" fill="#771a00"/>
<rect x="374.0" y="319.8" width="2.0" height="2.1" fill="#b01a00"/>
<rect x="376.0" y="319.8" width="2.0" height="2.1" fill="#771a00"/>
<rect x="378.0" y="319.8" width="2.0" height="2.1" fill="#731a00"/>
<rect x="380.0" y="319.8" width="2.0" height="2.1" fill="#7e1a00"/>
<rect x="382.0" y="319.8" width="2.0" height="2.1" fill="#771a00"/>
<rect x="384.0" y="319.8" width="2.0" height="2.1" fill="#6f1a00"/>
<rect x="386.0" y="319.8" width="2.0" height="2.1" fill="#6b1a00"/>
<rect x="388.0" y="319.8" width="2.0" height="2.1" fill="#631a00"/>
<rect x="390.0" y="319.8" width="2.0" height="2.1" fill="#581a00"/>
<rect x="392.0" y="319.8" width="2.0" height="2.1" fill="#6f1a00"/>
<rect x="394.0" y="319.8" width="2.0" height="2.1" fill="#7e1a00"/>
<rect x="396.0" y="319.8" width="2.0" height="2.1" fill="#491a00"/>
<rect x="398.0" y="319.8" width="2.0" height="2.1" fill="#771a00"/>
<rect x="400.0" y="319.8" width="2.0" height="2.1" fill="#601a00"/>
<rect x="402.0" y="319.8" width="2.0" height="2.1" fill="#6b1a00"/>
<rect x="404.0" y="319.8" width="2.0" height="2.1" fill="#5c1a00"/>
<rect x="406.0" y="319.8" width="2.0" height="2.1" fill="#601a00"/>
<rect x="408.0" y="319.8" width="2.0" height="2.1" fill="#6b1a00"/>
<rect x="410.0" y="319.8" width="2.0" height="2.1" fill="#671a00"/>
<rect x="412.0" y="319.8" width="4.0" height="2.1" fill="#581a00"/>
<rect x="416.0" y="319.8" width="2.0" height="2.1" fill="#6f1a00"/>
<rect x="418.0" y="319.8" width="2.0" height="2.1" fill="#8a1a00"/>
<rect x="420.0" y="319.8" width="2.0" height="2.1" fill="#631a00"/>
<rect x="422.0" y="319.8" width="2.0" height="2.1" fill="#6f1a00"/>
<rect x="424.0" y="319.8" width="2.0" height="2.1" fill="#731a00"/>
<rect x="426.0" y="319.8" width="2.0" height="2.1" fill="#581a00"/>
<rect x="428.0" y="319.8" width="2.0" height="2.1" fill="#4c1a00"/>
<rect x="430.0" y="319.8" width="2.0" height="2.1" fill="#491a00"/>
<rect x="432.0" y="319.8" width="2.0" height="2.1" fill="#501a00"/>
<rect x="434.0" y="319.8" width="4.0" height="2.1" fill="#731a00"/>
<rect x="438.0" y="319.8" width="2.0" height="2.1" fill="#6f1a00"/>
<rect x="440.0" y="319.8" width="2.0" height="2.1" fill="#631a00"/>
<rect x="442.0" y="319.8" width="2.0" height="2.1" fill="#5c1a00"/>
<rect x="444.0" y="319.8" width="2.0" height="2.1" fill="#731a00"/>
<rect x="446.0" y="319.8" width="2.0" height="2.1" fill="#6b1a00"/>
<rect x="448.0" y="319.8" width="6.0" height="2.1" fill="#501a00"/>
<rect x="454.0" y="319.8" width="2.0" height="2.1" fill="#491a00"/>
<rect x="456.0" y="319.8" width="2.0" height="2.1" fill="#411a00"/>
<rect x="458.0" y="319.8" width="2.0" height="2.1" fill="#361a00"/>
<rect x="462.0" y="319.8" width="2.0" height="2.1" fill="#321a00"/>
<rect x="350.0" y="321.8" width="2.0" height="2.1" fill="#2e1a00"/>
<rect x="354.0" y="321.8" width="2.0" height="2.1" fill="#321a00"/>
<rect x="356.0" y="321.8" width="2.0" height="2.1" fill="#361a00"/>
<rect x="358.0" y="321.8" width="2.0" height="2.1" fill="#2a1a00"/>
<rect x="362.0" y="321.8" width="2.0" height="2.1" fill="#321a00"/>
<rect x="364.0" y="321.8" width="4.0" height="2.1" fill="#361a00"/>
<rect x="368.0" y="321.8" width="2.0" height="2.1" fill="#4c1a00"/>
<rect x="370.0" y="321.8" width="2.0" height="2.1" fill="#581a00"/>
<rect x="372.0" y="321.8" width="2.0" height="2.1" fill="#771a00"/>
<rect x="374.0" y="321.8" width="2.0" height="2.1" fill="#731a00"/>
<rect x="376.0" y="321.8" width="2.0" height="2.1" fill="#411a00"/>
<rect x="378.0" y="321.8" width="2.0" height="2.1" fill="#7a1a00"/>
<rect x="380.0" y="321.8" width="2.0" height="2.1" fill="#6b1a00"/>
<rect x="382.0" y="321.8" width="2.0" height="2.1" fill="#5c1a00"/>
<rect x="384.0" y="321.8" width="2.0" height="2.1" fill="#601a00"/>
<rect x="386.0" y="321.8" width="2.0" height="2.1" fill="#631a00"/>
<rect x="388.0" y="321.8" width="2.0" height="2.1" fill="#501a00"/>
<rect x="390.0" y="321.8" width="2.0" height="2.1" fill="#321a00"/>
<rect x="392.0" y="321.8" width="2.0" height="2.1" fill="#4c1a00"/>
<rect x="394.0" y="321.8" width="2.0" height="2.1" fill="#671a00"/>
<rect x="396.0" y="321.8" width="2.0" height="2.1" fill="#631a00"/>
<rect x="398.0" y="321.8" width="4.0" height="2.1" fill="#7a1a00"/>
<rect x="402.0" y="321.8" width="2.0" height="2.1" fill="#4c1a00"/>
<rect x="404.0" y="321.8" width="2.0" height="2.1" fill="#361a00"/>
<rect x="406.0" y="321.8" width="2.0" height="2.1" fill="#321a00"/>
<rect x="408.0" y="321.8" width="2.0" height="2.1" fill="#411a00"/>
<rect x="410.0" y="321.8" width="2.0" height="2.1" fill="#5c1a00"/>
<rect x="412.0" y="321.8" width="2.0" height="2.1" fill="#581a00"/>
<rect x="414.0" y="321.8" width="2.0" height="2.1" fill="#411a00"/>
<rect x="416.0" y="321.8" width="2.0" height="2.1" fill="#581a00"/>
<rect x="418.0" y="321.8" width="2.0" height="2.1" fill="#501a00"/>
<rect x="420.0" y="321.8" width="2.0" height="2.1" fill="#3d1a00"/>
<rect x="422.0" y="321.8" width="2.0" height="2.1" fill="#5c1a00"/>
<rect x="424.0" y="321.8" width="2.0" height="2.1" fill="#6b1a00"/>
<rect x="426.0" y="321.8" width="2.0" height="2.1" fill="#671a00"/>
<rect x="428.0" y="321.8" width="2.0" height="2.1" fill="#601a00"/>
<rect x="430.0" y="321.8" width="2.0" height="2.1" fill="#491a00"/>
<rect x="432.0" y="321.8" width="2.0" height="2.1" fill="#2e1a00"/>
<rect x="434.0" y="321.8" width="2.0" height="2.1" fill="#361a00"/>
<rect x="436.0" y="321.8" width="2.0" height="2.1" fill="#5c1a00"/>
<rect x="438.0" y="321.8" width="2.0" height="2.1" fill="#501a00"/>
<rect x="440.0" y="321.8" width="2.0" height="2.1" fill="#4c1a00"/>
<rect x="442.0" y="321.8" width="2.0" height="2.1" fill="#491a00"/>
<rect x="444.0" y="321.8" width="4.0" height="2.1" fill="#501a00"/>
<rect x="448.0" y="321.8" width="2.0" height="2.1" fill="#321a00"/>
<rect x="370.0" y="323.9" width="2.0" height="2.1" fill="#361a00"/>
<rect x="372.0" y="323.9" width="2.0" height="2.1" fill="#391a00"/>
<rect x="374.0" y="323.9" width="2.0" height="2.1" fill="#361a00"/>
<rect x="376.0" y="323.9" width="2.0" height="2.1" fill="#541a00"/>
<rect x="378.0" y="323.9" width="2.0" height="2.1" fill="#411a00"/>
<rect x="380.0" y="323.9" width="2.0" height="2.1" fill="#451a00"/>
<rect x="382.0" y="323.9" width="2.0" height="2.1" fill="#2e1a00"/>
<rect x="384.0" y="323.9" width="2.0" height="2.1" fill="#361a00"/>
<rect x="386.0" y="323.9" width="2.0" height="2.1" fill="#391a00"/>
<rect x="388.0" y="323.9" width="2.0" height="2.1" fill="#321a00"/>
<rect x="390.0" y="323.9" width="2.0" height="2.1" fill="#2e1a00"/>
<rect x="392.0" y="323.9" width="2.0" height="2.1" fill="#361a00"/>
<rect x="394.0" y="323.9" width="2.0" height="2.1" fill="#3d1a00"/>
<rect x="396.0" y="323.9" width="2.0" height="2.1" fill="#4c1a00"/>
<rect x="398.0" y="323.9" width="2.0" height="2.1" fill="#3d1a00"/>
<rect x="400.0" y="323.9" width="2.0" height="2.1" fill="#451a00"/>
<rect x="402.0" y="323.9" width="2.0" height="2.1" fill="#541a00"/>
<rect x="404.0" y="323.9" width="2.0" height="2.1" fill="#501a00"/>
<rect x="406.0" y="323.9" width="2.0" height="2.1" fill="#541a00"/>
<rect x="408.0" y="323.9" width="2.0" height="2.1" fill="#491a00"/>
<rect x="410.0" y="323.9" width="2.0" height="2.1" fill="#391a00"/>
<rect x="412.0" y="323.9" width="4.0" height="2.1" fill="#3d1a00"/>
<rect x="416.0" y="323.9" width="2.0" height="2.1" fill="#391a00"/>
<rect x="398.0" y="325.9" width="2.0" height="2.1" fill="#391a00"/>
<rect x="406.0" y="325.9" width="2.0" height="2.1" fill="#2a1a00"/>
<rect x="408.0" y="325.9" width="2.0" height="2.1" fill="#2e1a00"/>
<rect x="412.0" y="325.9" width="2.0" height="2.1" fill="#321a00"/>
<rect x="414.0" y="325.9" width="2.0" height="2.1" fill="#2e1a00"/>
</g>
</g></g>
<rect x="84.4" y="285.4" width="525.90" height="1" fill="#12124a" opacity="0.45"/>
<rect x="84.4" y="326.90" width="525.90" height="1" fill="#1a1a40" opacity="0.55"/>
<path d="M132.60,285.50 C140.50,289.37 150.00,293.66 158.00,295.90 C162.00,296.83 168.00,296.83 172.00,296.32 C180.00,294.88 190.00,291.83 197.20,285.50 Z" fill="#fff" stroke="#151515" stroke-width="1.0" stroke-linejoin="round"/>
<path d="M132.60,327.80 C140.50,323.93 150.00,319.64 158.00,317.40 C162.00,316.47 168.00,316.47 172.00,316.98 C180.00,318.42 190.00,321.47 197.20,327.80 Z" fill="#fff" stroke="#151515" stroke-width="1.0" stroke-linejoin="round"/>
<line x1="131" x2="199" y1="285.70" y2="285.70" stroke="#707070" stroke-width="0.9"/>
<line x1="131" x2="199" y1="327.60" y2="327.60" stroke="#707070" stroke-width="0.9"/>
<g clip-path="url(#clipb2)"><g filter="url(#mapb2)">
<rect x="84.40" y="417.70" width="525.90" height="40.80" fill="#080000"/>
<g filter="url(#b3)">
<rect x="340.00" y="414.70" width="275.30" height="46.80" fill="url(#g33)"/>
</g>
<g filter="url(#b0_7)">
<path d="M146.00,421.00 L152.00,421.70 L157.50,423.20" fill="none" stroke="#2b0000" stroke-width="1.6"/>
<path d="M140.00,457.50 L150.00,452.80 L157.50,450.00" fill="none" stroke="#260000" stroke-width="1.6"/>
<rect x="157.50" y="423.60" width="10.50" height="3.00" fill="url(#g34)"/>
<rect x="167.60" y="423.60" width="1.60" height="5.60" fill="#610000"/>
<rect x="168.00" y="426.30" width="25.00" height="3.20" fill="url(#g35)"/>
<rect x="157.50" y="446.00" width="10.50" height="3.20" fill="url(#g36)"/>
<rect x="167.60" y="443.80" width="1.60" height="5.40" fill="#610000"/>
<rect x="168.00" y="443.80" width="25.00" height="3.20" fill="url(#g37)"/>
</g>
<g filter="url(#b0_8)">
<rect x="191.00" y="425.60" width="161.00" height="3.20" fill="url(#g38)"/>
<rect x="191.00" y="444.40" width="161.00" height="3.20" fill="url(#g39)"/>
</g>
<g filter="url(#b0_8)">
<rect x="371.8" y="417.7" width="3.2" height="3.5" fill="#1c1a00"/>
<rect x="375.0" y="417.7" width="3.2" height="3.5" fill="#291a00"/>
<rect x="378.2" y="417.7" width="6.4" height="3.5" fill="#2b1a00"/>
<rect x="384.6" y="417.7" width="3.2" height="3.5" fill="#2e1a00"/>
<rect x="387.8" y="417.7" width="6.4" height="3.5" fill="#3b1a00"/>
<rect x="394.2" y="417.7" width="3.2" height="3.5" fill="#361a00"/>
<rect x="397.4" y="417.7" width="3.2" height="3.5" fill="#421a00"/>
<rect x="400.6" y="417.7" width="3.2" height="3.5" fill="#3b1a00"/>
<rect x="403.8" y="417.7" width="6.4" height="3.5" fill="#291a00"/>
<rect x="410.2" y="417.7" width="3.2" height="3.5" fill="#2b1a00"/>
<rect x="413.4" y="417.7" width="3.2" height="3.5" fill="#3b1a00"/>
<rect x="416.6" y="417.7" width="3.2" height="3.5" fill="#241a00"/>
<rect x="419.8" y="417.7" width="3.2" height="3.5" fill="#261a00"/>
<rect x="423.0" y="417.7" width="3.2" height="3.5" fill="#2e1a00"/>
<rect x="426.2" y="417.7" width="3.2" height="3.5" fill="#241a00"/>
<rect x="429.4" y="417.7" width="3.2" height="3.5" fill="#291a00"/>
<rect x="432.6" y="417.7" width="6.4" height="3.5" fill="#2e1a00"/>
<rect x="439.0" y="417.7" width="6.4" height="3.5" fill="#1a1a00"/>
<rect x="445.4" y="417.7" width="3.2" height="3.5" fill="#1c1a00"/>
<rect x="448.6" y="417.7" width="3.2" height="3.5" fill="#1a1a00"/>
<rect x="451.8" y="417.7" width="3.2" height="3.5" fill="#211a00"/>
<rect x="455.0" y="417.7" width="3.2" height="3.5" fill="#241a00"/>
<rect x="458.2" y="417.7" width="3.2" height="3.5" fill="#1f1a00"/>
<rect x="461.4" y="417.7" width="3.2" height="3.5" fill="#1a1a00"/>
<rect x="464.6" y="417.7" width="3.2" height="3.5" fill="#241a00"/>
<rect x="467.8" y="417.7" width="3.2" height="3.5" fill="#261a00"/>
<rect x="471.0" y="417.7" width="3.2" height="3.5" fill="#1f1a00"/>
<rect x="355.8" y="421.1" width="3.2" height="3.5" fill="#241a00"/>
<rect x="359.0" y="421.1" width="3.2" height="3.5" fill="#381a00"/>
<rect x="362.2" y="421.1" width="3.2" height="3.5" fill="#421a00"/>
<rect x="365.4" y="421.1" width="3.2" height="3.5" fill="#3d1a00"/>
<rect x="368.6" y="421.1" width="3.2" height="3.5" fill="#521a00"/>
<rect x="371.8" y="421.1" width="3.2" height="3.5" fill="#5c1a00"/>
<rect x="375.0" y="421.1" width="3.2" height="3.5" fill="#4c1a00"/>
<rect x="378.2" y="421.1" width="3.2" height="3.5" fill="#611a00"/>
<rect x="381.4" y="421.1" width="3.2" height="3.5" fill="#571a00"/>
<rect x="384.6" y="421.1" width="3.2" height="3.5" fill="#4f1a00"/>
<rect x="387.8" y="421.1" width="3.2" height="3.5" fill="#751a00"/>
<rect x="391.0" y="421.1" width="3.2" height="3.5" fill="#7a1a00"/>
<rect x="394.2" y="421.1" width="3.2" height="3.5" fill="#661a00"/>
<rect x="397.4" y="421.1" width="3.2" height="3.5" fill="#4f1a00"/>
<rect x="400.6" y="421.1" width="3.2" height="3.5" fill="#571a00"/>
<rect x="403.8" y="421.1" width="6.4" height="3.5" fill="#751a00"/>
<rect x="410.2" y="421.1" width="3.2" height="3.5" fill="#6b1a00"/>
<rect x="413.4" y="421.1" width="3.2" height="3.5" fill="#7a1a00"/>
<rect x="416.6" y="421.1" width="3.2" height="3.5" fill="#5e1a00"/>
<rect x="419.8" y="421.1" width="3.2" height="3.5" fill="#691a00"/>
<rect x="423.0" y="421.1" width="3.2" height="3.5" fill="#541a00"/>
<rect x="426.2" y="421.1" width="3.2" height="3.5" fill="#521a00"/>
<rect x="429.4" y="421.1" width="3.2" height="3.5" fill="#631a00"/>
<rect x="432.6" y="421.1" width="3.2" height="3.5" fill="#701a00"/>
<rect x="435.8" y="421.1" width="3.2" height="3.5" fill="#591a00"/>
<rect x="439.0" y="421.1" width="3.2" height="3.5" fill="#361a00"/>
<rect x="442.2" y="421.1" width="3.2" height="3.5" fill="#301a00"/>
<rect x="445.4" y="421.1" width="3.2" height="3.5" fill="#291a00"/>
<rect x="448.6" y="421.1" width="3.2" height="3.5" fill="#1f1a00"/>
<rect x="451.8" y="421.1" width="3.2" height="3.5" fill="#1c1a00"/>
<rect x="455.0" y="421.1" width="3.2" height="3.5" fill="#1f1a00"/>
<rect x="458.2" y="421.1" width="3.2" height="3.5" fill="#211a00"/>
<rect x="461.4" y="421.1" width="3.2" height="3.5" fill="#1f1a00"/>
<rect x="464.6" y="421.1" width="3.2" height="3.5" fill="#241a00"/>
<rect x="467.8" y="421.1" width="3.2" height="3.5" fill="#211a00"/>
<rect x="343.0" y="424.5" width="3.2" height="3.5" fill="#421a00"/>
<rect x="346.2" y="424.5" width="3.2" height="3.5" fill="#571a00"/>
<rect x="349.4" y="424.5" width="3.2" height="3.5" fill="#6b1a00"/>
<rect x="352.6" y="424.5" width="3.2" height="3.5" fill="#611a00"/>
<rect x="355.8" y="424.5" width="3.2" height="3.5" fill="#591a00"/>
<rect x="359.0" y="424.5" width="3.2" height="3.5" fill="#5c1a00"/>
<rect x="362.2" y="424.5" width="3.2" height="3.5" fill="#591a00"/>
<rect x="365.4" y="424.5" width="3.2" height="3.5" fill="#701a00"/>
<rect x="368.6" y="424.5" width="3.2" height="3.5" fill="#691a00"/>
<rect x="371.8" y="424.5" width="3.2" height="3.5" fill="#781a00"/>
<rect x="375.0" y="424.5" width="3.2" height="3.5" fill="#a31a00"/>
<rect x="378.2" y="424.5" width="3.2" height="3.5" fill="#9e1a00"/>
<rect x="381.4" y="424.5" width="3.2" height="3.5" fill="#8a1a00"/>
<rect x="384.6" y="424.5" width="3.2" height="3.5" fill="#a61a00"/>
<rect x="387.8" y="424.5" width="3.2" height="3.5" fill="#b51a00"/>
<rect x="391.0" y="424.5" width="3.2" height="3.5" fill="#c71a00"/>
<rect x="394.2" y="424.5" width="3.2" height="3.5" fill="#941a00"/>
<rect x="397.4" y="424.5" width="3.2" height="3.5" fill="#b81a00"/>
<rect x="400.6" y="424.5" width="3.2" height="3.5" fill="#b01a00"/>
<rect x="403.8" y="424.5" width="3.2" height="3.5" fill="#961a00"/>
<rect x="407.0" y="424.5" width="3.2" height="3.5" fill="#a31a00"/>
<rect x="410.2" y="424.5" width="3.2" height="3.5" fill="#b01a00"/>
<rect x="413.4" y="424.5" width="3.2" height="3.5" fill="#8f1a00"/>
<rect x="416.6" y="424.5" width="3.2" height="3.5" fill="#a61a00"/>
<rect x="419.8" y="424.5" width="3.2" height="3.5" fill="#9c1a00"/>
<rect x="423.0" y="424.5" width="3.2" height="3.5" fill="#851a00"/>
<rect x="426.2" y="424.5" width="3.2" height="3.5" fill="#8f1a00"/>
<rect x="429.4" y="424.5" width="3.2" height="3.5" fill="#9c1a00"/>
<rect x="432.6" y="424.5" width="3.2" height="3.5" fill="#941a00"/>
<rect x="435.8" y="424.5" width="3.2" height="3.5" fill="#b01a00"/>
<rect x="439.0" y="424.5" width="3.2" height="3.5" fill="#6e1a00"/>
<rect x="442.2" y="424.5" width="3.2" height="3.5" fill="#5c1a00"/>
<rect x="445.4" y="424.5" width="3.2" height="3.5" fill="#521a00"/>
<rect x="448.6" y="424.5" width="3.2" height="3.5" fill="#451a00"/>
<rect x="451.8" y="424.5" width="3.2" height="3.5" fill="#3b1a00"/>
<rect x="455.0" y="424.5" width="3.2" height="3.5" fill="#301a00"/>
<rect x="458.2" y="424.5" width="3.2" height="3.5" fill="#291a00"/>
<rect x="461.4" y="424.5" width="3.2" height="3.5" fill="#1f1a00"/>
<rect x="349.4" y="427.9" width="3.2" height="3.5" fill="#1a1a00"/>
<rect x="352.6" y="427.9" width="3.2" height="3.5" fill="#291a00"/>
<rect x="355.8" y="427.9" width="3.2" height="3.5" fill="#331a00"/>
<rect x="359.0" y="427.9" width="3.2" height="3.5" fill="#361a00"/>
<rect x="362.2" y="427.9" width="3.2" height="3.5" fill="#521a00"/>
<rect x="365.4" y="427.9" width="3.2" height="3.5" fill="#611a00"/>
<rect x="368.6" y="427.9" width="3.2" height="3.5" fill="#5c1a00"/>
<rect x="371.8" y="427.9" width="6.4" height="3.5" fill="#5e1a00"/>
<rect x="378.2" y="427.9" width="3.2" height="3.5" fill="#591a00"/>
<rect x="381.4" y="427.9" width="3.2" height="3.5" fill="#6b1a00"/>
<rect x="384.6" y="427.9" width="3.2" height="3.5" fill="#801a00"/>
<rect x="387.8" y="427.9" width="3.2" height="3.5" fill="#6e1a00"/>
<rect x="391.0" y="427.9" width="3.2" height="3.5" fill="#571a00"/>
<rect x="394.2" y="427.9" width="3.2" height="3.5" fill="#631a00"/>
<rect x="397.4" y="427.9" width="3.2" height="3.5" fill="#7d1a00"/>
<rect x="400.6" y="427.9" width="3.2" height="3.5" fill="#a11a00"/>
<rect x="403.8" y="427.9" width="3.2" height="3.5" fill="#821a00"/>
<rect x="407.0" y="427.9" width="3.2" height="3.5" fill="#801a00"/>
<rect x="410.2" y="427.9" width="3.2" height="3.5" fill="#751a00"/>
<rect x="413.4" y="427.9" width="3.2" height="3.5" fill="#661a00"/>
<rect x="416.6" y="427.9" width="3.2" height="3.5" fill="#871a00"/>
<rect x="419.8" y="427.9" width="3.2" height="3.5" fill="#8a1a00"/>
<rect x="423.0" y="427.9" width="3.2" height="3.5" fill="#961a00"/>
<rect x="426.2" y="427.9" width="3.2" height="3.5" fill="#991a00"/>
<rect x="429.4" y="427.9" width="3.2" height="3.5" fill="#7d1a00"/>
<rect x="432.6" y="427.9" width="3.2" height="3.5" fill="#b51a00"/>
<rect x="435.8" y="427.9" width="3.2" height="3.5" fill="#801a00"/>
<rect x="439.0" y="427.9" width="6.4" height="3.5" fill="#591a00"/>
<rect x="445.4" y="427.9" width="3.2" height="3.5" fill="#801a00"/>
<rect x="448.6" y="427.9" width="3.2" height="3.5" fill="#8f1a00"/>
<rect x="451.8" y="427.9" width="3.2" height="3.5" fill="#851a00"/>
<rect x="455.0" y="427.9" width="3.2" height="3.5" fill="#5e1a00"/>
<rect x="458.2" y="427.9" width="3.2" height="3.5" fill="#661a00"/>
<rect x="461.4" y="427.9" width="3.2" height="3.5" fill="#6e1a00"/>
<rect x="464.6" y="427.9" width="3.2" height="3.5" fill="#4c1a00"/>
<rect x="467.8" y="427.9" width="3.2" height="3.5" fill="#2e1a00"/>
<rect x="368.6" y="431.3" width="3.2" height="3.5" fill="#1f1a00"/>
<rect x="371.8" y="431.3" width="3.2" height="3.5" fill="#211a00"/>
<rect x="375.0" y="431.3" width="3.2" height="3.5" fill="#261a00"/>
<rect x="378.2" y="431.3" width="3.2" height="3.5" fill="#2e1a00"/>
<rect x="381.4" y="431.3" width="3.2" height="3.5" fill="#381a00"/>
<rect x="384.6" y="431.3" width="3.2" height="3.5" fill="#331a00"/>
<rect x="387.8" y="431.3" width="3.2" height="3.5" fill="#361a00"/>
<rect x="391.0" y="431.3" width="3.2" height="3.5" fill="#4a1a00"/>
<rect x="394.2" y="431.3" width="3.2" height="3.5" fill="#401a00"/>
<rect x="397.4" y="431.3" width="3.2" height="3.5" fill="#3b1a00"/>
<rect x="400.6" y="431.3" width="3.2" height="3.5" fill="#361a00"/>
<rect x="403.8" y="431.3" width="3.2" height="3.5" fill="#381a00"/>
<rect x="407.0" y="431.3" width="3.2" height="3.5" fill="#3d1a00"/>
<rect x="410.2" y="431.3" width="3.2" height="3.5" fill="#451a00"/>
<rect x="413.4" y="431.3" width="3.2" height="3.5" fill="#3d1a00"/>
<rect x="416.6" y="431.3" width="3.2" height="3.5" fill="#451a00"/>
<rect x="419.8" y="431.3" width="3.2" height="3.5" fill="#591a00"/>
<rect x="423.0" y="431.3" width="3.2" height="3.5" fill="#4f1a00"/>
<rect x="426.2" y="431.3" width="3.2" height="3.5" fill="#451a00"/>
<rect x="429.4" y="431.3" width="3.2" height="3.5" fill="#5e1a00"/>
<rect x="432.6" y="431.3" width="3.2" height="3.5" fill="#521a00"/>
<rect x="435.8" y="431.3" width="3.2" height="3.5" fill="#4c1a00"/>
<rect x="439.0" y="431.3" width="3.2" height="3.5" fill="#541a00"/>
<rect x="442.2" y="431.3" width="3.2" height="3.5" fill="#571a00"/>
<rect x="445.4" y="431.3" width="3.2" height="3.5" fill="#4a1a00"/>
<rect x="448.6" y="431.3" width="3.2" height="3.5" fill="#571a00"/>
<rect x="451.8" y="431.3" width="3.2" height="3.5" fill="#591a00"/>
<rect x="455.0" y="431.3" width="3.2" height="3.5" fill="#4c1a00"/>
<rect x="458.2" y="431.3" width="3.2" height="3.5" fill="#571a00"/>
<rect x="461.4" y="431.3" width="3.2" height="3.5" fill="#4c1a00"/>
<rect x="464.6" y="431.3" width="3.2" height="3.5" fill="#571a00"/>
<rect x="467.8" y="431.3" width="6.4" height="3.5" fill="#421a00"/>
<rect x="474.2" y="431.3" width="3.2" height="3.5" fill="#401a00"/>
<rect x="477.4" y="431.3" width="3.2" height="3.5" fill="#301a00"/>
<rect x="480.6" y="431.3" width="3.2" height="3.5" fill="#3d1a00"/>
<rect x="483.8" y="431.3" width="3.2" height="3.5" fill="#451a00"/>
<rect x="487.0" y="431.3" width="3.2" height="3.5" fill="#331a00"/>
<rect x="343.0" y="434.7" width="3.2" height="3.5" fill="#401a00"/>
<rect x="346.2" y="434.7" width="3.2" height="3.5" fill="#381a00"/>
<rect x="349.4" y="434.7" width="3.2" height="3.5" fill="#401a00"/>
<rect x="352.6" y="434.7" width="3.2" height="3.5" fill="#301a00"/>
<rect x="355.8" y="434.7" width="3.2" height="3.5" fill="#331a00"/>
<rect x="359.0" y="434.7" width="3.2" height="3.5" fill="#2e1a00"/>
<rect x="362.2" y="434.7" width="3.2" height="3.5" fill="#2b1a00"/>
<rect x="365.4" y="434.7" width="3.2" height="3.5" fill="#361a00"/>
<rect x="368.6" y="434.7" width="6.4" height="3.5" fill="#381a00"/>
<rect x="375.0" y="434.7" width="3.2" height="3.5" fill="#421a00"/>
<rect x="378.2" y="434.7" width="3.2" height="3.5" fill="#301a00"/>
<rect x="381.4" y="434.7" width="3.2" height="3.5" fill="#361a00"/>
<rect x="384.6" y="434.7" width="3.2" height="3.5" fill="#4c1a00"/>
<rect x="387.8" y="434.7" width="3.2" height="3.5" fill="#4f1a00"/>
<rect x="391.0" y="434.7" width="3.2" height="3.5" fill="#611a00"/>
<rect x="394.2" y="434.7" width="3.2" height="3.5" fill="#571a00"/>
<rect x="397.4" y="434.7" width="3.2" height="3.5" fill="#591a00"/>
<rect x="400.6" y="434.7" width="3.2" height="3.5" fill="#4f1a00"/>
<rect x="403.8" y="434.7" width="3.2" height="3.5" fill="#571a00"/>
<rect x="407.0" y="434.7" width="3.2" height="3.5" fill="#6e1a00"/>
<rect x="410.2" y="434.7" width="3.2" height="3.5" fill="#5c1a00"/>
<rect x="413.4" y="434.7" width="3.2" height="3.5" fill="#4a1a00"/>
<rect x="416.6" y="434.7" width="3.2" height="3.5" fill="#4f1a00"/>
<rect x="419.8" y="434.7" width="3.2" height="3.5" fill="#521a00"/>
<rect x="423.0" y="434.7" width="3.2" height="3.5" fill="#691a00"/>
<rect x="426.2" y="434.7" width="3.2" height="3.5" fill="#631a00"/>
<rect x="429.4" y="434.7" width="3.2" height="3.5" fill="#591a00"/>
<rect x="432.6" y="434.7" width="6.4" height="3.5" fill="#751a00"/>
<rect x="439.0" y="434.7" width="3.2" height="3.5" fill="#731a00"/>
<rect x="442.2" y="434.7" width="3.2" height="3.5" fill="#6e1a00"/>
<rect x="445.4" y="434.7" width="3.2" height="3.5" fill="#6b1a00"/>
<rect x="448.6" y="434.7" width="3.2" height="3.5" fill="#731a00"/>
<rect x="451.8" y="434.7" width="3.2" height="3.5" fill="#691a00"/>
<rect x="455.0" y="434.7" width="3.2" height="3.5" fill="#7a1a00"/>
<rect x="458.2" y="434.7" width="3.2" height="3.5" fill="#6b1a00"/>
<rect x="461.4" y="434.7" width="3.2" height="3.5" fill="#661a00"/>
<rect x="464.6" y="434.7" width="3.2" height="3.5" fill="#591a00"/>
<rect x="467.8" y="434.7" width="3.2" height="3.5" fill="#471a00"/>
<rect x="471.0" y="434.7" width="3.2" height="3.5" fill="#401a00"/>
<rect x="474.2" y="434.7" width="3.2" height="3.5" fill="#3b1a00"/>
<rect x="477.4" y="434.7" width="6.4" height="3.5" fill="#3d1a00"/>
<rect x="483.8" y="434.7" width="3.2" height="3.5" fill="#301a00"/>
<rect x="487.0" y="434.7" width="3.2" height="3.5" fill="#2e1a00"/>
<rect x="368.6" y="438.1" width="3.2" height="3.5" fill="#1c1a00"/>
<rect x="371.8" y="438.1" width="3.2" height="3.5" fill="#1f1a00"/>
<rect x="375.0" y="438.1" width="6.4" height="3.5" fill="#2e1a00"/>
<rect x="381.4" y="438.1" width="3.2" height="3.5" fill="#291a00"/>
<rect x="384.6" y="438.1" width="6.4" height="3.5" fill="#2e1a00"/>
<rect x="391.0" y="438.1" width="3.2" height="3.5" fill="#301a00"/>
<rect x="394.2" y="438.1" width="3.2" height="3.5" fill="#381a00"/>
<rect x="397.4" y="438.1" width="3.2" height="3.5" fill="#451a00"/>
<rect x="400.6" y="438.1" width="3.2" height="3.5" fill="#471a00"/>
<rect x="403.8" y="438.1" width="3.2" height="3.5" fill="#401a00"/>
<rect x="407.0" y="438.1" width="3.2" height="3.5" fill="#471a00"/>
<rect x="410.2" y="438.1" width="3.2" height="3.5" fill="#4a1a00"/>
<rect x="413.4" y="438.1" width="3.2" height="3.5" fill="#471a00"/>
<rect x="416.6" y="438.1" width="3.2" height="3.5" fill="#521a00"/>
<rect x="419.8" y="438.1" width="3.2" height="3.5" fill="#4a1a00"/>
<rect x="423.0" y="438.1" width="3.2" height="3.5" fill="#421a00"/>
<rect x="426.2" y="438.1" width="3.2" height="3.5" fill="#521a00"/>
<rect x="429.4" y="438.1" width="3.2" height="3.5" fill="#5e1a00"/>
<rect x="432.6" y="438.1" width="3.2" height="3.5" fill="#6b1a00"/>
<rect x="435.8" y="438.1" width="3.2" height="3.5" fill="#701a00"/>
<rect x="439.0" y="438.1" width="3.2" height="3.5" fill="#4f1a00"/>
<rect x="442.2" y="438.1" width="3.2" height="3.5" fill="#5e1a00"/>
<rect x="445.4" y="438.1" width="3.2" height="3.5" fill="#611a00"/>
<rect x="448.6" y="438.1" width="3.2" height="3.5" fill="#731a00"/>
<rect x="451.8" y="438.1" width="3.2" height="3.5" fill="#801a00"/>
<rect x="455.0" y="438.1" width="3.2" height="3.5" fill="#701a00"/>
<rect x="458.2" y="438.1" width="3.2" height="3.5" fill="#781a00"/>
<rect x="461.4" y="438.1" width="3.2" height="3.5" fill="#821a00"/>
<rect x="464.6" y="438.1" width="3.2" height="3.5" fill="#631a00"/>
<rect x="467.8" y="438.1" width="3.2" height="3.5" fill="#4a1a00"/>
<rect x="471.0" y="438.1" width="3.2" height="3.5" fill="#5c1a00"/>
<rect x="474.2" y="438.1" width="3.2" height="3.5" fill="#591a00"/>
<rect x="477.4" y="438.1" width="3.2" height="3.5" fill="#421a00"/>
<rect x="480.6" y="438.1" width="3.2" height="3.5" fill="#361a00"/>
<rect x="483.8" y="438.1" width="3.2" height="3.5" fill="#301a00"/>
<rect x="487.0" y="438.1" width="3.2" height="3.5" fill="#2e1a00"/>
<rect x="349.4" y="441.5" width="3.2" height="3.5" fill="#1a1a00"/>
<rect x="352.6" y="441.5" width="3.2" height="3.5" fill="#1f1a00"/>
<rect x="355.8" y="441.5" width="3.2" height="3.5" fill="#2e1a00"/>
<rect x="359.0" y="441.5" width="3.2" height="3.5" fill="#3d1a00"/>
<rect x="362.2" y="441.5" width="6.4" height="3.5" fill="#5c1a00"/>
<rect x="368.6" y="441.5" width="3.2" height="3.5" fill="#751a00"/>
<rect x="371.8" y="441.5" width="3.2" height="3.5" fill="#701a00"/>
<rect x="375.0" y="441.5" width="3.2" height="3.5" fill="#5e1a00"/>
<rect x="378.2" y="441.5" width="3.2" height="3.5" fill="#7d1a00"/>
<rect x="381.4" y="441.5" width="3.2" height="3.5" fill="#691a00"/>
<rect x="384.6" y="441.5" width="3.2" height="3.5" fill="#821a00"/>
<rect x="387.8" y="441.5" width="3.2" height="3.5" fill="#6e1a00"/>
<rect x="391.0" y="441.5" width="3.2" height="3.5" fill="#5e1a00"/>
<rect x="394.2" y="441.5" width="3.2" height="3.5" fill="#701a00"/>
<rect x="397.4" y="441.5" width="3.2" height="3.5" fill="#801a00"/>
<rect x="400.6" y="441.5" width="3.2" height="3.5" fill="#6e1a00"/>
<rect x="403.8" y="441.5" width="3.2" height="3.5" fill="#5c1a00"/>
<rect x="407.0" y="441.5" width="3.2" height="3.5" fill="#591a00"/>
<rect x="410.2" y="441.5" width="3.2" height="3.5" fill="#7a1a00"/>
<rect x="413.4" y="441.5" width="3.2" height="3.5" fill="#691a00"/>
<rect x="416.6" y="441.5" width="3.2" height="3.5" fill="#631a00"/>
<rect x="419.8" y="441.5" width="3.2" height="3.5" fill="#7a1a00"/>
<rect x="423.0" y="441.5" width="3.2" height="3.5" fill="#731a00"/>
<rect x="426.2" y="441.5" width="3.2" height="3.5" fill="#631a00"/>
<rect x="429.4" y="441.5" width="3.2" height="3.5" fill="#851a00"/>
<rect x="432.6" y="441.5" width="3.2" height="3.5" fill="#8a1a00"/>
<rect x="435.8" y="441.5" width="3.2" height="3.5" fill="#a11a00"/>
<rect x="439.0" y="441.5" width="3.2" height="3.5" fill="#631a00"/>
<rect x="442.2" y="441.5" width="3.2" height="3.5" fill="#691a00"/>
<rect x="445.4" y="441.5" width="3.2" height="3.5" fill="#8a1a00"/>
<rect x="448.6" y="441.5" width="3.2" height="3.5" fill="#911a00"/>
<rect x="451.8" y="441.5" width="3.2" height="3.5" fill="#7d1a00"/>
<rect x="455.0" y="441.5" width="3.2" height="3.5" fill="#801a00"/>
<rect x="458.2" y="441.5" width="3.2" height="3.5" fill="#6e1a00"/>
<rect x="461.4" y="441.5" width="3.2" height="3.5" fill="#4f1a00"/>
<rect x="464.6" y="441.5" width="3.2" height="3.5" fill="#4a1a00"/>
<rect x="467.8" y="441.5" width="3.2" height="3.5" fill="#381a00"/>
<rect x="471.0" y="441.5" width="3.2" height="3.5" fill="#261a00"/>
<rect x="474.2" y="441.5" width="3.2" height="3.5" fill="#1c1a00"/>
<rect x="343.0" y="444.9" width="3.2" height="3.5" fill="#3b1a00"/>
<rect x="346.2" y="444.9" width="3.2" height="3.5" fill="#3d1a00"/>
<rect x="349.4" y="444.9" width="3.2" height="3.5" fill="#4c1a00"/>
<rect x="352.6" y="444.9" width="3.2" height="3.5" fill="#521a00"/>
<rect x="355.8" y="444.9" width="3.2" height="3.5" fill="#4f1a00"/>
<rect x="359.0" y="444.9" width="3.2" height="3.5" fill="#541a00"/>
<rect x="362.2" y="444.9" width="3.2" height="3.5" fill="#4f1a00"/>
<rect x="365.4" y="444.9" width="3.2" height="3.5" fill="#611a00"/>
<rect x="368.6" y="444.9" width="3.2" height="3.5" fill="#851a00"/>
<rect x="371.8" y="444.9" width="3.2" height="3.5" fill="#9e1a00"/>
<rect x="375.0" y="444.9" width="3.2" height="3.5" fill="#6e1a00"/>
<rect x="378.2" y="444.9" width="3.2" height="3.5" fill="#7d1a00"/>
<rect x="381.4" y="444.9" width="3.2" height="3.5" fill="#6b1a00"/>
<rect x="384.6" y="444.9" width="3.2" height="3.5" fill="#781a00"/>
<rect x="387.8" y="444.9" width="3.2" height="3.5" fill="#8c1a00"/>
<rect x="391.0" y="444.9" width="3.2" height="3.5" fill="#8f1a00"/>
<rect x="394.2" y="444.9" width="3.2" height="3.5" fill="#a31a00"/>
<rect x="397.4" y="444.9" width="3.2" height="3.5" fill="#871a00"/>
<rect x="400.6" y="444.9" width="3.2" height="3.5" fill="#9e1a00"/>
<rect x="403.8" y="444.9" width="3.2" height="3.5" fill="#7a1a00"/>
<rect x="407.0" y="444.9" width="3.2" height="3.5" fill="#8c1a00"/>
<rect x="410.2" y="444.9" width="3.2" height="3.5" fill="#a31a00"/>
<rect x="413.4" y="444.9" width="3.2" height="3.5" fill="#991a00"/>
<rect x="416.6" y="444.9" width="3.2" height="3.5" fill="#941a00"/>
<rect x="419.8" y="444.9" width="3.2" height="3.5" fill="#991a00"/>
<rect x="423.0" y="444.9" width="3.2" height="3.5" fill="#751a00"/>
<rect x="426.2" y="444.9" width="3.2" height="3.5" fill="#7d1a00"/>
<rect x="429.4" y="444.9" width="3.2" height="3.5" fill="#5e1a00"/>
<rect x="432.6" y="444.9" width="3.2" height="3.5" fill="#611a00"/>
<rect x="435.8" y="444.9" width="3.2" height="3.5" fill="#701a00"/>
<rect x="439.0" y="444.9" width="3.2" height="3.5" fill="#661a00"/>
<rect x="442.2" y="444.9" width="3.2" height="3.5" fill="#7d1a00"/>
<rect x="445.4" y="444.9" width="6.4" height="3.5" fill="#5c1a00"/>
<rect x="451.8" y="444.9" width="3.2" height="3.5" fill="#471a00"/>
<rect x="455.0" y="444.9" width="3.2" height="3.5" fill="#4f1a00"/>
<rect x="458.2" y="444.9" width="3.2" height="3.5" fill="#2b1a00"/>
<rect x="461.4" y="444.9" width="3.2" height="3.5" fill="#1a1a00"/>
<rect x="349.4" y="448.3" width="3.2" height="3.5" fill="#1c1a00"/>
<rect x="352.6" y="448.3" width="6.4" height="3.5" fill="#241a00"/>
<rect x="359.0" y="448.3" width="3.2" height="3.5" fill="#3b1a00"/>
<rect x="362.2" y="448.3" width="3.2" height="3.5" fill="#381a00"/>
<rect x="365.4" y="448.3" width="3.2" height="3.5" fill="#4f1a00"/>
<rect x="368.6" y="448.3" width="3.2" height="3.5" fill="#4c1a00"/>
<rect x="371.8" y="448.3" width="3.2" height="3.5" fill="#541a00"/>
<rect x="375.0" y="448.3" width="3.2" height="3.5" fill="#4f1a00"/>
<rect x="378.2" y="448.3" width="3.2" height="3.5" fill="#541a00"/>
<rect x="381.4" y="448.3" width="6.4" height="3.5" fill="#591a00"/>
<rect x="387.8" y="448.3" width="3.2" height="3.5" fill="#4a1a00"/>
<rect x="391.0" y="448.3" width="3.2" height="3.5" fill="#521a00"/>
<rect x="394.2" y="448.3" width="3.2" height="3.5" fill="#6b1a00"/>
<rect x="397.4" y="448.3" width="3.2" height="3.5" fill="#7d1a00"/>
<rect x="400.6" y="448.3" width="3.2" height="3.5" fill="#801a00"/>
<rect x="403.8" y="448.3" width="3.2" height="3.5" fill="#541a00"/>
<rect x="407.0" y="448.3" width="3.2" height="3.5" fill="#4f1a00"/>
<rect x="410.2" y="448.3" width="3.2" height="3.5" fill="#541a00"/>
<rect x="413.4" y="448.3" width="3.2" height="3.5" fill="#5c1a00"/>
<rect x="416.6" y="448.3" width="3.2" height="3.5" fill="#571a00"/>
<rect x="419.8" y="448.3" width="3.2" height="3.5" fill="#4f1a00"/>
<rect x="423.0" y="448.3" width="3.2" height="3.5" fill="#4c1a00"/>
<rect x="426.2" y="448.3" width="3.2" height="3.5" fill="#3d1a00"/>
<rect x="429.4" y="448.3" width="3.2" height="3.5" fill="#4a1a00"/>
<rect x="432.6" y="448.3" width="3.2" height="3.5" fill="#421a00"/>
<rect x="435.8" y="448.3" width="3.2" height="3.5" fill="#4c1a00"/>
<rect x="439.0" y="448.3" width="3.2" height="3.5" fill="#401a00"/>
<rect x="442.2" y="448.3" width="3.2" height="3.5" fill="#3b1a00"/>
<rect x="445.4" y="448.3" width="3.2" height="3.5" fill="#261a00"/>
<rect x="448.6" y="448.3" width="3.2" height="3.5" fill="#1c1a00"/>
<rect x="375.0" y="451.7" width="3.2" height="3.5" fill="#261a00"/>
<rect x="378.2" y="451.7" width="3.2" height="3.5" fill="#2b1a00"/>
<rect x="381.4" y="451.7" width="6.4" height="3.5" fill="#211a00"/>
<rect x="387.8" y="451.7" width="3.2" height="3.5" fill="#291a00"/>
<rect x="391.0" y="451.7" width="3.2" height="3.5" fill="#301a00"/>
<rect x="394.2" y="451.7" width="3.2" height="3.5" fill="#291a00"/>
<rect x="397.4" y="451.7" width="3.2" height="3.5" fill="#361a00"/>
<rect x="400.6" y="451.7" width="3.2" height="3.5" fill="#2e1a00"/>
<rect x="403.8" y="451.7" width="3.2" height="3.5" fill="#301a00"/>
<rect x="407.0" y="451.7" width="3.2" height="3.5" fill="#291a00"/>
<rect x="410.2" y="451.7" width="3.2" height="3.5" fill="#241a00"/>
<rect x="413.4" y="451.7" width="3.2" height="3.5" fill="#1f1a00"/>
<rect x="416.6" y="451.7" width="3.2" height="3.5" fill="#2e1a00"/>
<rect x="419.8" y="451.7" width="3.2" height="3.5" fill="#301a00"/>
<rect x="423.0" y="451.7" width="9.6" height="3.5" fill="#261a00"/>
<rect x="439.0" y="451.7" width="3.2" height="3.5" fill="#1a1a00"/>
</g>
<g filter="url(#b0_9)">
<ellipse cx="371.00" cy="427.80" rx="7.00" ry="2.00" fill="#ad0000"/>
<ellipse cx="372.00" cy="427.90" rx="4.50" ry="1.40" fill="#cc0000"/>
<ellipse cx="373.00" cy="427.90" rx="2.50" ry="1.00" fill="#e00000"/>
<ellipse cx="401.00" cy="427.40" rx="5.50" ry="2.20" fill="#b20000"/>
<ellipse cx="402.00" cy="427.40" rx="3.20" ry="1.50" fill="#d60000"/>
<ellipse cx="402.00" cy="427.40" rx="1.80" ry="1.00" fill="#e60000"/>
<ellipse cx="386.00" cy="425.00" rx="3.00" ry="3.50" fill="#850000"/>
<ellipse cx="403.00" cy="447.00" rx="5.00" ry="2.00" fill="#9e0000"/>
<ellipse cx="403.00" cy="447.00" rx="2.50" ry="1.20" fill="#b20000"/>
</g>
</g></g>
<rect x="84.4" y="417.7" width="525.90" height="1" fill="#12124a" opacity="0.45"/>
<rect x="84.4" y="457.50" width="525.90" height="1" fill="#1a1a40" opacity="0.55"/>
<g clip-path="url(#clipc1)"><g filter="url(#mapc1)">
<rect x="84.40" y="548.20" width="525.90" height="42.70" fill="#080000"/>
<g filter="url(#b3)">
<rect x="330.00" y="545.20" width="285.30" height="48.70" fill="url(#g40)"/>
</g>
<g filter="url(#b1_4)">
<rect x="255.00" y="556.45" width="97.00" height="2.50" fill="url(#g41)"/>
<rect x="255.00" y="581.05" width="87.00" height="2.50" fill="url(#g42)"/>
</g>
<g filter="url(#b0_85)">
<rect x="372.0" y="550.2" width="2.0" height="2.1" fill="#321a00"/>
<rect x="386.0" y="550.2" width="4.0" height="2.1" fill="#361a00"/>
<rect x="394.0" y="550.2" width="2.0" height="2.1" fill="#361a00"/>
<rect x="396.0" y="550.2" width="2.0" height="2.1" fill="#2e1a00"/>
<rect x="398.0" y="550.2" width="2.0" height="2.1" fill="#361a00"/>
<rect x="400.0" y="550.2" width="2.0" height="2.1" fill="#391a00"/>
<rect x="402.0" y="550.2" width="2.0" height="2.1" fill="#321a00"/>
<rect x="404.0" y="550.2" width="2.0" height="2.1" fill="#2e1a00"/>
<rect x="406.0" y="550.2" width="2.0" height="2.1" fill="#321a00"/>
<rect x="350.0" y="552.3" width="2.0" height="2.1" fill="#321a00"/>
<rect x="352.0" y="552.3" width="4.0" height="2.1" fill="#411a00"/>
<rect x="356.0" y="552.3" width="2.0" height="2.1" fill="#491a00"/>
<rect x="358.0" y="552.3" width="2.0" height="2.1" fill="#391a00"/>
<rect x="360.0" y="552.3" width="2.0" height="2.1" fill="#361a00"/>
<rect x="362.0" y="552.3" width="2.0" height="2.1" fill="#451a00"/>
<rect x="364.0" y="552.3" width="2.0" height="2.1" fill="#581a00"/>
<rect x="366.0" y="552.3" width="2.0" height="2.1" fill="#491a00"/>
<rect x="368.0" y="552.3" width="2.0" height="2.1" fill="#321a00"/>
<rect x="370.0" y="552.3" width="2.0" height="2.1" fill="#361a00"/>
<rect x="372.0" y="552.3" width="2.0" height="2.1" fill="#321a00"/>
<rect x="374.0" y="552.3" width="2.0" height="2.1" fill="#5c1a00"/>
<rect x="376.0" y="552.3" width="4.0" height="2.1" fill="#321a00"/>
<rect x="380.0" y="552.3" width="2.0" height="2.1" fill="#451a00"/>
<rect x="382.0" y="552.3" width="2.0" height="2.1" fill="#501a00"/>
<rect x="384.0" y="552.3" width="2.0" height="2.1" fill="#4c1a00"/>
<rect x="386.0" y="552.3" width="2.0" height="2.1" fill="#391a00"/>
<rect x="388.0" y="552.3" width="2.0" height="2.1" fill="#321a00"/>
<rect x="390.0" y="552.3" width="4.0" height="2.1" fill="#451a00"/>
<rect x="394.0" y="552.3" width="2.0" height="2.1" fill="#601a00"/>
<rect x="396.0" y="552.3" width="2.0" height="2.1" fill="#411a00"/>
<rect x="398.0" y="552.3" width="2.0" height="2.1" fill="#601a00"/>
<rect x="400.0" y="552.3" width="2.0" height="2.1" fill="#3d1a00"/>
<rect x="402.0" y="552.3" width="2.0" height="2.1" fill="#361a00"/>
<rect x="404.0" y="552.3" width="2.0" height="2.1" fill="#391a00"/>
<rect x="406.0" y="552.3" width="2.0" height="2.1" fill="#581a00"/>
<rect x="408.0" y="552.3" width="2.0" height="2.1" fill="#5c1a00"/>
<rect x="410.0" y="552.3" width="2.0" height="2.1" fill="#451a00"/>
<rect x="412.0" y="552.3" width="2.0" height="2.1" fill="#321a00"/>
<rect x="416.0" y="552.3" width="2.0" height="2.1" fill="#361a00"/>
<rect x="418.0" y="552.3" width="2.0" height="2.1" fill="#391a00"/>
<rect x="344.0" y="554.3" width="2.0" height="2.1" fill="#2e1a00"/>
<rect x="346.0" y="554.3" width="2.0" height="2.1" fill="#491a00"/>
<rect x="348.0" y="554.3" width="2.0" height="2.1" fill="#581a00"/>
<rect x="350.0" y="554.3" width="2.0" height="2.1" fill="#541a00"/>
<rect x="352.0" y="554.3" width="2.0" height="2.1" fill="#451a00"/>
<rect x="354.0" y="554.3" width="2.0" height="2.1" fill="#491a00"/>
<rect x="356.0" y="554.3" width="2.0" height="2.1" fill="#6b1a00"/>
<rect x="358.0" y="554.3" width="2.0" height="2.1" fill="#6f1a00"/>
<rect x="360.0" y="554.3" width="2.0" height="2.1" fill="#821a00"/>
<rect x="362.0" y="554.3" width="2.0" height="2.1" fill="#771a00"/>
<rect x="364.0" y="554.3" width="2.0" height="2.1" fill="#731a00"/>
<rect x="366.0" y="554.3" width="2.0" height="2.1" fill="#911a00"/>
<rect x="368.0" y="554.3" width="2.0" height="2.1" fill="#991a00"/>
<rect x="370.0" y="554.3" width="2.0" height="2.1" fill="#541a00"/>
<rect x="372.0" y="554.3" width="2.0" height="2.1" fill="#631a00"/>
<rect x="374.0" y="554.3" width="2.0" height="2.1" fill="#541a00"/>
<rect x="376.0" y="554.3" width="2.0" height="2.1" fill="#4c1a00"/>
<rect x="378.0" y="554.3" width="2.0" height="2.1" fill="#631a00"/>
<rect x="380.0" y="554.3" width="2.0" height="2.1" fill="#6b1a00"/>
<rect x="382.0" y="554.3" width="2.0" height="2.1" fill="#581a00"/>
<rect x="384.0" y="554.3" width="2.0" height="2.1" fill="#5c1a00"/>
<rect x="386.0" y="554.3" width="2.0" height="2.1" fill="#6f1a00"/>
<rect x="388.0" y="554.3" width="2.0" height="2.1" fill="#6b1a00"/>
<rect x="390.0" y="554.3" width="2.0" height="2.1" fill="#541a00"/>
<rect x="392.0" y="554.3" width="2.0" height="2.1" fill="#361a00"/>
<rect x="394.0" y="554.3" width="2.0" height="2.1" fill="#411a00"/>
<rect x="396.0" y="554.3" width="4.0" height="2.1" fill="#451a00"/>
<rect x="400.0" y="554.3" width="2.0" height="2.1" fill="#601a00"/>
<rect x="402.0" y="554.3" width="2.0" height="2.1" fill="#671a00"/>
<rect x="404.0" y="554.3" width="2.0" height="2.1" fill="#991a00"/>
<rect x="406.0" y="554.3" width="2.0" height="2.1" fill="#a41a00"/>
<rect x="408.0" y="554.3" width="2.0" height="2.1" fill="#991a00"/>
<rect x="410.0" y="554.3" width="2.0" height="2.1" fill="#7a1a00"/>
<rect x="412.0" y="554.3" width="2.0" height="2.1" fill="#4c1a00"/>
<rect x="414.0" y="554.3" width="2.0" height="2.1" fill="#6b1a00"/>
<rect x="416.0" y="554.3" width="2.0" height="2.1" fill="#391a00"/>
<rect x="418.0" y="554.3" width="2.0" height="2.1" fill="#581a00"/>
<rect x="420.0" y="554.3" width="2.0" height="2.1" fill="#671a00"/>
<rect x="422.0" y="554.3" width="4.0" height="2.1" fill="#3d1a00"/>
<rect x="426.0" y="554.3" width="2.0" height="2.1" fill="#2e1a00"/>
<rect x="338.0" y="556.3" width="2.0" height="2.1" fill="#2e1a00"/>
<rect x="340.0" y="556.3" width="2.0" height="2.1" fill="#321a00"/>
<rect x="342.0" y="556.3" width="4.0" height="2.1" fill="#361a00"/>
<rect x="346.0" y="556.3" width="2.0" height="2.1" fill="#411a00"/>
<rect x="348.0" y="556.3" width="2.0" height="2.1" fill="#7a1a00"/>
<rect x="350.0" y="556.3" width="2.0" height="2.1" fill="#631a00"/>
<rect x="352.0" y="556.3" width="2.0" height="2.1" fill="#6b1a00"/>
<rect x="354.0" y="556.3" width="2.0" height="2.1" fill="#a81a00"/>
<rect x="356.0" y="556.3" width="2.0" height="2.1" fill="#771a00"/>
<rect x="358.0" y="556.3" width="2.0" height="2.1" fill="#7e1a00"/>
<rect x="360.0" y="556.3" width="4.0" height="2.1" fill="#911a00"/>
<rect x="364.0" y="556.3" width="2.0" height="2.1" fill="#9d1a00"/>
<rect x="366.0" y="556.3" width="2.0" height="2.1" fill="#a41a00"/>
<rect x="368.0" y="556.3" width="2.0" height="2.1" fill="#8e1a00"/>
<rect x="370.0" y="556.3" width="2.0" height="2.1" fill="#bf1a00"/>
<rect x="372.0" y="556.3" width="2.0" height="2.1" fill="#e21a00"/>
<rect x="374.0" y="556.3" width="2.0" height="2.1" fill="#9d1a00"/>
<rect x="376.0" y="556.3" width="2.0" height="2.1" fill="#6f1a00"/>
<rect x="378.0" y="556.3" width="2.0" height="2.1" fill="#9d1a00"/>
<rect x="380.0" y="556.3" width="2.0" height="2.1" fill="#991a00"/>
<rect x="382.0" y="556.3" width="2.0" height="2.1" fill="#771a00"/>
<rect x="384.0" y="556.3" width="2.0" height="2.1" fill="#6f1a00"/>
<rect x="386.0" y="556.3" width="2.0" height="2.1" fill="#821a00"/>
<rect x="388.0" y="556.3" width="2.0" height="2.1" fill="#991a00"/>
<rect x="390.0" y="556.3" width="2.0" height="2.1" fill="#a41a00"/>
<rect x="392.0" y="556.3" width="2.0" height="2.1" fill="#671a00"/>
<rect x="394.0" y="556.3" width="2.0" height="2.1" fill="#a11a00"/>
<rect x="396.0" y="556.3" width="2.0" height="2.1" fill="#991a00"/>
<rect x="398.0" y="556.3" width="2.0" height="2.1" fill="#a81a00"/>
<rect x="400.0" y="556.3" width="2.0" height="2.1" fill="#ac1a00"/>
<rect x="402.0" y="556.3" width="4.0" height="2.1" fill="#861a00"/>
<rect x="406.0" y="556.3" width="2.0" height="2.1" fill="#7a1a00"/>
<rect x="408.0" y="556.3" width="2.0" height="2.1" fill="#671a00"/>
<rect x="410.0" y="556.3" width="2.0" height="2.1" fill="#601a00"/>
<rect x="412.0" y="556.3" width="2.0" height="2.1" fill="#671a00"/>
<rect x="414.0" y="556.3" width="2.0" height="2.1" fill="#6f1a00"/>
<rect x="416.0" y="556.3" width="2.0" height="2.1" fill="#501a00"/>
<rect x="418.0" y="556.3" width="2.0" height="2.1" fill="#731a00"/>
<rect x="420.0" y="556.3" width="4.0" height="2.1" fill="#6b1a00"/>
<rect x="424.0" y="556.3" width="2.0" height="2.1" fill="#4c1a00"/>
<rect x="426.0" y="556.3" width="4.0" height="2.1" fill="#541a00"/>
<rect x="430.0" y="556.3" width="2.0" height="2.1" fill="#451a00"/>
<rect x="432.0" y="556.3" width="2.0" height="2.1" fill="#2e1a00"/>
<rect x="344.0" y="558.4" width="2.0" height="2.1" fill="#2e1a00"/>
<rect x="346.0" y="558.4" width="2.0" height="2.1" fill="#361a00"/>
<rect x="348.0" y="558.4" width="2.0" height="2.1" fill="#631a00"/>
<rect x="350.0" y="558.4" width="2.0" height="2.1" fill="#4c1a00"/>
<rect x="352.0" y="558.4" width="2.0" height="2.1" fill="#581a00"/>
<rect x="354.0" y="558.4" width="2.0" height="2.1" fill="#731a00"/>
<rect x="356.0" y="558.4" width="2.0" height="2.1" fill="#411a00"/>
<rect x="358.0" y="558.4" width="2.0" height="2.1" fill="#581a00"/>
<rect x="360.0" y="558.4" width="2.0" height="2.1" fill="#6f1a00"/>
<rect x="362.0" y="558.4" width="2.0" height="2.1" fill="#7e1a00"/>
<rect x="364.0" y="558.4" width="2.0" height="2.1" fill="#861a00"/>
<rect x="366.0" y="558.4" width="2.0" height="2.1" fill="#911a00"/>
<rect x="368.0" y="558.4" width="4.0" height="2.1" fill="#9d1a00"/>
<rect x="372.0" y="558.4" width="2.0" height="2.1" fill="#da1a00"/>
<rect x="374.0" y="558.4" width="2.0" height="2.1" fill="#a41a00"/>
<rect x="376.0" y="558.4" width="2.0" height="2.1" fill="#6b1a00"/>
<rect x="378.0" y="558.4" width="2.0" height="2.1" fill="#731a00"/>
<rect x="380.0" y="558.4" width="2.0" height="2.1" fill="#7a1a00"/>
<rect x="382.0" y="558.4" width="2.0" height="2.1" fill="#731a00"/>
<rect x="384.0" y="558.4" width="2.0" height="2.1" fill="#5c1a00"/>
<rect x="386.0" y="558.4" width="2.0" height="2.1" fill="#7e1a00"/>
<rect x="388.0" y="558.4" width="2.0" height="2.1" fill="#b01a00"/>
<rect x="390.0" y="558.4" width="2.0" height="2.1" fill="#a41a00"/>
<rect x="392.0" y="558.4" width="2.0" height="2.1" fill="#b81a00"/>
<rect x="394.0" y="558.4" width="2.0" height="2.1" fill="#a11a00"/>
<rect x="396.0" y="558.4" width="2.0" height="2.1" fill="#771a00"/>
<rect x="398.0" y="558.4" width="2.0" height="2.1" fill="#821a00"/>
<rect x="400.0" y="558.4" width="2.0" height="2.1" fill="#b41a00"/>
<rect x="402.0" y="558.4" width="2.0" height="2.1" fill="#bf1a00"/>
<rect x="404.0" y="558.4" width="2.0" height="2.1" fill="#bb1a00"/>
<rect x="406.0" y="558.4" width="2.0" height="2.1" fill="#9d1a00"/>
<rect x="408.0" y="558.4" width="2.0" height="2.1" fill="#861a00"/>
<rect x="410.0" y="558.4" width="2.0" height="2.1" fill="#6b1a00"/>
<rect x="412.0" y="558.4" width="2.0" height="2.1" fill="#411a00"/>
<rect x="414.0" y="558.4" width="2.0" height="2.1" fill="#631a00"/>
<rect x="416.0" y="558.4" width="4.0" height="2.1" fill="#6b1a00"/>
<rect x="420.0" y="558.4" width="2.0" height="2.1" fill="#4c1a00"/>
<rect x="422.0" y="558.4" width="2.0" height="2.1" fill="#2e1a00"/>
<rect x="424.0" y="558.4" width="2.0" height="2.1" fill="#3d1a00"/>
<rect x="426.0" y="558.4" width="2.0" height="2.1" fill="#391a00"/>
<rect x="348.0" y="560.4" width="2.0" height="2.1" fill="#3d1a00"/>
<rect x="350.0" y="560.4" width="2.0" height="2.1" fill="#541a00"/>
<rect x="352.0" y="560.4" width="2.0" height="2.1" fill="#411a00"/>
<rect x="354.0" y="560.4" width="4.0" height="2.1" fill="#541a00"/>
<rect x="358.0" y="560.4" width="2.0" height="2.1" fill="#321a00"/>
<rect x="360.0" y="560.4" width="2.0" height="2.1" fill="#501a00"/>
<rect x="362.0" y="560.4" width="2.0" height="2.1" fill="#671a00"/>
<rect x="364.0" y="560.4" width="2.0" height="2.1" fill="#731a00"/>
<rect x="366.0" y="560.4" width="4.0" height="2.1" fill="#821a00"/>
<rect x="370.0" y="560.4" width="2.0" height="2.1" fill="#5c1a00"/>
<rect x="372.0" y="560.4" width="2.0" height="2.1" fill="#731a00"/>
<rect x="374.0" y="560.4" width="2.0" height="2.1" fill="#671a00"/>
<rect x="376.0" y="560.4" width="2.0" height="2.1" fill="#821a00"/>
<rect x="378.0" y="560.4" width="2.0" height="2.1" fill="#7a1a00"/>
<rect x="380.0" y="560.4" width="2.0" height="2.1" fill="#731a00"/>
<rect x="382.0" y="560.4" width="2.0" height="2.1" fill="#5c1a00"/>
<rect x="384.0" y="560.4" width="2.0" height="2.1" fill="#541a00"/>
<rect x="386.0" y="560.4" width="2.0" height="2.1" fill="#5c1a00"/>
<rect x="388.0" y="560.4" width="4.0" height="2.1" fill="#6f1a00"/>
<rect x="392.0" y="560.4" width="4.0" height="2.1" fill="#4c1a00"/>
<rect x="396.0" y="560.4" width="2.0" height="2.1" fill="#7a1a00"/>
<rect x="398.0" y="560.4" width="2.0" height="2.1" fill="#631a00"/>
<rect x="400.0" y="560.4" width="2.0" height="2.1" fill="#821a00"/>
<rect x="402.0" y="560.4" width="2.0" height="2.1" fill="#631a00"/>
<rect x="404.0" y="560.4" width="2.0" height="2.1" fill="#731a00"/>
<rect x="406.0" y="560.4" width="2.0" height="2.1" fill="#631a00"/>
<rect x="408.0" y="560.4" width="2.0" height="2.1" fill="#541a00"/>
<rect x="410.0" y="560.4" width="2.0" height="2.1" fill="#491a00"/>
<rect x="412.0" y="560.4" width="2.0" height="2.1" fill="#361a00"/>
<rect x="414.0" y="560.4" width="2.0" height="2.1" fill="#391a00"/>
<rect x="416.0" y="560.4" width="2.0" height="2.1" fill="#321a00"/>
<rect x="418.0" y="560.4" width="2.0" height="2.1" fill="#2e1a00"/>
<rect x="360.0" y="562.4" width="2.0" height="2.1" fill="#3d1a00"/>
<rect x="362.0" y="562.4" width="2.0" height="2.1" fill="#391a00"/>
<rect x="364.0" y="562.4" width="2.0" height="2.1" fill="#2e1a00"/>
<rect x="366.0" y="562.4" width="2.0" height="2.1" fill="#3d1a00"/>
<rect x="368.0" y="562.4" width="2.0" height="2.1" fill="#541a00"/>
<rect x="370.0" y="562.4" width="2.0" height="2.1" fill="#391a00"/>
<rect x="372.0" y="562.4" width="2.0" height="2.1" fill="#731a00"/>
<rect x="374.0" y="562.4" width="4.0" height="2.1" fill="#491a00"/>
<rect x="378.0" y="562.4" width="2.0" height="2.1" fill="#631a00"/>
<rect x="380.0" y="562.4" width="2.0" height="2.1" fill="#411a00"/>
<rect x="382.0" y="562.4" width="2.0" height="2.1" fill="#2e1a00"/>
<rect x="384.0" y="562.4" width="4.0" height="2.1" fill="#361a00"/>
<rect x="390.0" y="562.4" width="2.0" height="2.1" fill="#2e1a00"/>
<rect x="396.0" y="562.4" width="2.0" height="2.1" fill="#391a00"/>
<rect x="398.0" y="562.4" width="2.0" height="2.1" fill="#3d1a00"/>
<rect x="400.0" y="562.4" width="2.0" height="2.1" fill="#491a00"/>
<rect x="404.0" y="562.4" width="2.0" height="2.1" fill="#391a00"/>
<rect x="416.0" y="562.4" width="2.0" height="2.1" fill="#2e1a00"/>
<rect x="420.0" y="562.4" width="2.0" height="2.1" fill="#2e1a00"/>
<rect x="434.0" y="562.4" width="4.0" height="2.1" fill="#321a00"/>
<rect x="440.0" y="562.4" width="2.0" height="2.1" fill="#2e1a00"/>
<rect x="442.0" y="562.4" width="2.0" height="2.1" fill="#391a00"/>
<rect x="456.0" y="562.4" width="2.0" height="2.1" fill="#2e1a00"/>
<rect x="368.0" y="564.5" width="4.0" height="2.1" fill="#321a00"/>
<rect x="374.0" y="564.5" width="2.0" height="2.1" fill="#411a00"/>
<rect x="376.0" y="564.5" width="2.0" height="2.1" fill="#2e1a00"/>
<rect x="390.0" y="564.5" width="2.0" height="2.1" fill="#2e1a00"/>
<rect x="392.0" y="564.5" width="2.0" height="2.1" fill="#391a00"/>
<rect x="394.0" y="564.5" width="2.0" height="2.1" fill="#321a00"/>
<rect x="412.0" y="564.5" width="2.0" height="2.1" fill="#2e1a00"/>
<rect x="418.0" y="564.5" width="2.0" height="2.1" fill="#491a00"/>
<rect x="420.0" y="564.5" width="4.0" height="2.1" fill="#361a00"/>
<rect x="424.0" y="564.5" width="8.1" height="2.1" fill="#3d1a00"/>
<rect x="432.0" y="564.5" width="4.0" height="2.1" fill="#361a00"/>
<rect x="436.0" y="564.5" width="2.0" height="2.1" fill="#391a00"/>
<rect x="438.0" y="564.5" width="2.0" height="2.1" fill="#2e1a00"/>
<rect x="440.0" y="564.5" width="2.0" height="2.1" fill="#361a00"/>
<rect x="442.0" y="564.5" width="2.0" height="2.1" fill="#391a00"/>
<rect x="444.0" y="564.5" width="2.0" height="2.1" fill="#321a00"/>
<rect x="446.0" y="564.5" width="2.0" height="2.1" fill="#391a00"/>
<rect x="448.0" y="564.5" width="4.0" height="2.1" fill="#361a00"/>
<rect x="452.0" y="564.5" width="2.0" height="2.1" fill="#321a00"/>
<rect x="458.0" y="564.5" width="2.0" height="2.1" fill="#361a00"/>
<rect x="460.0" y="564.5" width="2.0" height="2.1" fill="#391a00"/>
<rect x="404.0" y="566.5" width="4.0" height="2.1" fill="#321a00"/>
<rect x="408.0" y="566.5" width="2.0" height="2.1" fill="#361a00"/>
<rect x="410.0" y="566.5" width="2.0" height="2.1" fill="#3d1a00"/>
<rect x="412.0" y="566.5" width="2.0" height="2.1" fill="#451a00"/>
<rect x="414.0" y="566.5" width="2.0" height="2.1" fill="#321a00"/>
<rect x="416.0" y="566.5" width="2.0" height="2.1" fill="#2e1a00"/>
<rect x="418.0" y="566.5" width="2.0" height="2.1" fill="#581a00"/>
<rect x="420.0" y="566.5" width="2.0" height="2.1" fill="#2e1a00"/>
<rect x="422.0" y="566.5" width="2.0" height="2.1" fill="#491a00"/>
<rect x="424.0" y="566.5" width="2.0" height="2.1" fill="#4c1a00"/>
<rect x="426.0" y="566.5" width="2.0" height="2.1" fill="#451a00"/>
<rect x="428.0" y="566.5" width="2.0" height="2.1" fill="#541a00"/>
<rect x="430.0" y="566.5" width="2.0" height="2.1" fill="#4c1a00"/>
<rect x="432.0" y="566.5" width="2.0" height="2.1" fill="#2e1a00"/>
<rect x="438.0" y="566.5" width="2.0" height="2.1" fill="#411a00"/>
<rect x="440.0" y="566.5" width="2.0" height="2.1" fill="#451a00"/>
<rect x="442.0" y="566.5" width="2.0" height="2.1" fill="#411a00"/>
<rect x="444.0" y="566.5" width="2.0" height="2.1" fill="#361a00"/>
<rect x="446.0" y="566.5" width="2.0" height="2.1" fill="#3d1a00"/>
<rect x="448.0" y="566.5" width="2.0" height="2.1" fill="#501a00"/>
<rect x="450.0" y="566.5" width="2.0" height="2.1" fill="#541a00"/>
<rect x="452.0" y="566.5" width="2.0" height="2.1" fill="#391a00"/>
<rect x="456.0" y="566.5" width="2.0" height="2.1" fill="#2e1a00"/>
<rect x="460.0" y="566.5" width="2.0" height="2.1" fill="#491a00"/>
<rect x="464.0" y="566.5" width="2.0" height="2.1" fill="#321a00"/>
<rect x="470.0" y="566.5" width="2.0" height="2.1" fill="#3d1a00"/>
<rect x="472.0" y="566.5" width="2.0" height="2.1" fill="#451a00"/>
<rect x="474.0" y="566.5" width="2.0" height="2.1" fill="#391a00"/>
<rect x="476.0" y="566.5" width="2.0" height="2.1" fill="#2e1a00"/>
<rect x="404.0" y="568.5" width="2.0" height="2.1" fill="#2e1a00"/>
<rect x="406.0" y="568.5" width="4.0" height="2.1" fill="#3d1a00"/>
<rect x="410.0" y="568.5" width="2.0" height="2.1" fill="#2a1a00"/>
<rect x="412.0" y="568.5" width="2.0" height="2.1" fill="#321a00"/>
<rect x="414.0" y="568.5" width="2.0" height="2.1" fill="#4c1a00"/>
<rect x="416.0" y="568.5" width="2.0" height="2.1" fill="#491a00"/>
<rect x="418.0" y="568.5" width="2.0" height="2.1" fill="#4c1a00"/>
<rect x="420.0" y="568.5" width="2.0" height="2.1" fill="#391a00"/>
<rect x="422.0" y="568.5" width="2.0" height="2.1" fill="#541a00"/>
<rect x="424.0" y="568.5" width="2.0" height="2.1" fill="#501a00"/>
<rect x="426.0" y="568.5" width="2.0" height="2.1" fill="#361a00"/>
<rect x="428.0" y="568.5" width="4.0" height="2.1" fill="#491a00"/>
<rect x="432.0" y="568.5" width="2.0" height="2.1" fill="#361a00"/>
<rect x="434.0" y="568.5" width="2.0" height="2.1" fill="#3d1a00"/>
<rect x="436.0" y="568.5" width="2.0" height="2.1" fill="#2e1a00"/>
<rect x="438.0" y="568.5" width="2.0" height="2.1" fill="#451a00"/>
<rect x="444.0" y="568.5" width="6.0" height="2.1" fill="#391a00"/>
<rect x="450.0" y="568.5" width="2.0" height="2.1" fill="#361a00"/>
<rect x="452.0" y="568.5" width="4.0" height="2.1" fill="#3d1a00"/>
<rect x="456.0" y="568.5" width="2.0" height="2.1" fill="#321a00"/>
<rect x="460.0" y="568.5" width="4.0" height="2.1" fill="#541a00"/>
<rect x="464.0" y="568.5" width="2.0" height="2.1" fill="#451a00"/>
<rect x="466.0" y="568.5" width="2.0" height="2.1" fill="#2e1a00"/>
<rect x="472.0" y="568.5" width="2.0" height="2.1" fill="#321a00"/>
<rect x="474.0" y="568.5" width="2.0" height="2.1" fill="#2e1a00"/>
<rect x="410.0" y="570.6" width="2.0" height="2.1" fill="#391a00"/>
<rect x="412.0" y="570.6" width="2.0" height="2.1" fill="#2e1a00"/>
<rect x="414.0" y="570.6" width="2.0" height="2.1" fill="#391a00"/>
<rect x="416.0" y="570.6" width="2.0" height="2.1" fill="#501a00"/>
<rect x="418.0" y="570.6" width="2.0" height="2.1" fill="#631a00"/>
<rect x="420.0" y="570.6" width="2.0" height="2.1" fill="#4c1a00"/>
<rect x="422.0" y="570.6" width="2.0" height="2.1" fill="#631a00"/>
<rect x="424.0" y="570.6" width="2.0" height="2.1" fill="#3d1a00"/>
<rect x="426.0" y="570.6" width="2.0" height="2.1" fill="#361a00"/>
<rect x="428.0" y="570.6" width="2.0" height="2.1" fill="#491a00"/>
<rect x="430.0" y="570.6" width="2.0" height="2.1" fill="#451a00"/>
<rect x="432.0" y="570.6" width="2.0" height="2.1" fill="#321a00"/>
<rect x="434.0" y="570.6" width="2.0" height="2.1" fill="#361a00"/>
<rect x="436.0" y="570.6" width="2.0" height="2.1" fill="#2e1a00"/>
<rect x="438.0" y="570.6" width="2.0" height="2.1" fill="#361a00"/>
<rect x="440.0" y="570.6" width="2.0" height="2.1" fill="#4c1a00"/>
<rect x="442.0" y="570.6" width="2.0" height="2.1" fill="#411a00"/>
<rect x="444.0" y="570.6" width="2.0" height="2.1" fill="#541a00"/>
<rect x="446.0" y="570.6" width="2.0" height="2.1" fill="#451a00"/>
<rect x="448.0" y="570.6" width="2.0" height="2.1" fill="#411a00"/>
<rect x="450.0" y="570.6" width="2.0" height="2.1" fill="#2e1a00"/>
<rect x="454.0" y="570.6" width="2.0" height="2.1" fill="#2e1a00"/>
<rect x="458.0" y="570.6" width="2.0" height="2.1" fill="#4c1a00"/>
<rect x="460.0" y="570.6" width="2.0" height="2.1" fill="#3d1a00"/>
<rect x="462.0" y="570.6" width="2.0" height="2.1" fill="#491a00"/>
<rect x="464.0" y="570.6" width="2.0" height="2.1" fill="#541a00"/>
<rect x="466.0" y="570.6" width="2.0" height="2.1" fill="#4c1a00"/>
<rect x="484.0" y="570.6" width="2.0" height="2.1" fill="#2e1a00"/>
<rect x="410.0" y="572.6" width="2.0" height="2.1" fill="#2a1a00"/>
<rect x="412.0" y="572.6" width="2.0" height="2.1" fill="#361a00"/>
<rect x="414.0" y="572.6" width="2.0" height="2.1" fill="#2e1a00"/>
<rect x="418.0" y="572.6" width="2.0" height="2.1" fill="#581a00"/>
<rect x="420.0" y="572.6" width="2.0" height="2.1" fill="#321a00"/>
<rect x="422.0" y="572.6" width="4.0" height="2.1" fill="#581a00"/>
<rect x="426.0" y="572.6" width="4.0" height="2.1" fill="#4c1a00"/>
<rect x="430.0" y="572.6" width="2.0" height="2.1" fill="#3d1a00"/>
<rect x="432.0" y="572.6" width="2.0" height="2.1" fill="#2e1a00"/>
<rect x="434.0" y="572.6" width="2.0" height="2.1" fill="#3d1a00"/>
<rect x="436.0" y="572.6" width="2.0" height="2.1" fill="#451a00"/>
<rect x="438.0" y="572.6" width="2.0" height="2.1" fill="#2e1a00"/>
<rect x="440.0" y="572.6" width="2.0" height="2.1" fill="#501a00"/>
<rect x="442.0" y="572.6" width="2.0" height="2.1" fill="#3d1a00"/>
<rect x="444.0" y="572.6" width="2.0" height="2.1" fill="#491a00"/>
<rect x="446.0" y="572.6" width="2.0" height="2.1" fill="#631a00"/>
<rect x="448.0" y="572.6" width="2.0" height="2.1" fill="#541a00"/>
<rect x="450.0" y="572.6" width="2.0" height="2.1" fill="#501a00"/>
<rect x="452.0" y="572.6" width="2.0" height="2.1" fill="#541a00"/>
<rect x="454.0" y="572.6" width="2.0" height="2.1" fill="#411a00"/>
<rect x="460.0" y="572.6" width="4.0" height="2.1" fill="#501a00"/>
<rect x="464.0" y="572.6" width="2.0" height="2.1" fill="#541a00"/>
<rect x="466.0" y="572.6" width="2.0" height="2.1" fill="#391a00"/>
<rect x="468.0" y="572.6" width="2.0" height="2.1" fill="#3d1a00"/>
<rect x="470.0" y="572.6" width="2.0" height="2.1" fill="#451a00"/>
<rect x="472.0" y="572.6" width="6.0" height="2.1" fill="#361a00"/>
<rect x="372.0" y="574.6" width="2.0" height="2.1" fill="#391a00"/>
<rect x="374.0" y="574.6" width="2.0" height="2.1" fill="#321a00"/>
<rect x="376.0" y="574.6" width="2.0" height="2.1" fill="#2e1a00"/>
<rect x="384.0" y="574.6" width="2.0" height="2.1" fill="#2e1a00"/>
<rect x="386.0" y="574.6" width="4.0" height="2.1" fill="#321a00"/>
<rect x="390.0" y="574.6" width="2.0" height="2.1" fill="#4c1a00"/>
<rect x="392.0" y="574.6" width="2.0" height="2.1" fill="#3d1a00"/>
<rect x="394.0" y="574.6" width="2.0" height="2.1" fill="#321a00"/>
<rect x="396.0" y="574.6" width="2.0" height="2.1" fill="#501a00"/>
<rect x="398.0" y="574.6" width="2.0" height="2.1" fill="#2a1a00"/>
<rect x="400.0" y="574.6" width="2.0" height="2.1" fill="#321a00"/>
<rect x="402.0" y="574.6" width="4.0" height="2.1" fill="#361a00"/>
<rect x="416.0" y="574.6" width="2.0" height="2.1" fill="#451a00"/>
<rect x="418.0" y="574.6" width="2.0" height="2.1" fill="#2e1a00"/>
<rect x="420.0" y="574.6" width="2.0" height="2.1" fill="#3d1a00"/>
<rect x="422.0" y="574.6" width="2.0" height="2.1" fill="#391a00"/>
<rect x="424.0" y="574.6" width="2.0" height="2.1" fill="#2e1a00"/>
<rect x="426.0" y="574.6" width="2.0" height="2.1" fill="#4c1a00"/>
<rect x="428.0" y="574.6" width="2.0" height="2.1" fill="#581a00"/>
<rect x="430.0" y="574.6" width="2.0" height="2.1" fill="#4c1a00"/>
<rect x="432.0" y="574.6" width="2.0" height="2.1" fill="#451a00"/>
<rect x="434.0" y="574.6" width="2.0" height="2.1" fill="#541a00"/>
<rect x="436.0" y="574.6" width="2.0" height="2.1" fill="#3d1a00"/>
<rect x="438.0" y="574.6" width="2.0" height="2.1" fill="#601a00"/>
<rect x="440.0" y="574.6" width="2.0" height="2.1" fill="#3d1a00"/>
<rect x="442.0" y="574.6" width="2.0" height="2.1" fill="#491a00"/>
<rect x="444.0" y="574.6" width="4.0" height="2.1" fill="#2e1a00"/>
<rect x="448.0" y="574.6" width="2.0" height="2.1" fill="#321a00"/>
<rect x="450.0" y="574.6" width="2.0" height="2.1" fill="#3d1a00"/>
<rect x="452.0" y="574.6" width="2.0" height="2.1" fill="#451a00"/>
<rect x="454.0" y="574.6" width="4.0" height="2.1" fill="#411a00"/>
<rect x="458.0" y="574.6" width="2.0" height="2.1" fill="#3d1a00"/>
<rect x="350.0" y="576.7" width="2.0" height="2.1" fill="#361a00"/>
<rect x="354.0" y="576.7" width="2.0" height="2.1" fill="#2e1a00"/>
<rect x="356.0" y="576.7" width="2.0" height="2.1" fill="#501a00"/>
<rect x="358.0" y="576.7" width="2.0" height="2.1" fill="#2e1a00"/>
<rect x="360.0" y="576.7" width="2.0" height="2.1" fill="#451a00"/>
<rect x="362.0" y="576.7" width="2.0" height="2.1" fill="#5c1a00"/>
<rect x="364.0" y="576.7" width="2.0" height="2.1" fill="#601a00"/>
<rect x="366.0" y="576.7" width="2.0" height="2.1" fill="#4c1a00"/>
<rect x="368.0" y="576.7" width="4.0" height="2.1" fill="#361a00"/>
<rect x="372.0" y="576.7" width="2.0" height="2.1" fill="#671a00"/>
<rect x="374.0" y="576.7" width="2.0" height="2.1" fill="#391a00"/>
<rect x="376.0" y="576.7" width="2.0" height="2.1" fill="#541a00"/>
<rect x="378.0" y="576.7" width="2.0" height="2.1" fill="#451a00"/>
<rect x="380.0" y="576.7" width="2.0" height="2.1" fill="#321a00"/>
<rect x="382.0" y="576.7" width="2.0" height="2.1" fill="#2e1a00"/>
<rect x="384.0" y="576.7" width="2.0" height="2.1" fill="#3d1a00"/>
<rect x="386.0" y="576.7" width="2.0" height="2.1" fill="#541a00"/>
<rect x="388.0" y="576.7" width="2.0" height="2.1" fill="#6f1a00"/>
<rect x="390.0" y="576.7" width="2.0" height="2.1" fill="#731a00"/>
<rect x="392.0" y="576.7" width="2.0" height="2.1" fill="#4c1a00"/>
<rect x="394.0" y="576.7" width="2.0" height="2.1" fill="#771a00"/>
<rect x="396.0" y="576.7" width="4.0" height="2.1" fill="#541a00"/>
<rect x="400.0" y="576.7" width="2.0" height="2.1" fill="#501a00"/>
<rect x="402.0" y="576.7" width="2.0" height="2.1" fill="#3d1a00"/>
<rect x="404.0" y="576.7" width="2.0" height="2.1" fill="#451a00"/>
<rect x="406.0" y="576.7" width="2.0" height="2.1" fill="#491a00"/>
<rect x="408.0" y="576.7" width="2.0" height="2.1" fill="#4c1a00"/>
<rect x="410.0" y="576.7" width="2.0" height="2.1" fill="#501a00"/>
<rect x="412.0" y="576.7" width="2.0" height="2.1" fill="#451a00"/>
<rect x="420.0" y="576.7" width="2.0" height="2.1" fill="#2e1a00"/>
<rect x="422.0" y="576.7" width="4.0" height="2.1" fill="#361a00"/>
<rect x="428.0" y="576.7" width="2.0" height="2.1" fill="#321a00"/>
<rect x="430.0" y="576.7" width="2.0" height="2.1" fill="#391a00"/>
<rect x="432.0" y="576.7" width="2.0" height="2.1" fill="#361a00"/>
<rect x="434.0" y="576.7" width="2.0" height="2.1" fill="#4c1a00"/>
<rect x="436.0" y="576.7" width="4.0" height="2.1" fill="#411a00"/>
<rect x="440.0" y="576.7" width="2.0" height="2.1" fill="#451a00"/>
<rect x="442.0" y="576.7" width="2.0" height="2.1" fill="#361a00"/>
<rect x="444.0" y="576.7" width="2.0" height="2.1" fill="#411a00"/>
<rect x="446.0" y="576.7" width="2.0" height="2.1" fill="#2e1a00"/>
<rect x="448.0" y="576.7" width="2.0" height="2.1" fill="#361a00"/>
<rect x="450.0" y="576.7" width="2.0" height="2.1" fill="#411a00"/>
<rect x="452.0" y="576.7" width="2.0" height="2.1" fill="#451a00"/>
<rect x="454.0" y="576.7" width="2.0" height="2.1" fill="#3d1a00"/>
<rect x="456.0" y="576.7" width="2.0" height="2.1" fill="#2e1a00"/>
<rect x="462.0" y="576.7" width="2.0" height="2.1" fill="#2e1a00"/>
<rect x="336.0" y="578.7" width="2.0" height="2.1" fill="#3d1a00"/>
<rect x="338.0" y="578.7" width="2.0" height="2.1" fill="#451a00"/>
<rect x="340.0" y="578.7" width="4.0" height="2.1" fill="#411a00"/>
<rect x="344.0" y="578.7" width="2.0" height="2.1" fill="#4c1a00"/>
<rect x="346.0" y="578.7" width="2.0" height="2.1" fill="#581a00"/>
<rect x="348.0" y="578.7" width="2.0" height="2.1" fill="#3d1a00"/>
<rect x="350.0" y="578.7" width="2.0" height="2.1" fill="#321a00"/>
<rect x="352.0" y="578.7" width="2.0" height="2.1" fill="#6b1a00"/>
<rect x="354.0" y="578.7" width="2.0" height="2.1" fill="#771a00"/>
<rect x="356.0" y="578.7" width="2.0" height="2.1" fill="#671a00"/>
<rect x="358.0" y="578.7" width="2.0" height="2.1" fill="#491a00"/>
<rect x="360.0" y="578.7" width="2.0" height="2.1" fill="#671a00"/>
<rect x="362.0" y="578.7" width="2.0" height="2.1" fill="#861a00"/>
<rect x="364.0" y="578.7" width="2.0" height="2.1" fill="#6b1a00"/>
<rect x="366.0" y="578.7" width="2.0" height="2.1" fill="#4c1a00"/>
<rect x="368.0" y="578.7" width="2.0" height="2.1" fill="#6b1a00"/>
<rect x="370.0" y="578.7" width="2.0" height="2.1" fill="#5c1a00"/>
<rect x="372.0" y="578.7" width="2.0" height="2.1" fill="#911a00"/>
<rect x="374.0" y="578.7" width="2.0" height="2.1" fill="#6b1a00"/>
<rect x="376.0" y="578.7" width="2.0" height="2.1" fill="#861a00"/>
<rect x="378.0" y="578.7" width="2.0" height="2.1" fill="#501a00"/>
<rect x="380.0" y="578.7" width="2.0" height="2.1" fill="#541a00"/>
<rect x="382.0" y="578.7" width="2.0" height="2.1" fill="#631a00"/>
<rect x="384.0" y="578.7" width="2.0" height="2.1" fill="#601a00"/>
<rect x="386.0" y="578.7" width="2.0" height="2.1" fill="#5c1a00"/>
<rect x="388.0" y="578.7" width="2.0" height="2.1" fill="#671a00"/>
<rect x="390.0" y="578.7" width="2.0" height="2.1" fill="#911a00"/>
<rect x="392.0" y="578.7" width="2.0" height="2.1" fill="#a81a00"/>
<rect x="394.0" y="578.7" width="2.0" height="2.1" fill="#541a00"/>
<rect x="396.0" y="578.7" width="2.0" height="2.1" fill="#671a00"/>
<rect x="398.0" y="578.7" width="2.0" height="2.1" fill="#321a00"/>
<rect x="400.0" y="578.7" width="2.0" height="2.1" fill="#581a00"/>
<rect x="402.0" y="578.7" width="2.0" height="2.1" fill="#501a00"/>
<rect x="404.0" y="578.7" width="2.0" height="2.1" fill="#491a00"/>
<rect x="406.0" y="578.7" width="2.0" height="2.1" fill="#581a00"/>
<rect x="408.0" y="578.7" width="2.0" height="2.1" fill="#601a00"/>
<rect x="410.0" y="578.7" width="2.0" height="2.1" fill="#5c1a00"/>
<rect x="412.0" y="578.7" width="2.0" height="2.1" fill="#601a00"/>
<rect x="414.0" y="578.7" width="2.0" height="2.1" fill="#4c1a00"/>
<rect x="416.0" y="578.7" width="2.0" height="2.1" fill="#321a00"/>
<rect x="418.0" y="578.7" width="2.0" height="2.1" fill="#451a00"/>
<rect x="420.0" y="578.7" width="2.0" height="2.1" fill="#411a00"/>
<rect x="422.0" y="578.7" width="2.0" height="2.1" fill="#361a00"/>
<rect x="424.0" y="578.7" width="2.0" height="2.1" fill="#411a00"/>
<rect x="426.0" y="578.7" width="2.0" height="2.1" fill="#321a00"/>
<rect x="428.0" y="578.7" width="2.0" height="2.1" fill="#2e1a00"/>
<rect x="442.0" y="578.7" width="2.0" height="2.1" fill="#2e1a00"/>
<rect x="452.0" y="578.7" width="2.0" height="2.1" fill="#2e1a00"/>
<rect x="330.0" y="580.7" width="2.0" height="2.1" fill="#321a00"/>
<rect x="334.0" y="580.7" width="2.0" height="2.1" fill="#321a00"/>
<rect x="336.0" y="580.7" width="2.0" height="2.1" fill="#2e1a00"/>
<rect x="338.0" y="580.7" width="2.0" height="2.1" fill="#361a00"/>
<rect x="340.0" y="580.7" width="2.0" height="2.1" fill="#3d1a00"/>
<rect x="342.0" y="580.7" width="2.0" height="2.1" fill="#491a00"/>
<rect x="344.0" y="580.7" width="2.0" height="2.1" fill="#4c1a00"/>
<rect x="346.0" y="580.7" width="2.0" height="2.1" fill="#3d1a00"/>
<rect x="348.0" y="580.7" width="2.0" height="2.1" fill="#361a00"/>
<rect x="350.0" y="580.7" width="2.0" height="2.1" fill="#6b1a00"/>
<rect x="352.0" y="580.7" width="2.0" height="2.1" fill="#8e1a00"/>
<rect x="354.0" y="580.7" width="2.0" height="2.1" fill="#771a00"/>
<rect x="356.0" y="580.7" width="2.0" height="2.1" fill="#cb1a00"/>
<rect x="358.0" y="580.7" width="2.0" height="2.1" fill="#731a00"/>
<rect x="360.0" y="580.7" width="2.0" height="2.1" fill="#911a00"/>
<rect x="362.0" y="580.7" width="2.0" height="2.1" fill="#a81a00"/>
<rect x="364.0" y="580.7" width="2.0" height="2.1" fill="#8e1a00"/>
<rect x="366.0" y="580.7" width="2.0" height="2.1" fill="#671a00"/>
<rect x="368.0" y="580.7" width="2.0" height="2.1" fill="#771a00"/>
<rect x="370.0" y="580.7" width="2.0" height="2.1" fill="#8a1a00"/>
<rect x="372.0" y="580.7" width="2.0" height="2.1" fill="#ff1a00"/>
<rect x="374.0" y="580.7" width="2.0" height="2.1" fill="#ff1a00"/>
<rect x="376.0" y="580.7" width="2.0" height="2.1" fill="#ff1a00"/>
<rect x="378.0" y="580.7" width="2.0" height="2.1" fill="#7e1a00"/>
<rect x="380.0" y="580.7" width="2.0" height="2.1" fill="#771a00"/>
<rect x="382.0" y="580.7" width="2.0" height="2.1" fill="#911a00"/>
<rect x="384.0" y="580.7" width="2.0" height="2.1" fill="#771a00"/>
<rect x="386.0" y="580.7" width="2.0" height="2.1" fill="#501a00"/>
<rect x="388.0" y="580.7" width="2.0" height="2.1" fill="#541a00"/>
<rect x="390.0" y="580.7" width="2.0" height="2.1" fill="#7e1a00"/>
<rect x="392.0" y="580.7" width="2.0" height="2.1" fill="#861a00"/>
<rect x="394.0" y="580.7" width="2.0" height="2.1" fill="#9d1a00"/>
<rect x="396.0" y="580.7" width="2.0" height="2.1" fill="#821a00"/>
<rect x="398.0" y="580.7" width="2.0" height="2.1" fill="#771a00"/>
<rect x="400.0" y="580.7" width="2.0" height="2.1" fill="#b01a00"/>
<rect x="402.0" y="580.7" width="2.0" height="2.1" fill="#731a00"/>
<rect x="404.0" y="580.7" width="2.0" height="2.1" fill="#911a00"/>
<rect x="406.0" y="580.7" width="2.0" height="2.1" fill="#6f1a00"/>
<rect x="408.0" y="580.7" width="2.0" height="2.1" fill="#541a00"/>
<rect x="410.0" y="580.7" width="2.0" height="2.1" fill="#581a00"/>
<rect x="412.0" y="580.7" width="2.0" height="2.1" fill="#4c1a00"/>
<rect x="422.0" y="580.7" width="2.0" height="2.1" fill="#2a1a00"/>
<rect x="340.0" y="582.8" width="2.0" height="2.1" fill="#2e1a00"/>
<rect x="342.0" y="582.8" width="2.0" height="2.1" fill="#321a00"/>
<rect x="344.0" y="582.8" width="2.0" height="2.1" fill="#391a00"/>
<rect x="346.0" y="582.8" width="2.0" height="2.1" fill="#581a00"/>
<rect x="348.0" y="582.8" width="2.0" height="2.1" fill="#631a00"/>
<rect x="350.0" y="582.8" width="2.0" height="2.1" fill="#491a00"/>
<rect x="352.0" y="582.8" width="2.0" height="2.1" fill="#951a00"/>
<rect x="354.0" y="582.8" width="2.0" height="2.1" fill="#631a00"/>
<rect x="356.0" y="582.8" width="2.0" height="2.1" fill="#8e1a00"/>
<rect x="358.0" y="582.8" width="2.0" height="2.1" fill="#601a00"/>
<rect x="360.0" y="582.8" width="2.0" height="2.1" fill="#671a00"/>
<rect x="362.0" y="582.8" width="2.0" height="2.1" fill="#8a1a00"/>
<rect x="364.0" y="582.8" width="2.0" height="2.1" fill="#a81a00"/>
<rect x="366.0" y="582.8" width="2.0" height="2.1" fill="#ac1a00"/>
<rect x="368.0" y="582.8" width="2.0" height="2.1" fill="#991a00"/>
<rect x="370.0" y="582.8" width="2.0" height="2.1" fill="#ac1a00"/>
<rect x="372.0" y="582.8" width="2.0" height="2.1" fill="#a11a00"/>
<rect x="374.0" y="582.8" width="2.0" height="2.1" fill="#bf1a00"/>
<rect x="376.0" y="582.8" width="2.0" height="2.1" fill="#a81a00"/>
<rect x="378.0" y="582.8" width="2.0" height="2.1" fill="#9d1a00"/>
<rect x="380.0" y="582.8" width="2.0" height="2.1" fill="#601a00"/>
<rect x="382.0" y="582.8" width="2.0" height="2.1" fill="#491a00"/>
<rect x="384.0" y="582.8" width="2.0" height="2.1" fill="#6f1a00"/>
<rect x="386.0" y="582.8" width="2.0" height="2.1" fill="#7e1a00"/>
<rect x="388.0" y="582.8" width="2.0" height="2.1" fill="#671a00"/>
<rect x="390.0" y="582.8" width="2.0" height="2.1" fill="#601a00"/>
<rect x="392.0" y="582.8" width="2.0" height="2.1" fill="#581a00"/>
<rect x="394.0" y="582.8" width="2.0" height="2.1" fill="#731a00"/>
<rect x="396.0" y="582.8" width="2.0" height="2.1" fill="#631a00"/>
<rect x="398.0" y="582.8" width="2.0" height="2.1" fill="#861a00"/>
<rect x="400.0" y="582.8" width="4.0" height="2.1" fill="#631a00"/>
<rect x="404.0" y="582.8" width="2.0" height="2.1" fill="#541a00"/>
<rect x="406.0" y="582.8" width="2.0" height="2.1" fill="#5c1a00"/>
<rect x="408.0" y="582.8" width="2.0" height="2.1" fill="#491a00"/>
<rect x="346.0" y="584.8" width="2.0" height="2.1" fill="#391a00"/>
<rect x="348.0" y="584.8" width="2.0" height="2.1" fill="#411a00"/>
<rect x="350.0" y="584.8" width="2.0" height="2.1" fill="#451a00"/>
<rect x="352.0" y="584.8" width="2.0" height="2.1" fill="#491a00"/>
<rect x="354.0" y="584.8" width="2.0" height="2.1" fill="#321a00"/>
<rect x="356.0" y="584.8" width="4.0" height="2.1" fill="#5c1a00"/>
<rect x="360.0" y="584.8" width="2.0" height="2.1" fill="#541a00"/>
<rect x="362.0" y="584.8" width="2.0" height="2.1" fill="#4c1a00"/>
<rect x="364.0" y="584.8" width="2.0" height="2.1" fill="#451a00"/>
<rect x="366.0" y="584.8" width="2.0" height="2.1" fill="#411a00"/>
<rect x="368.0" y="584.8" width="2.0" height="2.1" fill="#491a00"/>
<rect x="370.0" y="584.8" width="2.0" height="2.1" fill="#3d1a00"/>
<rect x="372.0" y="584.8" width="2.0" height="2.1" fill="#581a00"/>
<rect x="374.0" y="584.8" width="2.0" height="2.1" fill="#4c1a00"/>
<rect x="376.0" y="584.8" width="2.0" height="2.1" fill="#391a00"/>
<rect x="378.0" y="584.8" width="2.0" height="2.1" fill="#6f1a00"/>
<rect x="380.0" y="584.8" width="2.0" height="2.1" fill="#5c1a00"/>
<rect x="382.0" y="584.8" width="2.0" height="2.1" fill="#411a00"/>
<rect x="384.0" y="584.8" width="2.0" height="2.1" fill="#491a00"/>
<rect x="386.0" y="584.8" width="2.0" height="2.1" fill="#501a00"/>
<rect x="388.0" y="584.8" width="2.0" height="2.1" fill="#451a00"/>
<rect x="390.0" y="584.8" width="2.0" height="2.1" fill="#491a00"/>
<rect x="392.0" y="584.8" width="2.0" height="2.1" fill="#541a00"/>
<rect x="394.0" y="584.8" width="2.0" height="2.1" fill="#491a00"/>
<rect x="396.0" y="584.8" width="2.0" height="2.1" fill="#5c1a00"/>
<rect x="398.0" y="584.8" width="2.0" height="2.1" fill="#391a00"/>
<rect x="400.0" y="584.8" width="4.0" height="2.1" fill="#2e1a00"/>
<rect x="362.0" y="586.8" width="4.0" height="2.1" fill="#321a00"/>
<rect x="370.0" y="586.8" width="2.0" height="2.1" fill="#451a00"/>
<rect x="372.0" y="586.8" width="2.0" height="2.1" fill="#361a00"/>
<rect x="374.0" y="586.8" width="2.0" height="2.1" fill="#321a00"/>
<rect x="378.0" y="586.8" width="2.0" height="2.1" fill="#2e1a00"/>
<rect x="384.0" y="586.8" width="2.0" height="2.1" fill="#2e1a00"/>
<rect x="396.0" y="586.8" width="2.0" height="2.1" fill="#361a00"/>
</g>
</g></g>
<rect x="84.4" y="548.2" width="525.90" height="1" fill="#12124a" opacity="0.45"/>
<rect x="84.4" y="589.90" width="525.90" height="1" fill="#1a1a40" opacity="0.55"/>
<path d="M132.60,548.30 C140.50,552.19 150.00,556.50 158.00,558.75 C162.00,559.69 168.00,559.69 172.00,559.17 C180.00,557.72 190.00,554.66 197.20,548.30 Z" fill="#fff" stroke="#151515" stroke-width="1.0" stroke-linejoin="round"/>
<path d="M132.60,590.80 C140.50,586.91 150.00,582.60 158.00,580.35 C162.00,579.41 168.00,579.41 172.00,579.93 C180.00,581.38 190.00,584.44 197.20,590.80 Z" fill="#fff" stroke="#151515" stroke-width="1.0" stroke-linejoin="round"/>
<line x1="131" x2="199" y1="548.50" y2="548.50" stroke="#707070" stroke-width="0.9"/>
<line x1="131" x2="199" y1="590.60" y2="590.60" stroke="#707070" stroke-width="0.9"/>
<g clip-path="url(#clipc2)"><g filter="url(#mapc2)">
<rect x="84.40" y="680.30" width="525.90" height="40.50" fill="#080000"/>
<g filter="url(#b3)">
<rect x="335.00" y="677.30" width="280.30" height="46.50" fill="url(#g43)"/>
</g>
<g filter="url(#b0_7)">
<rect x="153.80" y="683.80" width="3.00" height="2.80" fill="#4c0000"/>
<rect x="153.80" y="712.60" width="3.00" height="2.80" fill="#4c0000"/>
<rect x="165.50" y="686.80" width="3.00" height="2.80" fill="#8c0000"/>
<rect x="165.50" y="710.00" width="3.00" height="2.80" fill="#8c0000"/>
<rect x="168.50" y="686.80" width="18.50" height="2.80" fill="url(#g44)"/>
<rect x="168.50" y="710.00" width="18.50" height="2.80" fill="url(#g45)"/>
<rect x="190.00" y="688.00" width="22.00" height="2.00" fill="#1a0000"/>
<rect x="190.00" y="710.00" width="22.00" height="2.00" fill="#1a0000"/>
<rect x="215.00" y="688.50" width="17.00" height="1.50" fill="#140000"/>
<rect x="215.00" y="710.00" width="17.00" height="1.50" fill="#140000"/>
<rect x="250.00" y="688.00" width="50.00" height="2.00" fill="#0f0000"/>
<rect x="250.00" y="710.00" width="50.00" height="2.00" fill="#0f0000"/>
</g>
<g filter="url(#b0_85)">
<rect x="363.6" y="680.3" width="6.4" height="3.4" fill="#1a1a00"/>
<rect x="370.0" y="680.3" width="3.2" height="3.4" fill="#241a00"/>
<rect x="373.2" y="680.3" width="6.4" height="3.4" fill="#261a00"/>
<rect x="379.6" y="680.3" width="3.2" height="3.4" fill="#361a00"/>
<rect x="382.8" y="680.3" width="3.2" height="3.4" fill="#301a00"/>
<rect x="386.0" y="680.3" width="3.2" height="3.4" fill="#331a00"/>
<rect x="389.2" y="680.3" width="3.2" height="3.4" fill="#211a00"/>
<rect x="392.4" y="680.3" width="3.2" height="3.4" fill="#291a00"/>
<rect x="395.6" y="680.3" width="3.2" height="3.4" fill="#241a00"/>
<rect x="398.8" y="680.3" width="3.2" height="3.4" fill="#291a00"/>
<rect x="402.0" y="680.3" width="3.2" height="3.4" fill="#1f1a00"/>
<rect x="408.4" y="680.3" width="3.2" height="3.4" fill="#1c1a00"/>
<rect x="350.8" y="683.7" width="3.2" height="3.4" fill="#291a00"/>
<rect x="354.0" y="683.7" width="3.2" height="3.4" fill="#2e1a00"/>
<rect x="357.2" y="683.7" width="6.4" height="3.4" fill="#381a00"/>
<rect x="363.6" y="683.7" width="3.2" height="3.4" fill="#471a00"/>
<rect x="366.8" y="683.7" width="3.2" height="3.4" fill="#611a00"/>
<rect x="370.0" y="683.7" width="6.4" height="3.4" fill="#541a00"/>
<rect x="376.4" y="683.7" width="3.2" height="3.4" fill="#4f1a00"/>
<rect x="379.6" y="683.7" width="3.2" height="3.4" fill="#611a00"/>
<rect x="382.8" y="683.7" width="3.2" height="3.4" fill="#4f1a00"/>
<rect x="386.0" y="683.7" width="6.4" height="3.4" fill="#4a1a00"/>
<rect x="392.4" y="683.7" width="3.2" height="3.4" fill="#611a00"/>
<rect x="395.6" y="683.7" width="3.2" height="3.4" fill="#471a00"/>
<rect x="398.8" y="683.7" width="3.2" height="3.4" fill="#4a1a00"/>
<rect x="402.0" y="683.7" width="3.2" height="3.4" fill="#421a00"/>
<rect x="405.2" y="683.7" width="3.2" height="3.4" fill="#3b1a00"/>
<rect x="408.4" y="683.7" width="3.2" height="3.4" fill="#451a00"/>
<rect x="411.6" y="683.7" width="3.2" height="3.4" fill="#4f1a00"/>
<rect x="414.8" y="683.7" width="6.4" height="3.4" fill="#3d1a00"/>
<rect x="421.2" y="683.7" width="3.2" height="3.4" fill="#2e1a00"/>
<rect x="424.4" y="683.7" width="3.2" height="3.4" fill="#261a00"/>
<rect x="427.6" y="683.7" width="3.2" height="3.4" fill="#1c1a00"/>
<rect x="430.8" y="683.7" width="6.4" height="3.4" fill="#241a00"/>
<rect x="437.2" y="683.7" width="6.4" height="3.4" fill="#211a00"/>
<rect x="443.6" y="683.7" width="3.2" height="3.4" fill="#241a00"/>
<rect x="446.8" y="683.7" width="3.2" height="3.4" fill="#291a00"/>
<rect x="450.0" y="683.7" width="3.2" height="3.4" fill="#241a00"/>
<rect x="453.2" y="683.7" width="6.4" height="3.4" fill="#1c1a00"/>
<rect x="338.0" y="687.0" width="3.2" height="3.4" fill="#381a00"/>
<rect x="341.2" y="687.0" width="3.2" height="3.4" fill="#5e1a00"/>
<rect x="344.4" y="687.0" width="3.2" height="3.4" fill="#631a00"/>
<rect x="347.6" y="687.0" width="3.2" height="3.4" fill="#611a00"/>
<rect x="350.8" y="687.0" width="3.2" height="3.4" fill="#5e1a00"/>
<rect x="354.0" y="687.0" width="3.2" height="3.4" fill="#611a00"/>
<rect x="357.2" y="687.0" width="3.2" height="3.4" fill="#571a00"/>
<rect x="360.4" y="687.0" width="3.2" height="3.4" fill="#751a00"/>
<rect x="363.6" y="687.0" width="3.2" height="3.4" fill="#7a1a00"/>
<rect x="366.8" y="687.0" width="3.2" height="3.4" fill="#a81a00"/>
<rect x="370.0" y="687.0" width="3.2" height="3.4" fill="#821a00"/>
<rect x="373.2" y="687.0" width="6.4" height="3.4" fill="#8c1a00"/>
<rect x="379.6" y="687.0" width="9.6" height="3.4" fill="#7a1a00"/>
<rect x="389.2" y="687.0" width="3.2" height="3.4" fill="#781a00"/>
<rect x="392.4" y="687.0" width="3.2" height="3.4" fill="#6b1a00"/>
<rect x="395.6" y="687.0" width="3.2" height="3.4" fill="#801a00"/>
<rect x="398.8" y="687.0" width="3.2" height="3.4" fill="#6e1a00"/>
<rect x="402.0" y="687.0" width="3.2" height="3.4" fill="#5c1a00"/>
<rect x="405.2" y="687.0" width="3.2" height="3.4" fill="#731a00"/>
<rect x="408.4" y="687.0" width="3.2" height="3.4" fill="#6b1a00"/>
<rect x="411.6" y="687.0" width="3.2" height="3.4" fill="#701a00"/>
<rect x="414.8" y="687.0" width="3.2" height="3.4" fill="#661a00"/>
<rect x="418.0" y="687.0" width="3.2" height="3.4" fill="#6b1a00"/>
<rect x="421.2" y="687.0" width="3.2" height="3.4" fill="#591a00"/>
<rect x="424.4" y="687.0" width="3.2" height="3.4" fill="#4c1a00"/>
<rect x="427.6" y="687.0" width="3.2" height="3.4" fill="#521a00"/>
<rect x="430.8" y="687.0" width="3.2" height="3.4" fill="#541a00"/>
<rect x="434.0" y="687.0" width="3.2" height="3.4" fill="#421a00"/>
<rect x="437.2" y="687.0" width="3.2" height="3.4" fill="#381a00"/>
<rect x="440.4" y="687.0" width="3.2" height="3.4" fill="#241a00"/>
<rect x="443.6" y="687.0" width="3.2" height="3.4" fill="#211a00"/>
<rect x="446.8" y="687.0" width="3.2" height="3.4" fill="#1f1a00"/>
<rect x="341.2" y="690.4" width="3.2" height="3.4" fill="#1f1a00"/>
<rect x="344.4" y="690.4" width="3.2" height="3.4" fill="#2b1a00"/>
<rect x="347.6" y="690.4" width="3.2" height="3.4" fill="#4c1a00"/>
<rect x="350.8" y="690.4" width="6.4" height="3.4" fill="#4f1a00"/>
<rect x="357.2" y="690.4" width="3.2" height="3.4" fill="#541a00"/>
<rect x="360.4" y="690.4" width="3.2" height="3.4" fill="#661a00"/>
<rect x="363.6" y="690.4" width="6.4" height="3.4" fill="#8c1a00"/>
<rect x="370.0" y="690.4" width="6.4" height="3.4" fill="#6b1a00"/>
<rect x="376.4" y="690.4" width="3.2" height="3.4" fill="#781a00"/>
<rect x="379.6" y="690.4" width="3.2" height="3.4" fill="#6b1a00"/>
<rect x="382.8" y="690.4" width="3.2" height="3.4" fill="#701a00"/>
<rect x="386.0" y="690.4" width="3.2" height="3.4" fill="#631a00"/>
<rect x="389.2" y="690.4" width="3.2" height="3.4" fill="#751a00"/>
<rect x="392.4" y="690.4" width="3.2" height="3.4" fill="#661a00"/>
<rect x="395.6" y="690.4" width="3.2" height="3.4" fill="#751a00"/>
<rect x="398.8" y="690.4" width="3.2" height="3.4" fill="#781a00"/>
<rect x="402.0" y="690.4" width="3.2" height="3.4" fill="#6b1a00"/>
<rect x="405.2" y="690.4" width="3.2" height="3.4" fill="#8c1a00"/>
<rect x="408.4" y="690.4" width="3.2" height="3.4" fill="#631a00"/>
<rect x="411.6" y="690.4" width="3.2" height="3.4" fill="#661a00"/>
<rect x="414.8" y="690.4" width="3.2" height="3.4" fill="#6e1a00"/>
<rect x="418.0" y="690.4" width="3.2" height="3.4" fill="#801a00"/>
<rect x="421.2" y="690.4" width="3.2" height="3.4" fill="#6e1a00"/>
<rect x="424.4" y="690.4" width="3.2" height="3.4" fill="#801a00"/>
<rect x="427.6" y="690.4" width="3.2" height="3.4" fill="#821a00"/>
<rect x="430.8" y="690.4" width="3.2" height="3.4" fill="#5e1a00"/>
<rect x="434.0" y="690.4" width="3.2" height="3.4" fill="#611a00"/>
<rect x="437.2" y="690.4" width="3.2" height="3.4" fill="#471a00"/>
<rect x="440.4" y="690.4" width="3.2" height="3.4" fill="#3b1a00"/>
<rect x="443.6" y="690.4" width="3.2" height="3.4" fill="#541a00"/>
<rect x="446.8" y="690.4" width="3.2" height="3.4" fill="#571a00"/>
<rect x="450.0" y="690.4" width="3.2" height="3.4" fill="#471a00"/>
<rect x="453.2" y="690.4" width="3.2" height="3.4" fill="#291a00"/>
<rect x="456.4" y="690.4" width="3.2" height="3.4" fill="#1c1a00"/>
<rect x="354.0" y="693.8" width="3.2" height="3.4" fill="#1a1a00"/>
<rect x="357.2" y="693.8" width="3.2" height="3.4" fill="#211a00"/>
<rect x="360.4" y="693.8" width="3.2" height="3.4" fill="#291a00"/>
<rect x="363.6" y="693.8" width="3.2" height="3.4" fill="#2e1a00"/>
<rect x="366.8" y="693.8" width="3.2" height="3.4" fill="#361a00"/>
<rect x="370.0" y="693.8" width="3.2" height="3.4" fill="#3b1a00"/>
<rect x="373.2" y="693.8" width="3.2" height="3.4" fill="#4a1a00"/>
<rect x="376.4" y="693.8" width="3.2" height="3.4" fill="#3d1a00"/>
<rect x="379.6" y="693.8" width="6.4" height="3.4" fill="#401a00"/>
<rect x="386.0" y="693.8" width="3.2" height="3.4" fill="#4a1a00"/>
<rect x="389.2" y="693.8" width="3.2" height="3.4" fill="#401a00"/>
<rect x="392.4" y="693.8" width="3.2" height="3.4" fill="#471a00"/>
<rect x="395.6" y="693.8" width="3.2" height="3.4" fill="#4a1a00"/>
<rect x="398.8" y="693.8" width="3.2" height="3.4" fill="#421a00"/>
<rect x="402.0" y="693.8" width="3.2" height="3.4" fill="#3b1a00"/>
<rect x="405.2" y="693.8" width="6.4" height="3.4" fill="#381a00"/>
<rect x="411.6" y="693.8" width="3.2" height="3.4" fill="#4c1a00"/>
<rect x="414.8" y="693.8" width="3.2" height="3.4" fill="#3d1a00"/>
<rect x="418.0" y="693.8" width="3.2" height="3.4" fill="#2b1a00"/>
<rect x="421.2" y="693.8" width="3.2" height="3.4" fill="#2e1a00"/>
<rect x="424.4" y="693.8" width="6.4" height="3.4" fill="#451a00"/>
<rect x="430.8" y="693.8" width="3.2" height="3.4" fill="#4f1a00"/>
<rect x="434.0" y="693.8" width="3.2" height="3.4" fill="#3d1a00"/>
<rect x="437.2" y="693.8" width="3.2" height="3.4" fill="#401a00"/>
<rect x="440.4" y="693.8" width="3.2" height="3.4" fill="#3d1a00"/>
<rect x="443.6" y="693.8" width="3.2" height="3.4" fill="#401a00"/>
<rect x="446.8" y="693.8" width="6.4" height="3.4" fill="#451a00"/>
<rect x="453.2" y="693.8" width="3.2" height="3.4" fill="#401a00"/>
<rect x="456.4" y="693.8" width="3.2" height="3.4" fill="#471a00"/>
<rect x="459.6" y="693.8" width="3.2" height="3.4" fill="#401a00"/>
<rect x="462.8" y="693.8" width="3.2" height="3.4" fill="#421a00"/>
<rect x="466.0" y="693.8" width="6.4" height="3.4" fill="#211a00"/>
<rect x="472.4" y="693.8" width="3.2" height="3.4" fill="#241a00"/>
<rect x="475.6" y="693.8" width="3.2" height="3.4" fill="#291a00"/>
<rect x="478.8" y="693.8" width="9.6" height="3.4" fill="#1f1a00"/>
<rect x="488.4" y="693.8" width="3.2" height="3.4" fill="#241a00"/>
<rect x="338.0" y="697.2" width="3.2" height="3.4" fill="#1f1a00"/>
<rect x="341.2" y="697.2" width="3.2" height="3.4" fill="#241a00"/>
<rect x="344.4" y="697.2" width="3.2" height="3.4" fill="#211a00"/>
<rect x="347.6" y="697.2" width="3.2" height="3.4" fill="#291a00"/>
<rect x="350.8" y="697.2" width="3.2" height="3.4" fill="#211a00"/>
<rect x="354.0" y="697.2" width="3.2" height="3.4" fill="#261a00"/>
<rect x="357.2" y="697.2" width="6.4" height="3.4" fill="#2b1a00"/>
<rect x="363.6" y="697.2" width="3.2" height="3.4" fill="#211a00"/>
<rect x="366.8" y="697.2" width="3.2" height="3.4" fill="#291a00"/>
<rect x="370.0" y="697.2" width="3.2" height="3.4" fill="#301a00"/>
<rect x="373.2" y="697.2" width="3.2" height="3.4" fill="#261a00"/>
<rect x="376.4" y="697.2" width="6.4" height="3.4" fill="#211a00"/>
<rect x="382.8" y="697.2" width="3.2" height="3.4" fill="#301a00"/>
<rect x="386.0" y="697.2" width="3.2" height="3.4" fill="#3b1a00"/>
<rect x="389.2" y="697.2" width="3.2" height="3.4" fill="#451a00"/>
<rect x="392.4" y="697.2" width="3.2" height="3.4" fill="#421a00"/>
<rect x="395.6" y="697.2" width="3.2" height="3.4" fill="#451a00"/>
<rect x="398.8" y="697.2" width="3.2" height="3.4" fill="#401a00"/>
<rect x="402.0" y="697.2" width="3.2" height="3.4" fill="#381a00"/>
<rect x="405.2" y="697.2" width="3.2" height="3.4" fill="#421a00"/>
<rect x="408.4" y="697.2" width="3.2" height="3.4" fill="#3d1a00"/>
<rect x="411.6" y="697.2" width="3.2" height="3.4" fill="#401a00"/>
<rect x="414.8" y="697.2" width="3.2" height="3.4" fill="#421a00"/>
<rect x="418.0" y="697.2" width="3.2" height="3.4" fill="#611a00"/>
<rect x="421.2" y="697.2" width="3.2" height="3.4" fill="#541a00"/>
<rect x="424.4" y="697.2" width="3.2" height="3.4" fill="#471a00"/>
<rect x="427.6" y="697.2" width="3.2" height="3.4" fill="#571a00"/>
<rect x="430.8" y="697.2" width="3.2" height="3.4" fill="#591a00"/>
<rect x="434.0" y="697.2" width="3.2" height="3.4" fill="#5e1a00"/>
<rect x="437.2" y="697.2" width="3.2" height="3.4" fill="#4f1a00"/>
<rect x="440.4" y="697.2" width="3.2" height="3.4" fill="#4c1a00"/>
<rect x="443.6" y="697.2" width="3.2" height="3.4" fill="#451a00"/>
<rect x="446.8" y="697.2" width="3.2" height="3.4" fill="#381a00"/>
<rect x="450.0" y="697.2" width="3.2" height="3.4" fill="#361a00"/>
<rect x="453.2" y="697.2" width="3.2" height="3.4" fill="#3b1a00"/>
<rect x="456.4" y="697.2" width="3.2" height="3.4" fill="#401a00"/>
<rect x="459.6" y="697.2" width="3.2" height="3.4" fill="#2b1a00"/>
<rect x="462.8" y="697.2" width="3.2" height="3.4" fill="#211a00"/>
<rect x="466.0" y="697.2" width="3.2" height="3.4" fill="#291a00"/>
<rect x="469.2" y="697.2" width="3.2" height="3.4" fill="#2b1a00"/>
<rect x="472.4" y="697.2" width="3.2" height="3.4" fill="#1c1a00"/>
<rect x="478.8" y="697.2" width="3.2" height="3.4" fill="#211a00"/>
<rect x="482.0" y="697.2" width="3.2" height="3.4" fill="#2b1a00"/>
<rect x="485.2" y="697.2" width="3.2" height="3.4" fill="#211a00"/>
<rect x="488.4" y="697.2" width="3.2" height="3.4" fill="#241a00"/>
<rect x="373.2" y="700.5" width="3.2" height="3.4" fill="#1c1a00"/>
<rect x="376.4" y="700.5" width="3.2" height="3.4" fill="#211a00"/>
<rect x="379.6" y="700.5" width="3.2" height="3.4" fill="#241a00"/>
<rect x="382.8" y="700.5" width="3.2" height="3.4" fill="#2e1a00"/>
<rect x="386.0" y="700.5" width="3.2" height="3.4" fill="#331a00"/>
<rect x="389.2" y="700.5" width="3.2" height="3.4" fill="#301a00"/>
<rect x="392.4" y="700.5" width="3.2" height="3.4" fill="#261a00"/>
<rect x="395.6" y="700.5" width="3.2" height="3.4" fill="#291a00"/>
<rect x="398.8" y="700.5" width="3.2" height="3.4" fill="#301a00"/>
<rect x="402.0" y="700.5" width="3.2" height="3.4" fill="#471a00"/>
<rect x="405.2" y="700.5" width="3.2" height="3.4" fill="#571a00"/>
<rect x="408.4" y="700.5" width="3.2" height="3.4" fill="#421a00"/>
<rect x="411.6" y="700.5" width="3.2" height="3.4" fill="#3d1a00"/>
<rect x="414.8" y="700.5" width="3.2" height="3.4" fill="#361a00"/>
<rect x="418.0" y="700.5" width="3.2" height="3.4" fill="#4f1a00"/>
<rect x="421.2" y="700.5" width="3.2" height="3.4" fill="#571a00"/>
<rect x="424.4" y="700.5" width="3.2" height="3.4" fill="#631a00"/>
<rect x="427.6" y="700.5" width="3.2" height="3.4" fill="#701a00"/>
<rect x="430.8" y="700.5" width="3.2" height="3.4" fill="#611a00"/>
<rect x="434.0" y="700.5" width="3.2" height="3.4" fill="#591a00"/>
<rect x="437.2" y="700.5" width="3.2" height="3.4" fill="#4f1a00"/>
<rect x="440.4" y="700.5" width="3.2" height="3.4" fill="#631a00"/>
<rect x="443.6" y="700.5" width="6.4" height="3.4" fill="#4a1a00"/>
<rect x="450.0" y="700.5" width="3.2" height="3.4" fill="#421a00"/>
<rect x="453.2" y="700.5" width="3.2" height="3.4" fill="#3b1a00"/>
<rect x="456.4" y="700.5" width="3.2" height="3.4" fill="#381a00"/>
<rect x="459.6" y="700.5" width="3.2" height="3.4" fill="#291a00"/>
<rect x="462.8" y="700.5" width="3.2" height="3.4" fill="#261a00"/>
<rect x="466.0" y="700.5" width="3.2" height="3.4" fill="#291a00"/>
<rect x="469.2" y="700.5" width="3.2" height="3.4" fill="#241a00"/>
<rect x="472.4" y="700.5" width="3.2" height="3.4" fill="#291a00"/>
<rect x="475.6" y="700.5" width="3.2" height="3.4" fill="#241a00"/>
<rect x="478.8" y="700.5" width="3.2" height="3.4" fill="#211a00"/>
<rect x="485.2" y="700.5" width="3.2" height="3.4" fill="#1c1a00"/>
<rect x="488.4" y="700.5" width="3.2" height="3.4" fill="#1a1a00"/>
<rect x="350.8" y="703.9" width="3.2" height="3.4" fill="#1c1a00"/>
<rect x="354.0" y="703.9" width="3.2" height="3.4" fill="#241a00"/>
<rect x="357.2" y="703.9" width="3.2" height="3.4" fill="#301a00"/>
<rect x="360.4" y="703.9" width="3.2" height="3.4" fill="#381a00"/>
<rect x="363.6" y="703.9" width="6.4" height="3.4" fill="#401a00"/>
<rect x="370.0" y="703.9" width="3.2" height="3.4" fill="#301a00"/>
<rect x="373.2" y="703.9" width="3.2" height="3.4" fill="#451a00"/>
<rect x="376.4" y="703.9" width="3.2" height="3.4" fill="#3b1a00"/>
<rect x="379.6" y="703.9" width="3.2" height="3.4" fill="#471a00"/>
<rect x="382.8" y="703.9" width="3.2" height="3.4" fill="#701a00"/>
<rect x="386.0" y="703.9" width="3.2" height="3.4" fill="#611a00"/>
<rect x="389.2" y="703.9" width="3.2" height="3.4" fill="#591a00"/>
<rect x="392.4" y="703.9" width="3.2" height="3.4" fill="#5e1a00"/>
<rect x="395.6" y="703.9" width="3.2" height="3.4" fill="#541a00"/>
<rect x="398.8" y="703.9" width="3.2" height="3.4" fill="#571a00"/>
<rect x="402.0" y="703.9" width="3.2" height="3.4" fill="#5c1a00"/>
<rect x="405.2" y="703.9" width="3.2" height="3.4" fill="#541a00"/>
<rect x="408.4" y="703.9" width="3.2" height="3.4" fill="#691a00"/>
<rect x="411.6" y="703.9" width="3.2" height="3.4" fill="#851a00"/>
<rect x="414.8" y="703.9" width="3.2" height="3.4" fill="#821a00"/>
<rect x="418.0" y="703.9" width="3.2" height="3.4" fill="#801a00"/>
<rect x="421.2" y="703.9" width="3.2" height="3.4" fill="#781a00"/>
<rect x="424.4" y="703.9" width="3.2" height="3.4" fill="#6b1a00"/>
<rect x="427.6" y="703.9" width="3.2" height="3.4" fill="#631a00"/>
<rect x="430.8" y="703.9" width="3.2" height="3.4" fill="#691a00"/>
<rect x="434.0" y="703.9" width="3.2" height="3.4" fill="#631a00"/>
<rect x="437.2" y="703.9" width="3.2" height="3.4" fill="#611a00"/>
<rect x="440.4" y="703.9" width="3.2" height="3.4" fill="#5e1a00"/>
<rect x="443.6" y="703.9" width="3.2" height="3.4" fill="#521a00"/>
<rect x="446.8" y="703.9" width="3.2" height="3.4" fill="#301a00"/>
<rect x="450.0" y="703.9" width="3.2" height="3.4" fill="#241a00"/>
<rect x="453.2" y="703.9" width="3.2" height="3.4" fill="#261a00"/>
<rect x="338.0" y="707.3" width="3.2" height="3.4" fill="#1f1a00"/>
<rect x="341.2" y="707.3" width="3.2" height="3.4" fill="#241a00"/>
<rect x="344.4" y="707.3" width="6.4" height="3.4" fill="#421a00"/>
<rect x="350.8" y="707.3" width="3.2" height="3.4" fill="#541a00"/>
<rect x="354.0" y="707.3" width="3.2" height="3.4" fill="#521a00"/>
<rect x="357.2" y="707.3" width="3.2" height="3.4" fill="#4a1a00"/>
<rect x="360.4" y="707.3" width="3.2" height="3.4" fill="#521a00"/>
<rect x="363.6" y="707.3" width="3.2" height="3.4" fill="#611a00"/>
<rect x="366.8" y="707.3" width="3.2" height="3.4" fill="#691a00"/>
<rect x="370.0" y="707.3" width="3.2" height="3.4" fill="#661a00"/>
<rect x="373.2" y="707.3" width="3.2" height="3.4" fill="#7a1a00"/>
<rect x="376.4" y="707.3" width="3.2" height="3.4" fill="#851a00"/>
<rect x="379.6" y="707.3" width="3.2" height="3.4" fill="#871a00"/>
<rect x="382.8" y="707.3" width="3.2" height="3.4" fill="#821a00"/>
<rect x="386.0" y="707.3" width="3.2" height="3.4" fill="#731a00"/>
<rect x="389.2" y="707.3" width="3.2" height="3.4" fill="#661a00"/>
<rect x="392.4" y="707.3" width="3.2" height="3.4" fill="#591a00"/>
<rect x="395.6" y="707.3" width="3.2" height="3.4" fill="#8a1a00"/>
<rect x="398.8" y="707.3" width="3.2" height="3.4" fill="#6b1a00"/>
<rect x="402.0" y="707.3" width="3.2" height="3.4" fill="#7d1a00"/>
<rect x="405.2" y="707.3" width="3.2" height="3.4" fill="#591a00"/>
<rect x="408.4" y="707.3" width="3.2" height="3.4" fill="#731a00"/>
<rect x="411.6" y="707.3" width="3.2" height="3.4" fill="#751a00"/>
<rect x="414.8" y="707.3" width="3.2" height="3.4" fill="#7a1a00"/>
<rect x="418.0" y="707.3" width="3.2" height="3.4" fill="#801a00"/>
<rect x="421.2" y="707.3" width="3.2" height="3.4" fill="#6b1a00"/>
<rect x="424.4" y="707.3" width="3.2" height="3.4" fill="#451a00"/>
<rect x="427.6" y="707.3" width="3.2" height="3.4" fill="#381a00"/>
<rect x="430.8" y="707.3" width="3.2" height="3.4" fill="#451a00"/>
<rect x="434.0" y="707.3" width="3.2" height="3.4" fill="#381a00"/>
<rect x="437.2" y="707.3" width="3.2" height="3.4" fill="#3d1a00"/>
<rect x="440.4" y="707.3" width="3.2" height="3.4" fill="#331a00"/>
<rect x="443.6" y="707.3" width="3.2" height="3.4" fill="#1c1a00"/>
<rect x="338.0" y="710.7" width="3.2" height="3.4" fill="#291a00"/>
<rect x="341.2" y="710.7" width="3.2" height="3.4" fill="#3b1a00"/>
<rect x="344.4" y="710.7" width="3.2" height="3.4" fill="#361a00"/>
<rect x="347.6" y="710.7" width="3.2" height="3.4" fill="#541a00"/>
<rect x="350.8" y="710.7" width="3.2" height="3.4" fill="#591a00"/>
<rect x="354.0" y="710.7" width="3.2" height="3.4" fill="#521a00"/>
<rect x="357.2" y="710.7" width="3.2" height="3.4" fill="#471a00"/>
<rect x="360.4" y="710.7" width="3.2" height="3.4" fill="#611a00"/>
<rect x="363.6" y="710.7" width="3.2" height="3.4" fill="#661a00"/>
<rect x="366.8" y="710.7" width="3.2" height="3.4" fill="#611a00"/>
<rect x="370.0" y="710.7" width="3.2" height="3.4" fill="#571a00"/>
<rect x="373.2" y="710.7" width="3.2" height="3.4" fill="#7a1a00"/>
<rect x="376.4" y="710.7" width="3.2" height="3.4" fill="#821a00"/>
<rect x="379.6" y="710.7" width="3.2" height="3.4" fill="#751a00"/>
<rect x="382.8" y="710.7" width="3.2" height="3.4" fill="#731a00"/>
<rect x="386.0" y="710.7" width="3.2" height="3.4" fill="#631a00"/>
<rect x="389.2" y="710.7" width="3.2" height="3.4" fill="#5c1a00"/>
<rect x="392.4" y="710.7" width="3.2" height="3.4" fill="#691a00"/>
<rect x="395.6" y="710.7" width="3.2" height="3.4" fill="#591a00"/>
<rect x="398.8" y="710.7" width="3.2" height="3.4" fill="#631a00"/>
<rect x="402.0" y="710.7" width="3.2" height="3.4" fill="#4f1a00"/>
<rect x="405.2" y="710.7" width="3.2" height="3.4" fill="#4c1a00"/>
<rect x="408.4" y="710.7" width="3.2" height="3.4" fill="#521a00"/>
<rect x="411.6" y="710.7" width="3.2" height="3.4" fill="#591a00"/>
<rect x="414.8" y="710.7" width="3.2" height="3.4" fill="#401a00"/>
<rect x="418.0" y="710.7" width="3.2" height="3.4" fill="#361a00"/>
<rect x="421.2" y="710.7" width="3.2" height="3.4" fill="#3d1a00"/>
<rect x="424.4" y="710.7" width="3.2" height="3.4" fill="#261a00"/>
<rect x="427.6" y="710.7" width="3.2" height="3.4" fill="#1f1a00"/>
<rect x="354.0" y="714.0" width="3.2" height="3.4" fill="#1f1a00"/>
<rect x="357.2" y="714.0" width="3.2" height="3.4" fill="#1c1a00"/>
<rect x="360.4" y="714.0" width="3.2" height="3.4" fill="#2e1a00"/>
<rect x="363.6" y="714.0" width="3.2" height="3.4" fill="#3d1a00"/>
<rect x="366.8" y="714.0" width="3.2" height="3.4" fill="#331a00"/>
<rect x="370.0" y="714.0" width="3.2" height="3.4" fill="#381a00"/>
<rect x="373.2" y="714.0" width="3.2" height="3.4" fill="#401a00"/>
<rect x="376.4" y="714.0" width="3.2" height="3.4" fill="#4a1a00"/>
<rect x="379.6" y="714.0" width="3.2" height="3.4" fill="#3d1a00"/>
<rect x="382.8" y="714.0" width="3.2" height="3.4" fill="#421a00"/>
<rect x="386.0" y="714.0" width="3.2" height="3.4" fill="#3d1a00"/>
<rect x="389.2" y="714.0" width="6.4" height="3.4" fill="#4c1a00"/>
<rect x="395.6" y="714.0" width="3.2" height="3.4" fill="#361a00"/>
<rect x="398.8" y="714.0" width="3.2" height="3.4" fill="#3d1a00"/>
<rect x="402.0" y="714.0" width="3.2" height="3.4" fill="#361a00"/>
<rect x="405.2" y="714.0" width="3.2" height="3.4" fill="#2e1a00"/>
<rect x="408.4" y="714.0" width="3.2" height="3.4" fill="#291a00"/>
<rect x="411.6" y="714.0" width="3.2" height="3.4" fill="#1c1a00"/>
<rect x="389.2" y="717.4" width="3.2" height="3.4" fill="#1c1a00"/>
</g>
<g filter="url(#b0_9)">
<ellipse cx="369.00" cy="690.00" rx="6.00" ry="1.80" fill="#a30000"/>
<ellipse cx="370.00" cy="690.20" rx="3.00" ry="1.10" fill="#b20000"/>
<ellipse cx="403.00" cy="689.80" rx="3.00" ry="2.00" fill="#8f0000"/>
<ellipse cx="403.00" cy="708.90" rx="4.00" ry="2.20" fill="#940000"/>
</g>
</g></g>
<rect x="84.4" y="680.3" width="525.90" height="1" fill="#12124a" opacity="0.45"/>
<rect x="84.4" y="719.80" width="525.90" height="1" fill="#1a1a40" opacity="0.55"/>
<text x="0" y="18.7" font-size="33" transform="translate(-0.4,0) scale(0.95,1)">a</text>
<text x="0" y="285.7" font-size="33" transform="translate(-1.0,0) scale(1.12,1)">b</text>
<text x="0" y="552.6" font-size="33" transform="translate(-0.6,0) scale(1.13,1)">c</text>
<text x="84.0" y="18.4" font-size="15" font-weight="bold" textLength="281.3" lengthAdjust="spacing" stroke="#000" stroke-width="0.2">CFD,  Principal laminar viscous stress</text>
<text x="83.4" y="151.8" font-size="15" font-weight="bold" textLength="296.6" lengthAdjust="spacing" stroke="#000" stroke-width="0.2">MRI simulation, Laminar viscous stress</text>
<text x="84.0" y="280.6" font-size="15" font-weight="bold" textLength="232.4" lengthAdjust="spacing" stroke="#000" stroke-width="0.2">CFD, Principal Reynolds stress</text>
<text x="83.4" y="414.2" font-size="15" font-weight="bold" textLength="245.0" lengthAdjust="spacing" stroke="#000" stroke-width="0.2">MRI simulation, Reynolds stress</text>
<text x="84.0" y="543.4" font-size="15" font-weight="bold" textLength="276.1" lengthAdjust="spacing" stroke="#000" stroke-width="0.2">CFD, Turbulent viscous shear stress</text>
<text x="83.4" y="676.1" font-size="15" font-weight="bold" textLength="352.7" lengthAdjust="spacing" stroke="#000" stroke-width="0.2">MRI simulation, Turbulent viscous shear stress</text>
<text x="79.3" y="27.9" font-size="13.8" fill="#505050" stroke="#505050" stroke-width="0.25" text-anchor="end">0.5</text>
<text x="79.3" y="49.1" font-size="13.8" fill="#505050" stroke="#505050" stroke-width="0.25" text-anchor="end">0</text>
<text x="79.3" y="70.4" font-size="13.8" fill="#505050" stroke="#505050" stroke-width="0.25" text-anchor="end">-0.5</text>
<text transform="translate(48.5,44.2) rotate(-90)" font-size="17.6" fill="#505050" stroke="#505050" stroke-width="0.25" text-anchor="middle">Y/D</text>
<text x="84.4" y="83.3" font-size="13.8" fill="#505050" stroke="#505050" stroke-width="0.25" text-anchor="middle">-2</text>
<text x="168.7" y="83.3" font-size="13.8" fill="#505050" stroke="#505050" stroke-width="0.25" text-anchor="middle">0</text>
<text x="253.0" y="83.3" font-size="13.8" fill="#505050" stroke="#505050" stroke-width="0.25" text-anchor="middle">2</text>
<text x="337.4" y="83.3" font-size="13.8" fill="#505050" stroke="#505050" stroke-width="0.25" text-anchor="middle">4</text>
<text x="421.7" y="83.3" font-size="13.8" fill="#505050" stroke="#505050" stroke-width="0.25" text-anchor="middle">6</text>
<text x="506.1" y="83.3" font-size="13.8" fill="#505050" stroke="#505050" stroke-width="0.25" text-anchor="middle">8</text>
<text x="590.4" y="83.3" font-size="13.8" fill="#505050" stroke="#505050" stroke-width="0.25" text-anchor="middle">10</text>
<text x="346.7" y="103.7" font-size="17" fill="#505050" stroke="#505050" stroke-width="0.25" text-anchor="middle" textLength="28.6" lengthAdjust="spacingAndGlyphs">X/D</text>
<text x="79.3" y="159.9" font-size="13.8" fill="#505050" stroke="#505050" stroke-width="0.25" text-anchor="end">0.5</text>
<text x="79.3" y="180.4" font-size="13.8" fill="#505050" stroke="#505050" stroke-width="0.25" text-anchor="end">0</text>
<text x="79.3" y="200.9" font-size="13.8" fill="#505050" stroke="#505050" stroke-width="0.25" text-anchor="end">-0.5</text>
<text transform="translate(48.5,175.5) rotate(-90)" font-size="17.6" fill="#505050" stroke="#505050" stroke-width="0.25" text-anchor="middle">Y/D</text>
<text x="84.4" y="213.6" font-size="13.8" fill="#505050" stroke="#505050" stroke-width="0.25" text-anchor="middle">-2</text>
<text x="168.7" y="213.6" font-size="13.8" fill="#505050" stroke="#505050" stroke-width="0.25" text-anchor="middle">0</text>
<text x="253.0" y="213.6" font-size="13.8" fill="#505050" stroke="#505050" stroke-width="0.25" text-anchor="middle">2</text>
<text x="337.4" y="213.6" font-size="13.8" fill="#505050" stroke="#505050" stroke-width="0.25" text-anchor="middle">4</text>
<text x="421.7" y="213.6" font-size="13.8" fill="#505050" stroke="#505050" stroke-width="0.25" text-anchor="middle">6</text>
<text x="506.1" y="213.6" font-size="13.8" fill="#505050" stroke="#505050" stroke-width="0.25" text-anchor="middle">8</text>
<text x="590.4" y="213.6" font-size="13.8" fill="#505050" stroke="#505050" stroke-width="0.25" text-anchor="middle">10</text>
<text x="346.7" y="234.0" font-size="17" fill="#505050" stroke="#505050" stroke-width="0.25" text-anchor="middle" textLength="28.6" lengthAdjust="spacingAndGlyphs">X/D</text>
<text x="79.3" y="290.3" font-size="13.8" fill="#505050" stroke="#505050" stroke-width="0.25" text-anchor="end">0.5</text>
<text x="79.3" y="311.5" font-size="13.8" fill="#505050" stroke="#505050" stroke-width="0.25" text-anchor="end">0</text>
<text x="79.3" y="332.8" font-size="13.8" fill="#505050" stroke="#505050" stroke-width="0.25" text-anchor="end">-0.5</text>
<text transform="translate(48.5,306.6) rotate(-90)" font-size="17.6" fill="#505050" stroke="#505050" stroke-width="0.25" text-anchor="middle">Y/D</text>
<text x="84.4" y="344.2" font-size="13.8" fill="#505050" stroke="#505050" stroke-width="0.25" text-anchor="middle">-2</text>
<text x="168.7" y="344.2" font-size="13.8" fill="#505050" stroke="#505050" stroke-width="0.25" text-anchor="middle">0</text>
<text x="253.0" y="344.2" font-size="13.8" fill="#505050" stroke="#505050" stroke-width="0.25" text-anchor="middle">2</text>
<text x="337.4" y="344.2" font-size="13.8" fill="#505050" stroke="#505050" stroke-width="0.25" text-anchor="middle">4</text>
<text x="421.7" y="344.2" font-size="13.8" fill="#505050" stroke="#505050" stroke-width="0.25" text-anchor="middle">6</text>
<text x="506.1" y="344.2" font-size="13.8" fill="#505050" stroke="#505050" stroke-width="0.25" text-anchor="middle">8</text>
<text x="590.4" y="344.2" font-size="13.8" fill="#505050" stroke="#505050" stroke-width="0.25" text-anchor="middle">10</text>
<text x="346.7" y="364.6" font-size="17" fill="#505050" stroke="#505050" stroke-width="0.25" text-anchor="middle" textLength="28.6" lengthAdjust="spacingAndGlyphs">X/D</text>
<text x="79.3" y="422.6" font-size="13.8" fill="#505050" stroke="#505050" stroke-width="0.25" text-anchor="end">0.5</text>
<text x="79.3" y="443.0" font-size="13.8" fill="#505050" stroke="#505050" stroke-width="0.25" text-anchor="end">0</text>
<text x="79.3" y="463.4" font-size="13.8" fill="#505050" stroke="#505050" stroke-width="0.25" text-anchor="end">-0.5</text>
<text transform="translate(48.5,438.1) rotate(-90)" font-size="17.6" fill="#505050" stroke="#505050" stroke-width="0.25" text-anchor="middle">Y/D</text>
<text x="84.4" y="474.7" font-size="13.8" fill="#505050" stroke="#505050" stroke-width="0.25" text-anchor="middle">-2</text>
<text x="168.7" y="474.7" font-size="13.8" fill="#505050" stroke="#505050" stroke-width="0.25" text-anchor="middle">0</text>
<text x="253.0" y="474.7" font-size="13.8" fill="#505050" stroke="#505050" stroke-width="0.25" text-anchor="middle">2</text>
<text x="337.4" y="474.7" font-size="13.8" fill="#505050" stroke="#505050" stroke-width="0.25" text-anchor="middle">4</text>
<text x="421.7" y="474.7" font-size="13.8" fill="#505050" stroke="#505050" stroke-width="0.25" text-anchor="middle">6</text>
<text x="506.1" y="474.7" font-size="13.8" fill="#505050" stroke="#505050" stroke-width="0.25" text-anchor="middle">8</text>
<text x="590.4" y="474.7" font-size="13.8" fill="#505050" stroke="#505050" stroke-width="0.25" text-anchor="middle">10</text>
<text x="346.7" y="495.1" font-size="17" fill="#505050" stroke="#505050" stroke-width="0.25" text-anchor="middle" textLength="28.6" lengthAdjust="spacingAndGlyphs">X/D</text>
<text x="79.3" y="553.1" font-size="13.8" fill="#505050" stroke="#505050" stroke-width="0.25" text-anchor="end">0.5</text>
<text x="79.3" y="574.4" font-size="13.8" fill="#505050" stroke="#505050" stroke-width="0.25" text-anchor="end">0</text>
<text x="79.3" y="595.8" font-size="13.8" fill="#505050" stroke="#505050" stroke-width="0.25" text-anchor="end">-0.5</text>
<text transform="translate(48.5,569.5) rotate(-90)" font-size="17.6" fill="#505050" stroke="#505050" stroke-width="0.25" text-anchor="middle">Y/D</text>
<text x="84.4" y="607.5" font-size="13.8" fill="#505050" stroke="#505050" stroke-width="0.25" text-anchor="middle">-2</text>
<text x="168.7" y="607.5" font-size="13.8" fill="#505050" stroke="#505050" stroke-width="0.25" text-anchor="middle">0</text>
<text x="253.0" y="607.5" font-size="13.8" fill="#505050" stroke="#505050" stroke-width="0.25" text-anchor="middle">2</text>
<text x="337.4" y="607.5" font-size="13.8" fill="#505050" stroke="#505050" stroke-width="0.25" text-anchor="middle">4</text>
<text x="421.7" y="607.5" font-size="13.8" fill="#505050" stroke="#505050" stroke-width="0.25" text-anchor="middle">6</text>
<text x="506.1" y="607.5" font-size="13.8" fill="#505050" stroke="#505050" stroke-width="0.25" text-anchor="middle">8</text>
<text x="590.4" y="607.5" font-size="13.8" fill="#505050" stroke="#505050" stroke-width="0.25" text-anchor="middle">10</text>
<text x="346.7" y="627.9" font-size="17" fill="#505050" stroke="#505050" stroke-width="0.25" text-anchor="middle" textLength="28.6" lengthAdjust="spacingAndGlyphs">X/D</text>
<text x="79.3" y="685.2" font-size="13.8" fill="#505050" stroke="#505050" stroke-width="0.25" text-anchor="end">0.5</text>
<text x="79.3" y="705.4" font-size="13.8" fill="#505050" stroke="#505050" stroke-width="0.25" text-anchor="end">0</text>
<text x="79.3" y="725.7" font-size="13.8" fill="#505050" stroke="#505050" stroke-width="0.25" text-anchor="end">-0.5</text>
<text transform="translate(48.5,700.5) rotate(-90)" font-size="17.6" fill="#505050" stroke="#505050" stroke-width="0.25" text-anchor="middle">Y/D</text>
<text x="84.4" y="739.0" font-size="13.8" fill="#505050" stroke="#505050" stroke-width="0.25" text-anchor="middle">-2</text>
<text x="168.7" y="739.0" font-size="13.8" fill="#505050" stroke="#505050" stroke-width="0.25" text-anchor="middle">0</text>
<text x="253.0" y="739.0" font-size="13.8" fill="#505050" stroke="#505050" stroke-width="0.25" text-anchor="middle">2</text>
<text x="337.4" y="739.0" font-size="13.8" fill="#505050" stroke="#505050" stroke-width="0.25" text-anchor="middle">4</text>
<text x="421.7" y="739.0" font-size="13.8" fill="#505050" stroke="#505050" stroke-width="0.25" text-anchor="middle">6</text>
<text x="506.1" y="739.0" font-size="13.8" fill="#505050" stroke="#505050" stroke-width="0.25" text-anchor="middle">8</text>
<text x="590.4" y="739.0" font-size="13.8" fill="#505050" stroke="#505050" stroke-width="0.25" text-anchor="middle">10</text>
<text x="346.7" y="759.4" font-size="17" fill="#505050" stroke="#505050" stroke-width="0.25" text-anchor="middle" textLength="28.6" lengthAdjust="spacingAndGlyphs">X/D</text>
<g filter="url(#jm)"><rect x="621" y="23.5" width="20" height="170.5" fill="url(#cbg)"/></g>
<rect x="620.8" y="23.5" width="20.4" height="170.5" fill="none" stroke="#333" stroke-width="0.8"/>
<line x1="638.5" x2="641" y1="194.0" y2="194.0" stroke="#333" stroke-width="0.6"/>
<text x="645.6" y="198.6" font-size="13" fill="#505050" stroke="#505050" stroke-width="0.25">0</text>
<line x1="638.5" x2="641" y1="159.9" y2="159.9" stroke="#333" stroke-width="0.6"/>
<text x="645.6" y="164.5" font-size="13" fill="#505050" stroke="#505050" stroke-width="0.25">0.1</text>
<line x1="638.5" x2="641" y1="125.8" y2="125.8" stroke="#333" stroke-width="0.6"/>
<text x="645.6" y="130.4" font-size="13" fill="#505050" stroke="#505050" stroke-width="0.25">0.2</text>
<line x1="638.5" x2="641" y1="91.7" y2="91.7" stroke="#333" stroke-width="0.6"/>
<text x="645.6" y="96.3" font-size="13" fill="#505050" stroke="#505050" stroke-width="0.25">0.3</text>
<line x1="638.5" x2="641" y1="57.6" y2="57.6" stroke="#333" stroke-width="0.6"/>
<text x="645.6" y="62.2" font-size="13" fill="#505050" stroke="#505050" stroke-width="0.25">0.4</text>
<line x1="638.5" x2="641" y1="23.5" y2="23.5" stroke="#333" stroke-width="0.6"/>
<text x="645.6" y="28.1" font-size="13" fill="#505050" stroke="#505050" stroke-width="0.25">0.5</text>
<text transform="translate(681.2,190.3) rotate(-90)" font-size="12.4" fill="#505050" stroke="#505050" stroke-width="0.25" textLength="162.7" lengthAdjust="spacing">Laminar viscous stress [N/m<tspan dy="-6.3" font-size="10.5">2</tspan><tspan dy="6.3">]</tspan></text>
<g filter="url(#jm)"><rect x="621" y="288.0" width="20" height="170.4" fill="url(#cbg)"/></g>
<rect x="620.8" y="288.0" width="20.4" height="170.4" fill="none" stroke="#333" stroke-width="0.8"/>
<line x1="638.5" x2="641" y1="458.4" y2="458.4" stroke="#333" stroke-width="0.6"/>
<text x="645.6" y="463.0" font-size="13" fill="#505050" stroke="#505050" stroke-width="0.25">0</text>
<line x1="638.5" x2="641" y1="424.3" y2="424.3" stroke="#333" stroke-width="0.6"/>
<text x="645.6" y="428.9" font-size="13" fill="#505050" stroke="#505050" stroke-width="0.25">2</text>
<line x1="638.5" x2="641" y1="390.2" y2="390.2" stroke="#333" stroke-width="0.6"/>
<text x="645.6" y="394.8" font-size="13" fill="#505050" stroke="#505050" stroke-width="0.25">4</text>
<line x1="638.5" x2="641" y1="356.2" y2="356.2" stroke="#333" stroke-width="0.6"/>
<text x="645.6" y="360.8" font-size="13" fill="#505050" stroke="#505050" stroke-width="0.25">6</text>
<line x1="638.5" x2="641" y1="322.1" y2="322.1" stroke="#333" stroke-width="0.6"/>
<text x="645.6" y="326.7" font-size="13" fill="#505050" stroke="#505050" stroke-width="0.25">8</text>
<line x1="638.5" x2="641" y1="288.0" y2="288.0" stroke="#333" stroke-width="0.6"/>
<text x="645.6" y="292.6" font-size="13" fill="#505050" stroke="#505050" stroke-width="0.25">10</text>
<text transform="translate(677.5,436.2) rotate(-90)" font-size="12.4" fill="#505050" stroke="#505050" stroke-width="0.25" textLength="126.4" lengthAdjust="spacing">Reynolds stress [N/m<tspan dy="-6.3" font-size="10.5">2</tspan><tspan dy="6.3">]</tspan></text>
<g filter="url(#jm)"><rect x="621" y="550.9" width="20" height="170.0" fill="url(#cbg)"/></g>
<rect x="620.8" y="550.9" width="20.4" height="170.0" fill="none" stroke="#333" stroke-width="0.8"/>
<line x1="638.5" x2="641" y1="720.9" y2="720.9" stroke="#333" stroke-width="0.6"/>
<text x="645.6" y="725.5" font-size="13" fill="#505050" stroke="#505050" stroke-width="0.25">0</text>
<line x1="638.5" x2="641" y1="686.9" y2="686.9" stroke="#333" stroke-width="0.6"/>
<text x="645.6" y="691.5" font-size="13" fill="#505050" stroke="#505050" stroke-width="0.25">0.2</text>
<line x1="638.5" x2="641" y1="652.9" y2="652.9" stroke="#333" stroke-width="0.6"/>
<text x="645.6" y="657.5" font-size="13" fill="#505050" stroke="#505050" stroke-width="0.25">0.4</text>
<line x1="638.5" x2="641" y1="618.9" y2="618.9" stroke="#333" stroke-width="0.6"/>
<text x="645.6" y="623.5" font-size="13" fill="#505050" stroke="#505050" stroke-width="0.25">0.6</text>
<line x1="638.5" x2="641" y1="584.9" y2="584.9" stroke="#333" stroke-width="0.6"/>
<text x="645.6" y="589.5" font-size="13" fill="#505050" stroke="#505050" stroke-width="0.25">0.8</text>
<line x1="638.5" x2="641" y1="550.9" y2="550.9" stroke="#333" stroke-width="0.6"/>
<text x="645.6" y="555.5" font-size="13" fill="#505050" stroke="#505050" stroke-width="0.25">1</text>
<text transform="translate(677.5,738.4) rotate(-90)" font-size="12.4" fill="#505050" stroke="#505050" stroke-width="0.25" textLength="201.6" lengthAdjust="spacing">Turbulent viscous shear stress [N/m<tspan dy="-6.3" font-size="10.5">2</tspan><tspan dy="6.3">]</tspan></text>
</svg></body></html>
